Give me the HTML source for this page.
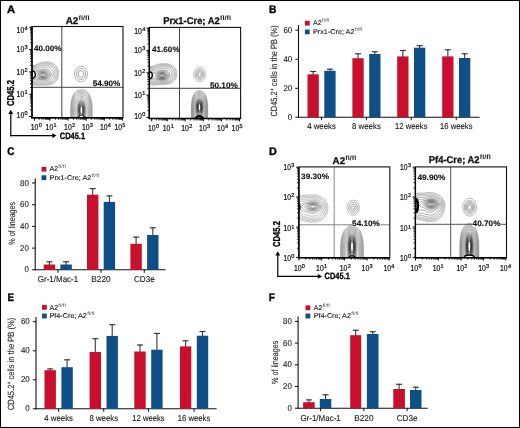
<!DOCTYPE html>
<html><head><meta charset="utf-8"><style>
html,body{margin:0;padding:0;background:#fff;}
body{width:520px;height:428px;overflow:hidden;}
svg{display:block;font-family:"Liberation Sans", sans-serif;will-change:transform;text-rendering:geometricPrecision;}
</style></head><body>
<svg width="520" height="428" viewBox="0 0 520 428">
<rect x="0.5" y="0.5" width="519" height="427" fill="#fff" stroke="#000" stroke-width="1"/>
<text x="7.00" y="12.90" font-size="11.0" font-weight="bold" text-anchor="start" fill="#000" textLength="8.10" lengthAdjust="spacingAndGlyphs" stroke="#000" stroke-width="0.35">A</text>
<text x="268.90" y="13.20" font-size="11.0" font-weight="bold" text-anchor="start" fill="#000" textLength="7.40" lengthAdjust="spacingAndGlyphs" stroke="#000" stroke-width="0.35">B</text>
<text x="7.30" y="154.60" font-size="11.0" font-weight="bold" text-anchor="start" fill="#000" textLength="7.20" lengthAdjust="spacingAndGlyphs" stroke="#000" stroke-width="0.35">C</text>
<text x="269.00" y="154.50" font-size="11.0" font-weight="bold" text-anchor="start" fill="#000" textLength="7.80" lengthAdjust="spacingAndGlyphs" stroke="#000" stroke-width="0.35">D</text>
<text x="7.60" y="301.00" font-size="11.0" font-weight="bold" text-anchor="start" fill="#000" textLength="6.50" lengthAdjust="spacingAndGlyphs" stroke="#000" stroke-width="0.35">E</text>
<text x="268.80" y="301.30" font-size="11.0" font-weight="bold" text-anchor="start" fill="#000" textLength="6.20" lengthAdjust="spacingAndGlyphs" stroke="#000" stroke-width="0.35">F</text>
<clipPath id="clip0"><rect x="32.0" y="26.5" width="91.0" height="91.3"/></clipPath>
<g clip-path="url(#clip0)">
<path d="M29.0,67.5 29.5,67.1 30.0,66.8 30.6,66.4 31.2,66.1 31.8,65.9 32.4,65.7 33.0,65.6 33.6,65.4 34.2,65.3 34.8,65.1 35.4,64.9 36.0,64.6 36.6,64.3 37.2,64.1 37.8,63.8 38.4,63.5 39.0,63.2 39.6,63.0 40.2,62.8 40.8,62.6 41.4,62.4 42.0,62.3 42.6,62.2 43.2,62.1 43.8,62.0 44.4,61.9 45.0,61.9 45.6,61.9 46.2,61.9 46.8,61.9 47.4,61.9 48.0,62.0 48.6,62.1 49.2,62.1 49.8,62.3 50.4,62.4 51.0,62.6 51.6,62.8 52.2,63.1 52.8,63.4 53.4,63.7 54.0,64.1 54.6,64.5 55.1,64.9 55.6,65.4 56.0,65.9 56.5,66.5 56.9,67.1 57.3,67.7 57.6,68.3 57.8,68.9 58.0,69.5 58.2,70.1 58.4,70.7 58.5,71.3 58.5,71.9 58.6,72.5 58.6,73.1 58.6,73.7 58.6,74.3 58.6,74.9 58.5,75.5 58.4,76.1 58.3,76.7 58.1,77.3 57.9,77.9 57.7,78.5 57.4,79.1 57.1,79.7 56.7,80.3 56.2,80.9 55.8,81.4 55.3,81.9 54.8,82.3 54.3,82.7 53.8,83.1 53.2,83.4 52.6,83.7 52.0,84.0 51.4,84.3 50.8,84.5 50.2,84.6 49.6,84.8 49.0,84.9 48.4,85.0 47.8,85.1 47.2,85.1 46.6,85.2 46.0,85.2 45.4,85.2 44.8,85.2 44.2,85.3 43.6,85.3 43.0,85.3 42.4,85.3 41.8,85.3 41.2,85.3 40.6,85.3 40.0,85.3 39.4,85.4 38.8,85.4 38.2,85.4 37.6,85.4 37.0,85.3 36.4,85.3 35.8,85.2 35.2,85.1 34.6,85.0 34.0,84.9 33.4,84.8 32.8,84.6 32.2,84.4 31.6,84.2 31.0,83.9 30.4,83.5 29.8,83.1 29.3,82.7" fill="none" stroke="rgb(95,95,95)" stroke-width="0.4"/>
<path d="M29.0,68.4 29.5,67.9 30.0,67.5 30.6,67.2 31.2,66.9 31.8,66.7 32.4,66.5 33.0,66.4 33.6,66.3 34.2,66.2 34.8,66.1 35.4,65.9 36.0,65.7 36.6,65.4 37.2,65.2 37.8,64.9 38.4,64.6 39.0,64.3 39.6,64.1 40.2,63.9 40.8,63.6 41.4,63.5 42.0,63.3 42.6,63.2 43.2,63.1 43.8,63.0 44.4,62.9 45.0,62.9 45.6,62.9 46.2,62.9 46.8,62.9 47.4,62.9 48.0,63.0 48.6,63.1 49.2,63.2 49.8,63.3 50.4,63.5 51.0,63.7 51.6,63.9 52.2,64.2 52.8,64.6 53.3,64.9 53.9,65.3 54.3,65.7 54.8,66.1 55.3,66.7 55.8,67.3 56.1,67.9 56.5,68.5 56.7,69.1 57.0,69.7 57.1,70.3 57.3,70.9 57.4,71.5 57.5,72.1 57.5,72.7 57.5,73.3 57.5,73.9 57.5,74.5 57.4,75.1 57.4,75.7 57.2,76.3 57.1,76.9 56.9,77.5 56.7,78.1 56.4,78.7 56.0,79.3 55.6,79.9 55.2,80.4 54.8,80.9 54.2,81.4 53.6,81.9 53.0,82.3 52.4,82.7 51.8,83.0 51.2,83.2 50.6,83.4 50.0,83.6 49.4,83.8 48.8,83.9 48.2,84.0 47.6,84.1 47.0,84.1 46.4,84.2 45.8,84.2 45.2,84.2 44.6,84.3 44.0,84.3 43.4,84.3 42.8,84.3 42.2,84.3 41.6,84.3 41.0,84.3 40.4,84.4 39.8,84.4 39.2,84.4 38.6,84.4 38.0,84.4 37.4,84.4 36.8,84.4 36.2,84.3 35.6,84.3 35.0,84.2 34.4,84.1 33.8,84.0 33.2,83.9 32.6,83.7 32.0,83.5 31.4,83.3 30.8,83.0 30.2,82.6 29.6,82.1 29.2,81.7" fill="none" stroke="rgb(89,89,89)" stroke-width="0.4"/>
<path d="M29.0,69.3 29.6,68.7 30.1,68.3 30.6,68.0 31.2,67.7 31.8,67.5 32.4,67.3 33.0,67.2 33.6,67.2 34.2,67.1 34.8,67.1 35.4,67.0 36.0,66.8 36.6,66.6 37.2,66.4 37.8,66.1 38.4,65.9 39.0,65.6 39.6,65.3 40.2,65.1 40.8,64.9 41.4,64.7 42.0,64.5 42.6,64.3 43.2,64.2 43.8,64.1 44.4,64.1 45.0,64.0 45.6,64.0 46.2,64.0 46.8,64.0 47.4,64.1 48.0,64.1 48.6,64.2 49.2,64.4 49.8,64.5 50.4,64.7 51.0,65.0 51.6,65.3 52.2,65.6 52.8,66.0 53.4,66.5 54.0,67.1 54.4,67.5 54.8,68.1 55.2,68.7 55.5,69.3 55.7,69.9 55.9,70.5 56.1,71.1 56.2,71.7 56.2,72.3 56.3,72.9 56.3,73.5 56.3,74.1 56.3,74.7 56.2,75.3 56.1,75.9 55.9,76.5 55.7,77.1 55.5,77.7 55.2,78.3 54.8,78.9 54.4,79.5 54.0,79.9 53.4,80.5 53.0,80.9 52.4,81.3 51.8,81.7 51.2,82.0 50.6,82.2 50.0,82.4 49.4,82.6 48.8,82.8 48.2,82.9 47.6,83.0 47.0,83.0 46.4,83.1 45.8,83.1 45.2,83.1 44.6,83.2 44.0,83.2 43.4,83.2 42.8,83.2 42.2,83.2 41.6,83.2 41.0,83.3 40.4,83.3 39.8,83.3 39.2,83.3 38.6,83.3 38.0,83.3 37.4,83.3 36.8,83.3 36.2,83.3 35.6,83.3 35.0,83.2 34.4,83.2 33.8,83.1 33.2,83.0 32.6,82.8 32.0,82.6 31.4,82.4 30.9,82.1 30.2,81.7 29.7,81.3 29.2,80.8" fill="none" stroke="rgb(84,84,84)" stroke-width="0.4"/>
<path d="M29.0,70.4 29.4,69.9 30.0,69.3 30.6,68.9 31.2,68.6 31.8,68.4 32.4,68.2 33.0,68.2 33.6,68.1 34.2,68.1 34.8,68.1 35.4,68.1 36.0,68.1 36.6,68.0 37.2,67.8 37.8,67.6 38.4,67.3 39.0,67.0 39.6,66.8 40.2,66.5 40.8,66.3 41.4,66.0 42.0,65.9 42.6,65.7 43.2,65.6 43.8,65.5 44.4,65.4 45.0,65.4 45.6,65.3 46.2,65.3 46.8,65.4 47.4,65.4 48.0,65.5 48.6,65.6 49.2,65.8 49.8,66.0 50.4,66.2 51.0,66.5 51.6,66.9 52.2,67.3 52.8,67.9 53.2,68.3 53.6,68.9 54.0,69.5 54.2,70.1 54.5,70.7 54.6,71.3 54.8,71.9 54.8,72.5 54.9,73.1 54.9,73.7 54.9,74.3 54.8,74.9 54.7,75.5 54.6,76.1 54.4,76.7 54.1,77.3 53.8,77.9 53.4,78.5 53.0,79.0 52.5,79.5 52.0,79.9 51.4,80.3 50.8,80.7 50.2,81.0 49.6,81.2 49.0,81.4 48.4,81.5 47.8,81.7 47.2,81.7 46.6,81.8 46.0,81.9 45.4,81.9 44.8,82.0 44.2,82.0 43.6,82.0 43.0,82.0 42.4,82.0 41.8,82.0 41.2,82.1 40.6,82.1 40.0,82.1 39.4,82.1 38.8,82.1 38.2,82.1 37.6,82.1 37.0,82.1 36.4,82.1 35.8,82.1 35.2,82.1 34.6,82.1 34.0,82.1 33.4,82.0 32.8,81.9 32.2,81.7 31.6,81.5 31.0,81.2 30.5,80.9 30.0,80.5 29.4,79.9 29.0,79.3" fill="none" stroke="rgb(78,78,78)" stroke-width="0.4"/>
<path d="M29.0,72.0 29.3,71.3 29.8,70.7 30.2,70.3 30.8,69.8 31.4,69.5 32.0,69.3 32.6,69.2 33.2,69.2 33.8,69.2 34.4,69.3 35.0,69.4 35.6,69.4 36.2,69.4 36.8,69.4 37.4,69.3 38.0,69.1 38.6,68.9 39.2,68.6 39.8,68.4 40.4,68.1 41.0,67.9 41.6,67.7 42.2,67.5 42.8,67.3 43.4,67.2 44.0,67.1 44.6,67.0 45.2,67.0 45.8,67.0 46.4,67.0 47.0,67.0 47.6,67.1 48.2,67.2 48.8,67.4 49.4,67.6 50.0,67.9 50.6,68.3 51.1,68.7 51.6,69.2 52.0,69.7 52.4,70.3 52.7,70.9 52.9,71.5 53.1,72.1 53.2,72.7 53.2,73.3 53.3,73.9 53.2,74.5 53.2,75.1 53.0,75.7 52.9,76.3 52.6,76.8 52.2,77.5 51.8,78.0 51.3,78.5 50.8,78.9 50.2,79.3 49.6,79.6 49.0,79.9 48.4,80.1 47.8,80.3 47.2,80.4 46.6,80.5 46.0,80.6 45.4,80.7 44.8,80.7 44.2,80.8 43.6,80.8 43.0,80.8 42.4,80.8 41.8,80.8 41.2,80.8 40.6,80.8 40.0,80.8 39.4,80.8 38.8,80.8 38.2,80.8 37.6,80.8 37.0,80.8 36.4,80.8 35.8,80.8 35.2,80.9 34.6,80.9 34.0,80.9 33.4,80.9 32.8,80.8 32.2,80.7 31.6,80.5 31.0,80.1 30.4,79.7 29.8,79.1 29.4,78.5 29.1,77.9" fill="none" stroke="rgb(73,73,73)" stroke-width="0.4"/>
<path d="M43.4,79.7 42.8,79.7 42.2,79.7 41.6,79.7 41.0,79.6 40.4,79.6 39.8,79.5 39.2,79.5 38.6,79.4 38.0,79.3 37.4,79.2 36.8,79.2 36.2,79.2 35.6,79.3 35.0,79.4 34.4,79.5 33.8,79.6 33.2,79.6 32.6,79.5 32.0,79.4 31.4,79.1 30.8,78.7 30.4,78.3 30.0,77.7 29.7,77.1 29.5,76.5 29.3,75.9 29.2,75.3 29.2,74.7 29.3,74.1 29.4,73.5 29.6,72.9 29.8,72.3 30.2,71.7 30.6,71.3 31.2,70.8 31.8,70.5 32.4,70.4 33.0,70.4 33.6,70.4 34.2,70.6 34.8,70.7 35.4,70.9 36.0,71.0 36.6,71.0 37.2,70.9 37.8,70.8 38.4,70.6 39.0,70.4 39.6,70.1 40.2,69.9 40.8,69.7 41.4,69.6 42.0,69.4 42.6,69.3 43.2,69.1 43.8,69.1 44.4,69.0 45.0,69.0 45.6,69.0 46.2,69.1 46.8,69.1 47.4,69.3 48.0,69.5 48.6,69.7 49.2,70.1 49.7,70.5 50.2,71.0 50.6,71.5 50.9,72.1 51.1,72.7 51.3,73.3 51.4,73.9 51.4,74.5 51.4,75.1 51.2,75.7 51.0,76.3 50.6,76.9 50.2,77.4 49.6,77.9 49.0,78.3 48.4,78.6 47.8,78.9 47.2,79.1 46.6,79.3 46.0,79.4 45.4,79.5 44.8,79.6 44.2,79.7 43.6,79.7 Z" fill="none" stroke="rgb(67,67,67)" stroke-width="0.4"/>
<path d="M44.0,79.1 43.4,79.2 42.8,79.2 42.2,79.2 41.6,79.1 41.0,79.1 40.4,79.0 39.8,78.9 39.2,78.8 38.6,78.6 38.0,78.5 37.4,78.3 36.8,78.3 36.2,78.2 35.6,78.3 35.0,78.5 34.4,78.6 33.8,78.7 33.2,78.8 32.6,78.7 32.0,78.6 31.5,78.3 31.0,77.9 30.5,77.3 30.2,76.7 29.9,76.1 29.8,75.5 29.8,74.9 29.8,74.3 29.9,73.7 30.1,73.1 30.4,72.5 30.8,72.0 31.4,71.5 32.0,71.2 32.6,71.1 33.2,71.2 33.8,71.3 34.4,71.5 35.0,71.7 35.6,71.9 36.2,72.0 36.8,72.0 37.4,71.8 38.0,71.6 38.6,71.3 39.2,71.1 39.8,70.9 40.4,70.7 41.0,70.5 41.6,70.3 42.2,70.2 42.8,70.1 43.4,70.1 44.0,70.0 44.6,70.0 45.2,70.1 45.8,70.1 46.4,70.3 47.0,70.4 47.6,70.6 48.2,70.9 48.7,71.3 49.2,71.7 49.6,72.2 50.0,72.9 50.2,73.5 50.4,74.1 50.4,74.7 50.3,75.3 50.1,75.9 49.8,76.5 49.4,77.0 48.8,77.5 48.3,77.9 47.6,78.2 47.0,78.5 46.4,78.7 45.8,78.8 45.2,79.0 44.6,79.1 44.0,79.1 Z" fill="none" stroke="rgb(62,62,62)" stroke-width="0.4"/>
<path d="M43.4,78.5 42.8,78.5 42.2,78.5 41.6,78.4 41.0,78.4 40.4,78.2 39.8,78.1 39.2,77.9 38.6,77.7 38.0,77.4 37.4,77.1 36.8,76.8 36.2,76.7 35.6,76.7 35.0,76.9 34.4,77.2 33.8,77.4 33.2,77.6 32.6,77.6 32.0,77.4 31.4,76.9 31.0,76.4 30.7,75.7 30.6,75.1 30.7,74.5 30.8,73.9 31.0,73.3 31.6,72.7 32.2,72.4 32.8,72.3 33.4,72.4 34.0,72.6 34.6,73.0 35.2,73.3 35.8,73.5 36.4,73.5 37.0,73.2 37.6,72.9 38.2,72.6 38.8,72.2 39.4,71.9 40.0,71.7 40.6,71.5 41.2,71.3 41.8,71.2 42.4,71.1 43.0,71.0 43.6,71.0 44.2,71.0 44.8,71.1 45.4,71.2 46.0,71.3 46.6,71.5 47.2,71.8 47.8,72.2 48.4,72.7 48.8,73.3 49.1,73.9 49.2,74.5 49.2,75.1 49.0,75.7 48.6,76.3 48.2,76.8 47.6,77.3 47.0,77.6 46.4,77.9 45.8,78.1 45.2,78.3 44.6,78.4 44.0,78.5 43.4,78.5 Z" fill="none" stroke="rgb(57,57,57)" stroke-width="0.4"/>
<path d="M44.0,77.9 43.4,78.0 42.8,78.0 42.2,77.9 41.6,77.9 41.0,77.8 40.4,77.6 39.8,77.4 39.2,77.1 38.6,76.7 38.1,76.3 37.6,75.7 37.5,75.1 37.6,74.5 38.0,73.9 38.4,73.5 39.0,73.0 39.6,72.6 40.2,72.3 40.8,72.1 41.4,71.9 42.0,71.8 42.6,71.7 43.2,71.7 43.8,71.7 44.4,71.7 45.0,71.8 45.6,72.0 46.2,72.2 46.8,72.6 47.4,73.0 47.8,73.5 48.1,74.1 48.2,74.7 48.1,75.3 47.9,75.9 47.4,76.5 46.9,76.9 46.4,77.2 45.8,77.5 45.2,77.7 44.6,77.8 44.0,77.9 Z" fill="none" stroke="rgb(51,51,51)" stroke-width="0.4"/>
<path d="M33.2,75.9 32.6,76.0 32.0,75.5 31.9,74.9 32.0,74.3 32.5,73.9 33.2,74.0 33.7,74.5 33.8,75.1 33.5,75.7 Z" fill="none" stroke="rgb(51,51,51)" stroke-width="0.4"/>
<path d="M44.6,77.3 44.0,77.4 43.4,77.5 42.8,77.5 42.2,77.5 41.6,77.4 41.0,77.2 40.4,77.0 39.8,76.7 39.3,76.3 38.8,75.7 38.6,75.1 38.7,74.5 39.1,73.9 39.6,73.4 40.2,73.0 40.8,72.7 41.4,72.5 42.0,72.4 42.6,72.3 43.2,72.2 43.8,72.3 44.4,72.3 45.0,72.5 45.6,72.7 46.2,73.0 46.8,73.5 47.2,74.1 47.3,74.7 47.3,75.3 47.0,75.9 46.6,76.3 46.1,76.7 45.4,77.1 44.8,77.3 Z" fill="none" stroke="rgb(46,46,46)" stroke-width="0.4"/>
<path d="M44.2,76.9 43.6,77.0 43.0,77.0 42.4,77.0 41.8,76.9 41.2,76.7 40.6,76.5 40.1,76.1 39.6,75.5 39.5,74.9 39.7,74.3 40.2,73.7 40.8,73.3 41.4,73.1 42.0,72.9 42.6,72.8 43.2,72.8 43.8,72.8 44.4,72.9 45.0,73.1 45.6,73.4 46.1,73.9 46.5,74.5 46.5,75.1 46.2,75.7 45.8,76.2 45.2,76.6 44.6,76.8 Z" fill="none" stroke="rgb(40,40,40)" stroke-width="0.4"/>
<path d="M43.4,76.5 42.8,76.5 42.2,76.5 41.6,76.3 41.0,76.0 40.5,75.5 40.4,74.9 40.6,74.3 41.2,73.8 41.8,73.5 42.4,73.4 43.0,73.3 43.6,73.3 44.2,73.4 44.8,73.7 45.3,74.1 45.7,74.7 45.6,75.3 45.2,75.8 44.6,76.2 44.0,76.4 43.4,76.5 Z" fill="none" stroke="rgb(35,35,35)" stroke-width="0.4"/>
<path d="M43.4,75.9 42.8,75.9 42.2,75.8 41.6,75.4 41.5,74.7 42.0,74.2 42.6,74.0 43.2,73.9 43.8,74.0 44.4,74.4 44.6,75.1 44.2,75.6 43.6,75.9 Z" fill="none" stroke="rgb(30,30,30)" stroke-width="0.4"/>
<path d="M32.00,70.90 A3.30,3.80 0 0 1 32.00,78.50 Z" fill="#fff" stroke="#000" stroke-width="1.4"/>
<path d="M81.2,81.9 80.6,81.9 80.0,81.8 79.4,81.7 78.8,81.4 78.2,81.1 77.6,80.7 77.1,80.3 76.6,79.7 76.2,79.2 75.8,78.7 75.5,78.1 75.3,77.5 75.0,76.9 74.9,76.3 74.7,75.7 74.7,75.1 74.6,74.5 74.6,73.9 74.6,73.3 74.7,72.7 74.8,72.1 74.9,71.5 75.1,70.9 75.3,70.3 75.6,69.8 76.0,69.1 76.4,68.5 76.8,68.0 77.4,67.5 77.9,67.1 78.4,66.8 79.0,66.5 79.6,66.3 80.2,66.2 80.8,66.1 81.4,66.1 82.0,66.2 82.6,66.3 83.2,66.6 83.8,66.9 84.4,67.3 84.9,67.7 85.4,68.3 85.8,68.8 86.2,69.3 86.5,69.9 86.7,70.5 87.0,71.1 87.1,71.7 87.3,72.3 87.3,72.9 87.4,73.5 87.4,74.1 87.4,74.7 87.3,75.3 87.2,75.9 87.1,76.5 86.9,77.1 86.7,77.7 86.4,78.2 86.0,78.9 85.6,79.5 85.2,80.0 84.6,80.5 84.1,80.9 83.6,81.2 83.0,81.5 82.4,81.7 81.8,81.8 81.2,81.9 Z" fill="none" stroke="rgb(90,90,90)" stroke-width="0.5"/>
<path d="M81.4,79.5 80.8,79.5 80.2,79.4 79.6,79.3 79.0,79.0 78.4,78.5 77.8,77.9 77.4,77.3 77.1,76.7 76.9,76.1 76.7,75.5 76.6,74.9 76.5,74.3 76.5,73.7 76.6,73.1 76.7,72.5 76.9,71.9 77.1,71.3 77.4,70.7 77.8,70.1 78.4,69.5 78.9,69.1 79.6,68.7 80.2,68.6 80.8,68.5 81.4,68.5 82.0,68.6 82.6,68.8 83.2,69.2 83.8,69.7 84.3,70.3 84.7,70.9 85.0,71.5 85.2,72.1 85.4,72.7 85.4,73.3 85.5,73.9 85.5,74.5 85.4,75.1 85.3,75.7 85.1,76.3 84.8,76.9 84.5,77.5 84.0,78.1 83.4,78.7 82.8,79.1 82.2,79.3 81.6,79.5 Z" fill="none" stroke="rgb(75,75,75)" stroke-width="0.5"/>
<path d="M81.2,77.3 80.6,77.3 80.0,77.1 79.4,76.7 79.0,76.2 78.7,75.7 78.4,75.1 78.3,74.5 78.3,73.9 78.4,73.3 78.5,72.7 78.8,72.1 79.2,71.5 79.7,71.1 80.2,70.8 80.8,70.7 81.4,70.7 82.0,70.9 82.6,71.3 83.0,71.8 83.3,72.3 83.6,72.9 83.7,73.5 83.7,74.1 83.6,74.7 83.5,75.3 83.2,75.9 82.8,76.5 82.3,76.9 81.8,77.2 81.2,77.3 Z" fill="none" stroke="rgb(60,60,60)" stroke-width="0.5"/>
<path d="M71.0,120.7 70.9,120.1 70.9,119.5 70.8,118.9 70.8,118.3 70.7,117.7 70.7,117.1 70.7,116.5 70.7,115.9 70.6,115.3 70.6,114.7 70.6,114.1 70.6,113.5 70.6,112.9 70.6,112.3 70.6,111.7 70.6,111.1 70.6,110.5 70.6,109.9 70.6,109.3 70.6,108.7 70.7,108.1 70.7,107.5 70.7,106.9 70.7,106.3 70.8,105.7 70.8,105.1 70.9,104.5 70.9,103.9 71.0,103.3 71.1,102.7 71.2,102.1 71.2,101.5 71.4,100.9 71.5,100.3 71.6,99.7 71.7,99.1 71.9,98.5 72.1,97.9 72.2,97.3 72.5,96.7 72.7,96.1 72.9,95.5 73.2,94.9 73.6,94.3 73.9,93.7 74.3,93.1 74.8,92.5 75.4,91.9 75.9,91.5 76.4,91.1 77.0,90.8 77.5,90.5 78.2,90.3 78.8,90.1 79.4,90.0 80.0,89.9 80.6,89.8 81.2,89.8 81.8,89.8 82.4,89.8 83.0,89.9 83.6,90.0 84.2,90.1 84.8,90.3 85.4,90.6 86.0,90.9 86.6,91.2 87.2,91.7 87.8,92.3 88.2,92.8 88.6,93.3 89.0,93.9 89.4,94.5 89.7,95.1 89.9,95.7 90.2,96.3 90.4,96.9 90.6,97.5 90.8,98.1 91.0,98.7 91.1,99.3 91.3,99.9 91.4,100.5 91.5,101.1 91.6,101.7 91.7,102.3 91.8,102.9 91.8,103.5 91.9,104.1 91.9,104.7 92.0,105.3 92.0,105.9 92.1,106.5 92.1,107.1 92.1,107.7 92.1,108.3 92.2,108.9 92.2,109.5 92.2,110.1 92.2,110.7 92.2,111.3 92.2,111.9 92.2,112.5 92.2,113.1 92.2,113.7 92.2,114.3 92.2,114.9 92.1,115.5 92.1,116.1 92.1,116.7 92.1,117.3 92.0,117.9 92.0,118.5 92.0,119.1 91.9,119.7 91.8,120.3" fill="none" stroke="rgb(85,85,85)" stroke-width="0.42"/>
<path d="M71.6,120.7 71.5,120.1 71.5,119.5 71.4,118.9 71.4,118.3 71.3,117.7 71.3,117.1 71.3,116.5 71.3,115.9 71.2,115.3 71.2,114.7 71.2,114.1 71.2,113.5 71.2,112.9 71.2,112.3 71.2,111.7 71.2,111.1 71.2,110.5 71.2,109.9 71.2,109.3 71.2,108.7 71.3,108.1 71.3,107.5 71.3,106.9 71.3,106.3 71.4,105.7 71.4,105.1 71.5,104.5 71.5,103.9 71.6,103.3 71.7,102.7 71.8,102.1 71.9,101.5 72.0,100.9 72.1,100.3 72.3,99.7 72.4,99.1 72.6,98.5 72.8,97.9 73.0,97.3 73.3,96.7 73.5,96.1 73.8,95.5 74.2,94.9 74.6,94.3 75.0,93.8 75.4,93.3 76.0,92.7 76.6,92.3 77.2,91.9 77.8,91.6 78.4,91.4 79.0,91.2 79.6,91.1 80.2,91.0 80.8,91.0 81.4,91.0 82.0,91.0 82.6,91.0 83.2,91.1 83.8,91.2 84.4,91.4 85.0,91.6 85.6,91.9 86.2,92.3 86.7,92.7 87.2,93.1 87.7,93.7 88.2,94.3 88.6,94.9 89.0,95.5 89.3,96.1 89.5,96.7 89.8,97.3 90.0,97.9 90.2,98.5 90.4,99.1 90.5,99.7 90.7,100.3 90.8,100.9 90.9,101.5 91.0,102.1 91.1,102.7 91.2,103.3 91.3,103.9 91.3,104.5 91.4,105.1 91.4,105.7 91.5,106.3 91.5,106.9 91.5,107.5 91.5,108.1 91.6,108.7 91.6,109.3 91.6,109.9 91.6,110.5 91.6,111.1 91.6,111.7 91.6,112.3 91.6,112.9 91.6,113.5 91.6,114.1 91.6,114.7 91.6,115.3 91.5,115.9 91.5,116.5 91.5,117.1 91.5,117.7 91.4,118.3 91.4,118.9 91.3,119.5 91.3,120.1 91.2,120.7" fill="none" stroke="rgb(81,81,81)" stroke-width="0.42"/>
<path d="M72.3,120.7 72.2,120.1 72.2,119.5 72.1,118.9 72.0,118.3 72.0,117.7 72.0,117.1 71.9,116.5 71.9,115.9 71.9,115.3 71.9,114.7 71.9,114.1 71.9,113.5 71.9,112.9 71.9,112.3 71.9,111.7 71.9,111.1 71.9,110.5 71.9,109.9 71.9,109.3 71.9,108.7 71.9,108.1 71.9,107.5 72.0,106.9 72.0,106.3 72.0,105.7 72.1,105.1 72.2,104.5 72.2,103.9 72.3,103.3 72.4,102.7 72.5,102.1 72.6,101.5 72.8,100.9 72.9,100.3 73.1,99.7 73.3,99.1 73.5,98.5 73.7,97.9 73.9,97.3 74.2,96.7 74.6,96.1 75.0,95.5 75.4,94.9 75.8,94.5 76.4,93.9 76.9,93.5 77.6,93.1 78.2,92.8 78.8,92.6 79.4,92.4 80.0,92.3 80.6,92.2 81.2,92.2 81.8,92.2 82.4,92.2 83.0,92.3 83.6,92.5 84.2,92.7 84.8,92.9 85.4,93.2 86.0,93.6 86.6,94.1 87.2,94.7 87.6,95.2 88.0,95.7 88.3,96.3 88.7,96.9 88.9,97.5 89.2,98.1 89.4,98.7 89.6,99.3 89.8,99.9 89.9,100.5 90.1,101.1 90.2,101.7 90.3,102.3 90.4,102.9 90.5,103.5 90.6,104.1 90.7,104.7 90.7,105.3 90.8,105.9 90.8,106.5 90.8,107.1 90.9,107.7 90.9,108.3 90.9,108.9 90.9,109.5 90.9,110.1 90.9,110.7 90.9,111.3 90.9,111.9 90.9,112.5 90.9,113.1 90.9,113.7 90.9,114.3 90.9,114.9 90.9,115.5 90.9,116.1 90.9,116.7 90.8,117.3 90.8,117.9 90.7,118.5 90.7,119.1 90.6,119.7 90.5,120.3" fill="none" stroke="rgb(78,78,78)" stroke-width="0.42"/>
<path d="M73.1,120.7 73.0,120.1 72.9,119.5 72.9,118.9 72.8,118.3 72.7,117.7 72.7,117.1 72.7,116.5 72.6,115.9 72.6,115.3 72.6,114.7 72.6,114.1 72.6,113.5 72.6,112.9 72.6,112.3 72.6,111.7 72.6,111.1 72.6,110.5 72.6,109.9 72.6,109.3 72.6,108.7 72.6,108.1 72.7,107.5 72.7,106.9 72.7,106.3 72.8,105.7 72.9,105.1 72.9,104.5 73.0,103.9 73.1,103.3 73.2,102.7 73.3,102.1 73.5,101.5 73.6,100.9 73.8,100.3 74.0,99.7 74.2,99.1 74.5,98.5 74.8,97.9 75.1,97.3 75.5,96.7 75.9,96.1 76.4,95.6 77.0,95.1 77.5,94.7 78.2,94.3 78.8,94.0 79.4,93.8 80.0,93.6 80.6,93.5 81.2,93.4 81.8,93.4 82.4,93.5 83.0,93.7 83.6,93.8 84.2,94.1 84.8,94.4 85.4,94.8 86.0,95.2 86.5,95.7 87.0,96.3 87.4,96.8 87.8,97.5 88.1,98.1 88.4,98.7 88.7,99.3 88.9,99.9 89.1,100.5 89.2,101.1 89.4,101.7 89.5,102.3 89.6,102.9 89.7,103.5 89.8,104.1 89.9,104.7 90.0,105.3 90.0,105.9 90.1,106.5 90.1,107.1 90.1,107.7 90.2,108.3 90.2,108.9 90.2,109.5 90.2,110.1 90.2,110.7 90.2,111.3 90.2,111.9 90.2,112.5 90.2,113.1 90.2,113.7 90.2,114.3 90.2,114.9 90.2,115.5 90.2,116.1 90.1,116.7 90.1,117.3 90.0,117.9 90.0,118.5 89.9,119.1 89.8,119.7 89.8,120.3" fill="none" stroke="rgb(74,74,74)" stroke-width="0.42"/>
<path d="M74.0,120.7 73.9,120.1 73.8,119.5 73.7,118.9 73.7,118.3 73.6,117.7 73.6,117.1 73.5,116.5 73.5,115.9 73.5,115.3 73.4,114.7 73.4,114.1 73.4,113.5 73.4,112.9 73.4,112.3 73.4,111.7 73.4,111.1 73.4,110.5 73.4,109.9 73.4,109.3 73.5,108.7 73.5,108.1 73.5,107.5 73.6,106.9 73.6,106.3 73.7,105.7 73.7,105.1 73.8,104.5 73.9,103.9 74.0,103.3 74.2,102.7 74.3,102.1 74.5,101.5 74.7,100.9 74.9,100.3 75.2,99.7 75.5,99.1 75.8,98.5 76.2,97.9 76.6,97.4 77.1,96.9 77.6,96.4 78.2,96.0 78.8,95.6 79.4,95.3 80.0,95.0 80.6,94.9 81.2,94.8 81.8,94.8 82.4,94.9 83.0,95.1 83.6,95.4 84.2,95.7 84.8,96.1 85.3,96.5 85.8,97.0 86.3,97.5 86.7,98.1 87.1,98.7 87.5,99.3 87.7,99.9 88.0,100.5 88.2,101.1 88.4,101.7 88.5,102.3 88.7,102.9 88.8,103.5 88.9,104.1 89.0,104.7 89.1,105.3 89.2,105.9 89.2,106.5 89.3,107.1 89.3,107.7 89.3,108.3 89.4,108.9 89.4,109.5 89.4,110.1 89.4,110.7 89.4,111.3 89.4,111.9 89.4,112.5 89.4,113.1 89.4,113.7 89.4,114.3 89.4,114.9 89.3,115.5 89.3,116.1 89.3,116.7 89.2,117.3 89.2,117.9 89.1,118.5 89.0,119.1 88.9,119.7 88.8,120.3" fill="none" stroke="rgb(71,71,71)" stroke-width="0.42"/>
<path d="M75.2,120.7 75.1,120.1 74.9,119.5 74.8,118.9 74.7,118.3 74.7,117.7 74.6,117.1 74.5,116.5 74.5,115.9 74.5,115.3 74.4,114.7 74.4,114.1 74.4,113.5 74.4,112.9 74.4,112.3 74.4,111.7 74.4,111.1 74.4,110.5 74.4,109.9 74.4,109.3 74.5,108.7 74.5,108.1 74.5,107.5 74.6,106.9 74.7,106.3 74.7,105.7 74.8,105.1 74.9,104.5 75.1,103.9 75.2,103.3 75.4,102.7 75.6,102.1 75.8,101.5 76.1,100.9 76.4,100.3 76.7,99.7 77.1,99.1 77.6,98.5 78.2,97.9 78.6,97.5 79.2,97.0 79.8,96.6 80.4,96.3 81.0,96.2 81.6,96.2 82.2,96.3 82.8,96.5 83.4,96.9 84.0,97.3 84.6,97.9 85.2,98.5 85.6,99.0 86.0,99.6 86.3,100.1 86.6,100.7 86.9,101.3 87.2,101.9 87.4,102.5 87.5,103.1 87.7,103.7 87.8,104.3 87.9,104.9 88.0,105.5 88.1,106.1 88.2,106.7 88.2,107.3 88.3,107.9 88.3,108.5 88.3,109.1 88.4,109.7 88.4,110.3 88.4,110.9 88.4,111.5 88.4,112.1 88.4,112.7 88.4,113.3 88.4,113.9 88.4,114.5 88.3,115.1 88.3,115.7 88.3,116.3 88.2,116.9 88.2,117.5 88.1,118.1 88.0,118.7 87.9,119.3 87.8,119.9 87.6,120.5" fill="none" stroke="rgb(67,67,67)" stroke-width="0.42"/>
<path d="M76.8,120.7 76.6,120.1 76.4,119.5 76.2,118.9 76.1,118.3 76.0,117.7 75.9,117.1 75.9,116.5 75.8,115.9 75.8,115.3 75.7,114.7 75.7,114.1 75.7,113.5 75.7,112.9 75.7,112.3 75.7,111.7 75.7,111.1 75.7,110.5 75.7,109.9 75.7,109.3 75.7,108.7 75.8,108.1 75.8,107.5 75.9,106.9 76.0,106.3 76.1,105.7 76.2,105.1 76.3,104.5 76.5,103.9 76.7,103.3 76.9,102.7 77.1,102.1 77.4,101.5 77.7,100.9 78.1,100.3 78.4,99.8 78.8,99.2 79.2,98.8 79.7,98.3 80.2,97.9 80.7,97.7 81.4,97.6 82.0,97.7 82.6,97.9 83.1,98.3 83.6,98.8 84.0,99.2 84.4,99.8 84.7,100.3 85.1,100.9 85.4,101.5 85.7,102.1 85.9,102.7 86.1,103.3 86.3,103.9 86.5,104.5 86.6,105.1 86.7,105.7 86.8,106.3 86.9,106.9 87.0,107.5 87.0,108.1 87.1,108.7 87.1,109.3 87.1,109.9 87.1,110.5 87.1,111.1 87.1,111.7 87.1,112.3 87.1,112.9 87.1,113.5 87.1,114.1 87.1,114.7 87.0,115.3 87.0,115.9 86.9,116.5 86.9,117.1 86.8,117.7 86.7,118.3 86.6,118.9 86.4,119.5 86.2,120.1 86.0,120.7" fill="none" stroke="rgb(64,64,64)" stroke-width="0.42"/>
<path d="M78.3,120.7 77.8,120.2 77.4,119.7 77.1,119.1 77.0,118.5 77.0,117.9 77.1,117.3 77.3,116.7 77.3,116.1 77.3,115.5 77.2,114.9 77.1,114.3 77.1,113.7 77.1,113.1 77.1,112.5 77.0,111.9 77.0,111.3 77.0,110.7 77.0,110.1 77.0,109.5 77.1,108.9 77.1,108.3 77.2,107.7 77.2,107.1 77.3,106.5 77.4,105.9 77.5,105.3 77.6,104.7 77.8,104.1 78.0,103.5 78.2,102.9 78.4,102.3 78.7,101.7 79.0,101.1 79.3,100.5 79.8,99.9 80.3,99.5 80.8,99.2 81.4,99.1 82.0,99.2 82.5,99.5 83.0,99.9 83.4,100.4 83.8,101.0 84.1,101.7 84.4,102.3 84.6,102.9 84.8,103.5 85.0,104.1 85.2,104.7 85.3,105.3 85.4,105.9 85.5,106.5 85.6,107.1 85.6,107.7 85.7,108.3 85.7,108.9 85.8,109.5 85.8,110.1 85.8,110.7 85.8,111.3 85.8,111.9 85.7,112.5 85.7,113.1 85.7,113.7 85.7,114.3 85.6,114.9 85.5,115.5 85.5,116.1 85.5,116.7 85.7,117.3 85.8,117.9 85.8,118.5 85.7,119.1 85.4,119.7 85.0,120.2 84.5,120.7" fill="none" stroke="rgb(60,60,60)" stroke-width="0.42"/>
<path d="M78.7,120.7 78.2,120.3 77.6,119.7 77.3,119.1 77.2,118.5 77.2,117.9 77.4,117.3 77.8,116.7 78.1,116.1 78.2,115.5 78.1,114.9 78.0,114.3 77.9,113.7 77.9,113.1 77.8,112.5 77.8,111.9 77.8,111.3 77.8,110.7 77.8,110.1 77.8,109.5 77.8,108.9 77.9,108.3 77.9,107.7 78.0,107.1 78.1,106.5 78.1,105.9 78.3,105.3 78.4,104.7 78.6,104.1 78.7,103.5 79.0,102.9 79.2,102.3 79.5,101.7 79.9,101.1 80.4,100.6 81.0,100.3 81.6,100.2 82.2,100.5 82.7,100.9 83.1,101.5 83.5,102.1 83.8,102.7 84.0,103.3 84.2,103.9 84.4,104.5 84.5,105.1 84.6,105.7 84.7,106.3 84.8,106.9 84.9,107.5 84.9,108.1 85.0,108.7 85.0,109.3 85.0,109.9 85.0,110.5 85.0,111.1 85.0,111.7 85.0,112.3 84.9,112.9 84.9,113.5 84.8,114.1 84.8,114.7 84.7,115.3 84.6,115.9 84.9,116.5 85.3,117.1 85.5,117.7 85.6,118.3 85.5,118.9 85.3,119.5 84.8,120.1 84.4,120.5" fill="none" stroke="rgb(57,57,57)" stroke-width="0.42"/>
<path d="M78.9,120.7 78.4,120.4 77.9,119.9 77.5,119.3 77.3,118.7 77.3,118.1 77.5,117.5 77.8,116.9 78.2,116.4 78.6,115.9 78.7,115.3 78.6,114.7 78.5,114.1 78.4,113.5 78.3,112.9 78.3,112.3 78.3,111.7 78.2,111.1 78.2,110.5 78.2,109.9 78.3,109.3 78.3,108.7 78.3,108.1 78.4,107.5 78.5,106.9 78.5,106.3 78.6,105.7 78.8,105.1 78.9,104.5 79.1,103.9 79.3,103.3 79.6,102.7 80.0,102.1 80.4,101.6 81.0,101.2 81.6,101.1 82.2,101.4 82.7,101.9 83.1,102.5 83.4,103.1 83.6,103.7 83.8,104.3 84.0,104.9 84.1,105.5 84.2,106.1 84.3,106.7 84.4,107.3 84.5,107.9 84.5,108.5 84.5,109.1 84.6,109.7 84.6,110.3 84.6,110.9 84.5,111.5 84.5,112.1 84.5,112.7 84.4,113.3 84.4,113.9 84.3,114.5 84.2,115.1 84.1,115.7 84.5,116.3 85.0,116.9 85.3,117.5 85.5,118.1 85.5,118.7 85.3,119.3 84.9,119.9 84.4,120.4 83.9,120.7" fill="none" stroke="rgb(54,54,54)" stroke-width="0.42"/>
<path d="M79.0,120.7 78.4,120.3 78.0,119.9 77.6,119.3 77.4,118.7 77.4,118.1 77.6,117.5 77.9,116.9 78.4,116.4 78.9,115.9 79.1,115.3 79.0,114.7 78.9,114.1 78.8,113.5 78.7,112.9 78.7,112.3 78.6,111.7 78.6,111.1 78.6,110.5 78.6,109.9 78.6,109.3 78.6,108.7 78.7,108.1 78.7,107.5 78.8,106.9 78.9,106.3 79.0,105.7 79.2,105.1 79.3,104.5 79.6,103.9 79.8,103.3 80.2,102.7 80.6,102.2 81.2,101.9 81.8,102.0 82.4,102.4 82.8,103.0 83.2,103.7 83.4,104.3 83.6,104.9 83.7,105.5 83.9,106.1 84.0,106.7 84.0,107.3 84.1,107.9 84.2,108.5 84.2,109.1 84.2,109.7 84.2,110.3 84.2,110.9 84.2,111.5 84.1,112.1 84.1,112.7 84.0,113.3 84.0,113.9 83.9,114.5 83.8,115.1 83.8,115.7 84.2,116.2 84.7,116.7 85.1,117.3 85.4,117.9 85.4,118.5 85.3,119.1 85.0,119.7 84.4,120.3 83.8,120.7" fill="none" stroke="rgb(50,50,50)" stroke-width="0.42"/>
<path d="M79.2,120.7 78.6,120.4 78.1,119.9 77.7,119.3 77.5,118.7 77.5,118.1 77.6,117.5 78.0,116.9 78.6,116.3 79.1,115.9 79.4,115.3 79.3,114.7 79.2,114.1 79.1,113.5 79.0,112.9 79.0,112.3 78.9,111.7 78.9,111.1 78.9,110.5 78.9,109.9 78.9,109.3 78.9,108.7 79.0,108.1 79.0,107.5 79.1,106.9 79.2,106.3 79.4,105.7 79.5,105.1 79.7,104.5 80.0,103.9 80.4,103.3 80.8,102.8 81.4,102.6 82.0,102.8 82.4,103.3 82.8,103.9 83.1,104.5 83.3,105.1 83.4,105.7 83.6,106.3 83.7,106.9 83.8,107.5 83.8,108.1 83.9,108.7 83.9,109.3 83.9,109.9 83.9,110.5 83.9,111.1 83.9,111.7 83.8,112.3 83.8,112.9 83.7,113.5 83.6,114.1 83.5,114.7 83.4,115.3 83.7,115.9 84.2,116.3 84.8,116.9 85.2,117.5 85.3,118.1 85.3,118.7 85.1,119.3 84.8,119.8 84.3,120.3 83.6,120.7" fill="none" stroke="rgb(47,47,47)" stroke-width="0.42"/>
<path d="M79.3,120.7 78.6,120.3 78.1,119.9 77.7,119.3 77.5,118.7 77.5,118.1 77.7,117.5 78.1,116.9 78.6,116.4 79.2,115.9 79.7,115.5 79.7,114.9 79.6,114.3 79.4,113.7 79.4,113.1 79.3,112.5 79.2,111.9 79.2,111.3 79.2,110.7 79.2,110.1 79.2,109.5 79.2,108.9 79.2,108.3 79.3,107.7 79.4,107.1 79.5,106.5 79.6,105.9 79.8,105.3 80.0,104.7 80.4,104.1 80.8,103.6 81.4,103.3 82.0,103.6 82.4,104.0 82.8,104.7 83.0,105.3 83.2,105.9 83.3,106.5 83.4,107.1 83.5,107.7 83.6,108.3 83.6,108.9 83.6,109.5 83.6,110.1 83.6,110.7 83.6,111.3 83.6,111.9 83.5,112.5 83.4,113.1 83.4,113.7 83.2,114.3 83.1,114.9 83.1,115.5 83.6,115.9 84.2,116.4 84.7,116.9 85.1,117.5 85.3,118.1 85.3,118.7 85.1,119.3 84.7,119.9 84.2,120.3 83.6,120.7" fill="none" stroke="rgb(43,43,43)" stroke-width="0.42"/>
<path d="M79.4,120.7 78.8,120.4 78.2,119.9 77.8,119.3 77.6,118.7 77.6,118.1 77.8,117.5 78.1,116.9 78.6,116.5 79.1,116.1 79.8,115.7 80.1,115.1 79.9,114.5 79.8,113.9 79.7,113.3 79.6,112.7 79.5,112.1 79.4,111.5 79.4,110.9 79.4,110.3 79.4,109.7 79.4,109.1 79.5,108.5 79.5,107.9 79.6,107.3 79.7,106.7 79.9,106.1 80.1,105.5 80.4,104.9 80.8,104.3 81.4,104.0 82.0,104.3 82.4,104.8 82.7,105.5 82.9,106.1 83.1,106.7 83.2,107.3 83.3,107.9 83.3,108.5 83.4,109.1 83.4,109.7 83.4,110.3 83.4,110.9 83.4,111.5 83.3,112.1 83.2,112.7 83.1,113.3 83.0,113.9 82.9,114.5 82.7,115.1 83.0,115.7 83.6,116.0 84.2,116.5 84.7,116.9 85.0,117.4 85.2,118.1 85.2,118.7 85.0,119.3 84.6,119.9 84.1,120.3 83.6,120.6" fill="none" stroke="rgb(40,40,40)" stroke-width="0.42"/>
<path d="M79.4,120.7 78.8,120.4 78.2,119.9 77.8,119.3 77.6,118.7 77.6,118.1 77.8,117.5 78.2,116.9 78.8,116.4 79.4,116.0 79.9,115.7 80.5,115.3 80.4,114.7 80.2,114.1 80.0,113.5 79.9,112.9 79.8,112.3 79.7,111.7 79.7,111.1 79.6,110.5 79.6,109.9 79.7,109.3 79.7,108.7 79.8,108.1 79.9,107.5 80.0,106.9 80.1,106.3 80.4,105.7 80.7,105.1 81.2,104.7 81.8,104.8 82.2,105.3 82.5,105.9 82.7,106.5 82.9,107.1 83.0,107.7 83.1,108.3 83.1,108.9 83.1,109.5 83.2,110.1 83.1,110.7 83.1,111.3 83.1,111.9 83.0,112.5 82.9,113.1 82.8,113.7 82.6,114.3 82.3,114.9 82.5,115.5 83.2,115.9 83.8,116.2 84.4,116.7 84.8,117.2 85.1,117.7 85.2,118.3 85.2,118.9 84.9,119.5 84.4,120.1 83.8,120.5" fill="none" stroke="rgb(36,36,36)" stroke-width="0.42"/>
<path d="M81.6,115.0 81.0,114.8 80.6,114.3 80.4,113.7 80.2,113.1 80.1,112.5 80.0,111.9 79.9,111.3 79.9,110.7 79.9,110.1 79.9,109.5 79.9,108.9 80.0,108.3 80.1,107.7 80.2,107.1 80.4,106.5 80.7,105.9 81.2,105.4 81.8,105.6 82.2,106.1 82.5,106.7 82.6,107.3 82.7,107.9 82.8,108.5 82.9,109.1 82.9,109.7 82.9,110.3 82.9,110.9 82.9,111.5 82.8,112.1 82.7,112.7 82.5,113.3 82.3,113.9 82.0,114.5 81.6,115.0 Z" fill="none" stroke="rgb(33,33,33)" stroke-width="0.42"/>
<path d="M79.5,120.7 78.8,120.3 78.3,119.9 77.8,119.3 77.6,118.7 77.6,118.1 77.8,117.5 78.2,116.9 78.7,116.5 79.2,116.1 79.8,115.8 80.4,115.6 81.0,115.3 81.6,115.2 82.2,115.5 82.8,115.7 83.4,116.0 84.0,116.4 84.6,116.9 85.0,117.5 85.2,118.1 85.2,118.7 85.0,119.3 84.6,119.8 84.0,120.3 83.4,120.7" fill="none" stroke="rgb(33,33,33)" stroke-width="0.42"/>
<path d="M81.4,114.1 80.8,113.7 80.5,113.1 80.4,112.5 80.3,111.9 80.2,111.3 80.1,110.7 80.1,110.1 80.1,109.5 80.2,108.9 80.3,108.3 80.4,107.7 80.6,107.1 80.9,106.5 81.4,106.1 81.9,106.5 82.2,107.1 82.4,107.7 82.5,108.3 82.6,108.9 82.7,109.5 82.7,110.1 82.7,110.7 82.6,111.3 82.5,111.9 82.4,112.5 82.3,113.1 82.0,113.7 81.4,114.1 Z" fill="none" stroke="rgb(30,30,30)" stroke-width="0.42"/>
<path d="M79.6,120.7 79.0,120.4 78.4,120.0 78.0,119.5 77.7,118.9 77.6,118.3 77.8,117.7 78.1,117.1 78.6,116.6 79.2,116.2 79.8,115.9 80.4,115.6 81.0,115.5 81.6,115.5 82.2,115.6 82.8,115.8 83.4,116.1 84.0,116.4 84.5,116.9 84.9,117.5 85.1,118.1 85.1,118.7 84.9,119.3 84.5,119.9 84.0,120.3 83.4,120.6" fill="none" stroke="rgb(30,30,30)" stroke-width="0.42"/>
</g>
<line x1="61.80" y1="26.50" x2="61.80" y2="117.80" stroke="#444" stroke-width="1.0"/>
<line x1="32.00" y1="87.30" x2="123.00" y2="87.30" stroke="#444" stroke-width="1.0"/>
<rect x="32.0" y="26.5" width="91.0" height="91.3" fill="none" stroke="#111" stroke-width="1.1"/>
<line x1="32.00" y1="26.50" x2="32.00" y2="118.40" stroke="#000" stroke-width="1.45"/>
<line x1="31.40" y1="117.80" x2="123.00" y2="117.80" stroke="#000" stroke-width="1.45"/>
<line x1="29.20" y1="27.30" x2="32.00" y2="27.30" stroke="#000" stroke-width="1.0"/>
<text x="16.60" y="32.80" font-size="8.6" font-weight="normal" text-anchor="start" fill="#111" textLength="7.60" lengthAdjust="spacingAndGlyphs" stroke="#111" stroke-width="0.22">10</text>
<text x="24.50" y="29.90" font-size="5.6" font-weight="normal" text-anchor="start" fill="#111" textLength="3.10" lengthAdjust="spacingAndGlyphs" stroke="#111" stroke-width="0.22">4</text>
<line x1="30.00" y1="42.89" x2="32.00" y2="42.89" stroke="#000" stroke-width="0.8"/>
<line x1="30.00" y1="38.96" x2="32.00" y2="38.96" stroke="#000" stroke-width="0.8"/>
<line x1="30.00" y1="36.17" x2="32.00" y2="36.17" stroke="#000" stroke-width="0.8"/>
<line x1="30.00" y1="34.01" x2="32.00" y2="34.01" stroke="#000" stroke-width="0.8"/>
<line x1="30.00" y1="32.25" x2="32.00" y2="32.25" stroke="#000" stroke-width="0.8"/>
<line x1="30.00" y1="30.75" x2="32.00" y2="30.75" stroke="#000" stroke-width="0.8"/>
<line x1="30.00" y1="29.46" x2="32.00" y2="29.46" stroke="#000" stroke-width="0.8"/>
<line x1="30.00" y1="28.32" x2="32.00" y2="28.32" stroke="#000" stroke-width="0.8"/>
<line x1="29.20" y1="49.60" x2="32.00" y2="49.60" stroke="#000" stroke-width="1.0"/>
<text x="16.60" y="51.70" font-size="8.6" font-weight="normal" text-anchor="start" fill="#111" textLength="7.60" lengthAdjust="spacingAndGlyphs" stroke="#111" stroke-width="0.22">10</text>
<text x="24.50" y="48.80" font-size="5.6" font-weight="normal" text-anchor="start" fill="#111" textLength="3.10" lengthAdjust="spacingAndGlyphs" stroke="#111" stroke-width="0.22">3</text>
<line x1="30.00" y1="65.19" x2="32.00" y2="65.19" stroke="#000" stroke-width="0.8"/>
<line x1="30.00" y1="61.26" x2="32.00" y2="61.26" stroke="#000" stroke-width="0.8"/>
<line x1="30.00" y1="58.47" x2="32.00" y2="58.47" stroke="#000" stroke-width="0.8"/>
<line x1="30.00" y1="56.31" x2="32.00" y2="56.31" stroke="#000" stroke-width="0.8"/>
<line x1="30.00" y1="54.55" x2="32.00" y2="54.55" stroke="#000" stroke-width="0.8"/>
<line x1="30.00" y1="53.05" x2="32.00" y2="53.05" stroke="#000" stroke-width="0.8"/>
<line x1="30.00" y1="51.76" x2="32.00" y2="51.76" stroke="#000" stroke-width="0.8"/>
<line x1="30.00" y1="50.62" x2="32.00" y2="50.62" stroke="#000" stroke-width="0.8"/>
<line x1="29.20" y1="71.90" x2="32.00" y2="71.90" stroke="#000" stroke-width="1.0"/>
<text x="16.60" y="74.90" font-size="8.6" font-weight="normal" text-anchor="start" fill="#111" textLength="7.60" lengthAdjust="spacingAndGlyphs" stroke="#111" stroke-width="0.22">10</text>
<text x="24.50" y="72.00" font-size="5.6" font-weight="normal" text-anchor="start" fill="#111" textLength="3.10" lengthAdjust="spacingAndGlyphs" stroke="#111" stroke-width="0.22">2</text>
<line x1="30.00" y1="87.49" x2="32.00" y2="87.49" stroke="#000" stroke-width="0.8"/>
<line x1="30.00" y1="83.56" x2="32.00" y2="83.56" stroke="#000" stroke-width="0.8"/>
<line x1="30.00" y1="80.77" x2="32.00" y2="80.77" stroke="#000" stroke-width="0.8"/>
<line x1="30.00" y1="78.61" x2="32.00" y2="78.61" stroke="#000" stroke-width="0.8"/>
<line x1="30.00" y1="76.85" x2="32.00" y2="76.85" stroke="#000" stroke-width="0.8"/>
<line x1="30.00" y1="75.35" x2="32.00" y2="75.35" stroke="#000" stroke-width="0.8"/>
<line x1="30.00" y1="74.06" x2="32.00" y2="74.06" stroke="#000" stroke-width="0.8"/>
<line x1="30.00" y1="72.92" x2="32.00" y2="72.92" stroke="#000" stroke-width="0.8"/>
<line x1="29.20" y1="94.20" x2="32.00" y2="94.20" stroke="#000" stroke-width="1.0"/>
<text x="16.60" y="96.60" font-size="8.6" font-weight="normal" text-anchor="start" fill="#111" textLength="7.60" lengthAdjust="spacingAndGlyphs" stroke="#111" stroke-width="0.22">10</text>
<text x="24.50" y="93.70" font-size="5.6" font-weight="normal" text-anchor="start" fill="#111" textLength="3.10" lengthAdjust="spacingAndGlyphs" stroke="#111" stroke-width="0.22">1</text>
<line x1="30.00" y1="109.79" x2="32.00" y2="109.79" stroke="#000" stroke-width="0.8"/>
<line x1="30.00" y1="105.86" x2="32.00" y2="105.86" stroke="#000" stroke-width="0.8"/>
<line x1="30.00" y1="103.07" x2="32.00" y2="103.07" stroke="#000" stroke-width="0.8"/>
<line x1="30.00" y1="100.91" x2="32.00" y2="100.91" stroke="#000" stroke-width="0.8"/>
<line x1="30.00" y1="99.15" x2="32.00" y2="99.15" stroke="#000" stroke-width="0.8"/>
<line x1="30.00" y1="97.65" x2="32.00" y2="97.65" stroke="#000" stroke-width="0.8"/>
<line x1="30.00" y1="96.36" x2="32.00" y2="96.36" stroke="#000" stroke-width="0.8"/>
<line x1="30.00" y1="95.22" x2="32.00" y2="95.22" stroke="#000" stroke-width="0.8"/>
<line x1="29.20" y1="116.50" x2="32.00" y2="116.50" stroke="#000" stroke-width="1.0"/>
<text x="16.60" y="117.60" font-size="8.6" font-weight="normal" text-anchor="start" fill="#111" textLength="7.60" lengthAdjust="spacingAndGlyphs" stroke="#111" stroke-width="0.22">10</text>
<text x="24.50" y="114.70" font-size="5.6" font-weight="normal" text-anchor="start" fill="#111" textLength="3.10" lengthAdjust="spacingAndGlyphs" stroke="#111" stroke-width="0.22">0</text>
<line x1="34.50" y1="117.80" x2="34.50" y2="120.60" stroke="#000" stroke-width="1.0"/>
<text x="30.80" y="130.10" font-size="8.6" font-weight="normal" text-anchor="start" fill="#111" textLength="7.60" lengthAdjust="spacingAndGlyphs" stroke="#111" stroke-width="0.22">10</text>
<text x="38.70" y="127.20" font-size="5.6" font-weight="normal" text-anchor="start" fill="#111" textLength="3.10" lengthAdjust="spacingAndGlyphs" stroke="#111" stroke-width="0.22">0</text>
<line x1="39.17" y1="117.80" x2="39.17" y2="119.80" stroke="#000" stroke-width="0.8"/>
<line x1="41.90" y1="117.80" x2="41.90" y2="119.80" stroke="#000" stroke-width="0.8"/>
<line x1="43.83" y1="117.80" x2="43.83" y2="119.80" stroke="#000" stroke-width="0.8"/>
<line x1="45.33" y1="117.80" x2="45.33" y2="119.80" stroke="#000" stroke-width="0.8"/>
<line x1="46.56" y1="117.80" x2="46.56" y2="119.80" stroke="#000" stroke-width="0.8"/>
<line x1="47.60" y1="117.80" x2="47.60" y2="119.80" stroke="#000" stroke-width="0.8"/>
<line x1="48.50" y1="117.80" x2="48.50" y2="119.80" stroke="#000" stroke-width="0.8"/>
<line x1="49.29" y1="117.80" x2="49.29" y2="119.80" stroke="#000" stroke-width="0.8"/>
<line x1="50.00" y1="117.80" x2="50.00" y2="120.60" stroke="#000" stroke-width="1.0"/>
<text x="45.60" y="130.10" font-size="8.6" font-weight="normal" text-anchor="start" fill="#111" textLength="7.60" lengthAdjust="spacingAndGlyphs" stroke="#111" stroke-width="0.22">10</text>
<text x="53.50" y="127.20" font-size="5.6" font-weight="normal" text-anchor="start" fill="#111" textLength="3.10" lengthAdjust="spacingAndGlyphs" stroke="#111" stroke-width="0.22">1</text>
<line x1="55.42" y1="117.80" x2="55.42" y2="119.80" stroke="#000" stroke-width="0.8"/>
<line x1="58.59" y1="117.80" x2="58.59" y2="119.80" stroke="#000" stroke-width="0.8"/>
<line x1="60.84" y1="117.80" x2="60.84" y2="119.80" stroke="#000" stroke-width="0.8"/>
<line x1="62.58" y1="117.80" x2="62.58" y2="119.80" stroke="#000" stroke-width="0.8"/>
<line x1="64.01" y1="117.80" x2="64.01" y2="119.80" stroke="#000" stroke-width="0.8"/>
<line x1="65.21" y1="117.80" x2="65.21" y2="119.80" stroke="#000" stroke-width="0.8"/>
<line x1="66.26" y1="117.80" x2="66.26" y2="119.80" stroke="#000" stroke-width="0.8"/>
<line x1="67.18" y1="117.80" x2="67.18" y2="119.80" stroke="#000" stroke-width="0.8"/>
<line x1="68.00" y1="117.80" x2="68.00" y2="120.60" stroke="#000" stroke-width="1.0"/>
<text x="64.10" y="130.10" font-size="8.6" font-weight="normal" text-anchor="start" fill="#111" textLength="7.60" lengthAdjust="spacingAndGlyphs" stroke="#111" stroke-width="0.22">10</text>
<text x="72.00" y="127.20" font-size="5.6" font-weight="normal" text-anchor="start" fill="#111" textLength="3.10" lengthAdjust="spacingAndGlyphs" stroke="#111" stroke-width="0.22">2</text>
<line x1="73.45" y1="117.80" x2="73.45" y2="119.80" stroke="#000" stroke-width="0.8"/>
<line x1="76.64" y1="117.80" x2="76.64" y2="119.80" stroke="#000" stroke-width="0.8"/>
<line x1="78.90" y1="117.80" x2="78.90" y2="119.80" stroke="#000" stroke-width="0.8"/>
<line x1="80.65" y1="117.80" x2="80.65" y2="119.80" stroke="#000" stroke-width="0.8"/>
<line x1="82.08" y1="117.80" x2="82.08" y2="119.80" stroke="#000" stroke-width="0.8"/>
<line x1="83.30" y1="117.80" x2="83.30" y2="119.80" stroke="#000" stroke-width="0.8"/>
<line x1="84.35" y1="117.80" x2="84.35" y2="119.80" stroke="#000" stroke-width="0.8"/>
<line x1="85.27" y1="117.80" x2="85.27" y2="119.80" stroke="#000" stroke-width="0.8"/>
<line x1="86.10" y1="117.80" x2="86.10" y2="120.60" stroke="#000" stroke-width="1.0"/>
<text x="81.90" y="130.10" font-size="8.6" font-weight="normal" text-anchor="start" fill="#111" textLength="7.60" lengthAdjust="spacingAndGlyphs" stroke="#111" stroke-width="0.22">10</text>
<text x="89.80" y="127.20" font-size="5.6" font-weight="normal" text-anchor="start" fill="#111" textLength="3.10" lengthAdjust="spacingAndGlyphs" stroke="#111" stroke-width="0.22">3</text>
<line x1="91.58" y1="117.80" x2="91.58" y2="119.80" stroke="#000" stroke-width="0.8"/>
<line x1="94.78" y1="117.80" x2="94.78" y2="119.80" stroke="#000" stroke-width="0.8"/>
<line x1="97.06" y1="117.80" x2="97.06" y2="119.80" stroke="#000" stroke-width="0.8"/>
<line x1="98.82" y1="117.80" x2="98.82" y2="119.80" stroke="#000" stroke-width="0.8"/>
<line x1="100.26" y1="117.80" x2="100.26" y2="119.80" stroke="#000" stroke-width="0.8"/>
<line x1="101.48" y1="117.80" x2="101.48" y2="119.80" stroke="#000" stroke-width="0.8"/>
<line x1="102.54" y1="117.80" x2="102.54" y2="119.80" stroke="#000" stroke-width="0.8"/>
<line x1="103.47" y1="117.80" x2="103.47" y2="119.80" stroke="#000" stroke-width="0.8"/>
<line x1="104.30" y1="117.80" x2="104.30" y2="120.60" stroke="#000" stroke-width="1.0"/>
<text x="99.90" y="130.10" font-size="8.6" font-weight="normal" text-anchor="start" fill="#111" textLength="7.60" lengthAdjust="spacingAndGlyphs" stroke="#111" stroke-width="0.22">10</text>
<text x="107.80" y="127.20" font-size="5.6" font-weight="normal" text-anchor="start" fill="#111" textLength="3.10" lengthAdjust="spacingAndGlyphs" stroke="#111" stroke-width="0.22">4</text>
<line x1="109.72" y1="117.80" x2="109.72" y2="119.80" stroke="#000" stroke-width="0.8"/>
<line x1="112.89" y1="117.80" x2="112.89" y2="119.80" stroke="#000" stroke-width="0.8"/>
<line x1="115.14" y1="117.80" x2="115.14" y2="119.80" stroke="#000" stroke-width="0.8"/>
<line x1="116.88" y1="117.80" x2="116.88" y2="119.80" stroke="#000" stroke-width="0.8"/>
<line x1="118.31" y1="117.80" x2="118.31" y2="119.80" stroke="#000" stroke-width="0.8"/>
<line x1="119.51" y1="117.80" x2="119.51" y2="119.80" stroke="#000" stroke-width="0.8"/>
<line x1="120.56" y1="117.80" x2="120.56" y2="119.80" stroke="#000" stroke-width="0.8"/>
<line x1="121.48" y1="117.80" x2="121.48" y2="119.80" stroke="#000" stroke-width="0.8"/>
<line x1="122.30" y1="117.80" x2="122.30" y2="120.60" stroke="#000" stroke-width="1.0"/>
<text x="114.40" y="130.10" font-size="8.6" font-weight="normal" text-anchor="start" fill="#111" textLength="7.60" lengthAdjust="spacingAndGlyphs" stroke="#111" stroke-width="0.22">10</text>
<text x="122.30" y="127.20" font-size="5.6" font-weight="normal" text-anchor="start" fill="#111" textLength="3.10" lengthAdjust="spacingAndGlyphs" stroke="#111" stroke-width="0.22">5</text>
<text x="34.00" y="50.50" font-size="7.9" font-weight="bold" text-anchor="start" fill="#111" textLength="27.50" lengthAdjust="spacingAndGlyphs" stroke="#111" stroke-width="0.12">40.00%</text>
<text x="92.70" y="86.10" font-size="7.9" font-weight="bold" text-anchor="start" fill="#111" textLength="27.70" lengthAdjust="spacingAndGlyphs" stroke="#111" stroke-width="0.12">54.90%</text>
<text x="65.70" y="23.90" font-size="9.8" font-weight="bold" text-anchor="start" fill="#111" textLength="12.70" lengthAdjust="spacingAndGlyphs" stroke="#111" stroke-width="0.3">A2</text>
<text x="78.60" y="20.00" font-size="6.4" font-weight="bold" text-anchor="start" fill="#222" textLength="11.00" lengthAdjust="spacingAndGlyphs">fl/fl</text>
<clipPath id="clip1"><rect x="149.3" y="27.4" width="91.29999999999998" height="91.1"/></clipPath>
<g clip-path="url(#clip1)">
<path d="M146.3,68.3 146.9,67.8 147.5,67.4 148.1,67.1 148.7,66.9 149.3,66.8 149.9,66.6 150.5,66.6 151.1,66.5 151.7,66.4 152.3,66.3 152.9,66.2 153.5,66.1 154.1,65.9 154.7,65.6 155.3,65.4 155.9,65.2 156.5,64.9 157.1,64.7 157.7,64.5 158.3,64.3 158.9,64.2 159.5,64.0 160.1,63.9 160.7,63.8 161.3,63.7 161.9,63.7 162.5,63.6 163.1,63.6 163.7,63.6 164.3,63.6 164.9,63.6 165.5,63.6 166.1,63.7 166.7,63.7 167.3,63.8 167.9,63.9 168.5,64.1 169.1,64.2 169.7,64.4 170.3,64.6 170.9,64.9 171.5,65.2 172.1,65.5 172.7,65.9 173.3,66.4 173.8,66.8 174.3,67.3 174.7,67.7 175.1,68.3 175.5,68.8 175.8,69.4 176.1,70.0 176.3,70.6 176.5,71.2 176.6,71.8 176.7,72.4 176.8,73.0 176.8,73.6 176.8,74.2 176.8,74.8 176.8,75.4 176.7,76.0 176.5,76.6 176.4,77.2 176.2,77.8 175.9,78.4 175.6,79.0 175.2,79.6 174.8,80.2 174.3,80.7 173.8,81.2 173.4,81.6 172.8,82.0 172.3,82.4 171.7,82.7 171.1,83.0 170.5,83.3 169.9,83.5 169.3,83.7 168.7,83.9 168.1,84.0 167.5,84.1 166.9,84.2 166.3,84.3 165.7,84.4 165.1,84.4 164.5,84.5 163.9,84.5 163.3,84.5 162.7,84.5 162.1,84.6 161.5,84.6 160.9,84.6 160.3,84.6 159.7,84.7 159.1,84.7 158.5,84.7 157.9,84.8 157.3,84.8 156.7,84.9 156.1,84.9 155.5,85.0 154.9,85.0 154.3,85.0 153.7,85.0 153.1,85.0 152.5,85.0 151.9,84.9 151.3,84.9 150.7,84.8 150.1,84.7 149.5,84.5 148.9,84.3 148.3,84.1 147.7,83.8 147.1,83.4 146.5,83.0" fill="none" stroke="rgb(90,90,90)" stroke-width="0.4"/>
<path d="M146.3,69.1 146.8,68.6 147.4,68.2 148.1,67.8 148.7,67.6 149.3,67.5 149.9,67.4 150.5,67.3 151.1,67.3 151.7,67.2 152.3,67.2 152.9,67.1 153.5,67.0 154.1,66.8 154.7,66.6 155.3,66.4 155.9,66.2 156.5,65.9 157.1,65.7 157.7,65.5 158.3,65.3 158.9,65.1 159.5,65.0 160.1,64.8 160.7,64.7 161.3,64.6 161.9,64.6 162.5,64.5 163.1,64.5 163.7,64.5 164.3,64.5 164.9,64.5 165.5,64.5 166.1,64.6 166.7,64.7 167.3,64.8 167.9,64.9 168.5,65.0 169.1,65.2 169.7,65.4 170.3,65.7 170.9,66.0 171.5,66.3 172.1,66.7 172.7,67.2 173.1,67.6 173.7,68.2 174.1,68.7 174.4,69.2 174.8,69.8 175.1,70.4 175.3,71.0 175.4,71.6 175.6,72.2 175.7,72.8 175.7,73.4 175.7,74.0 175.7,74.6 175.7,75.2 175.6,75.8 175.5,76.4 175.3,77.0 175.1,77.6 174.8,78.2 174.5,78.8 174.1,79.3 173.7,79.8 173.2,80.4 172.7,80.8 172.1,81.3 171.5,81.7 170.9,82.0 170.3,82.3 169.7,82.6 169.1,82.8 168.5,83.0 167.9,83.1 167.3,83.3 166.7,83.4 166.1,83.5 165.5,83.5 164.9,83.6 164.3,83.6 163.7,83.6 163.1,83.7 162.5,83.7 161.9,83.7 161.3,83.7 160.7,83.7 160.1,83.8 159.5,83.8 158.9,83.8 158.3,83.9 157.7,83.9 157.1,84.0 156.5,84.0 155.9,84.1 155.3,84.1 154.7,84.1 154.1,84.2 153.5,84.2 152.9,84.2 152.3,84.1 151.7,84.1 151.1,84.1 150.5,84.0 149.9,83.9 149.3,83.7 148.7,83.5 148.1,83.3 147.5,82.9 146.9,82.5 146.4,82.0" fill="none" stroke="rgb(84,84,84)" stroke-width="0.4"/>
<path d="M146.3,70.0 146.9,69.4 147.4,69.0 148.1,68.6 148.7,68.4 149.3,68.2 149.9,68.1 150.5,68.1 151.1,68.1 151.7,68.1 152.3,68.1 152.9,68.1 153.5,68.1 154.1,67.9 154.7,67.8 155.3,67.5 155.9,67.3 156.5,67.1 157.1,66.8 157.7,66.6 158.3,66.4 158.9,66.2 159.5,66.0 160.1,65.9 160.7,65.8 161.3,65.7 161.9,65.6 162.5,65.5 163.1,65.5 163.7,65.5 164.3,65.5 164.9,65.5 165.5,65.6 166.1,65.6 166.7,65.7 167.3,65.8 167.9,66.0 168.5,66.1 169.1,66.4 169.7,66.6 170.3,66.9 170.9,67.3 171.5,67.7 172.1,68.2 172.7,68.8 173.1,69.4 173.5,70.0 173.8,70.6 174.0,71.2 174.2,71.8 174.3,72.4 174.4,73.0 174.5,73.6 174.5,74.2 174.5,74.8 174.4,75.4 174.3,76.0 174.2,76.6 174.0,77.2 173.7,77.8 173.3,78.4 172.9,79.0 172.5,79.5 172.0,80.0 171.5,80.4 170.9,80.8 170.3,81.2 169.7,81.5 169.1,81.7 168.5,82.0 167.9,82.1 167.3,82.3 166.7,82.4 166.1,82.5 165.5,82.6 164.9,82.6 164.3,82.7 163.7,82.7 163.1,82.8 162.5,82.8 161.9,82.8 161.3,82.8 160.7,82.8 160.1,82.8 159.5,82.9 158.9,82.9 158.3,82.9 157.7,83.0 157.1,83.0 156.5,83.0 155.9,83.1 155.3,83.1 154.7,83.2 154.1,83.2 153.5,83.2 152.9,83.2 152.3,83.2 151.7,83.2 151.1,83.2 150.5,83.1 149.9,83.1 149.3,82.9 148.7,82.7 148.1,82.4 147.5,82.1 146.9,81.6 146.3,81.0" fill="none" stroke="rgb(79,79,79)" stroke-width="0.4"/>
<path d="M146.3,71.1 146.7,70.6 147.3,70.0 147.9,69.6 148.5,69.3 149.1,69.1 149.7,69.0 150.3,69.0 150.9,69.0 151.5,69.1 152.1,69.1 152.7,69.2 153.3,69.2 153.9,69.2 154.5,69.1 155.1,68.9 155.7,68.7 156.3,68.5 156.9,68.2 157.5,68.0 158.1,67.8 158.7,67.5 159.3,67.3 159.9,67.2 160.5,67.0 161.1,66.9 161.7,66.8 162.3,66.7 162.9,66.7 163.5,66.7 164.1,66.7 164.7,66.7 165.3,66.7 165.9,66.8 166.5,66.9 167.1,67.0 167.7,67.2 168.3,67.4 168.9,67.6 169.5,67.9 170.1,68.3 170.7,68.8 171.1,69.2 171.7,69.8 172.1,70.4 172.4,71.0 172.7,71.6 172.8,72.2 173.0,72.8 173.1,73.4 173.1,74.0 173.1,74.6 173.1,75.2 173.0,75.8 172.8,76.4 172.6,77.0 172.3,77.6 171.9,78.2 171.5,78.7 171.1,79.2 170.6,79.6 170.1,80.0 169.5,80.3 168.9,80.6 168.3,80.9 167.7,81.1 167.1,81.3 166.5,81.4 165.9,81.6 165.3,81.6 164.7,81.7 164.1,81.8 163.5,81.8 162.9,81.9 162.3,81.9 161.7,81.9 161.1,81.9 160.5,81.9 159.9,81.9 159.3,81.9 158.7,81.9 158.1,81.9 157.5,81.9 156.9,81.9 156.3,82.0 155.7,82.0 155.1,82.0 154.5,82.1 153.9,82.1 153.3,82.2 152.7,82.2 152.1,82.2 151.5,82.3 150.9,82.3 150.3,82.2 149.7,82.1 149.1,82.0 148.5,81.7 147.9,81.4 147.4,81.0 146.9,80.5 146.5,80.1" fill="none" stroke="rgb(73,73,73)" stroke-width="0.4"/>
<path d="M146.3,72.7 146.7,72.0 147.1,71.4 147.7,70.8 148.3,70.4 148.9,70.1 149.5,70.0 150.1,70.0 150.7,70.0 151.3,70.1 151.9,70.2 152.5,70.4 153.1,70.5 153.7,70.6 154.3,70.6 154.9,70.5 155.5,70.3 156.1,70.1 156.7,69.9 157.3,69.6 157.9,69.4 158.5,69.2 159.1,68.9 159.7,68.7 160.3,68.6 160.9,68.4 161.5,68.3 162.1,68.2 162.7,68.2 163.3,68.1 163.9,68.1 164.5,68.1 165.1,68.2 165.7,68.3 166.3,68.4 166.9,68.5 167.5,68.7 168.1,69.0 168.7,69.3 169.3,69.8 169.8,70.2 170.3,70.8 170.7,71.4 171.0,72.0 171.2,72.6 171.4,73.2 171.5,73.8 171.5,74.4 171.5,75.0 171.5,75.6 171.3,76.2 171.1,76.8 170.8,77.4 170.4,78.0 169.9,78.5 169.4,79.0 168.8,79.4 168.1,79.8 167.5,80.0 166.9,80.3 166.3,80.5 165.7,80.6 165.1,80.7 164.5,80.8 163.9,80.9 163.3,80.9 162.7,81.0 162.1,81.0 161.5,81.0 160.9,81.0 160.3,81.0 159.7,80.9 159.1,80.9 158.5,80.9 157.9,80.8 157.3,80.8 156.7,80.7 156.1,80.7 155.5,80.7 154.9,80.7 154.3,80.8 153.7,80.9 153.1,80.9 152.5,81.0 151.9,81.1 151.3,81.2 150.7,81.2 150.1,81.2 149.5,81.1 148.9,80.9 148.3,80.6 147.8,80.2 147.3,79.8 146.9,79.3 146.5,78.6" fill="none" stroke="rgb(68,68,68)" stroke-width="0.4"/>
<path d="M163.7,80.0 163.1,80.1 162.5,80.1 161.9,80.1 161.3,80.1 160.7,80.1 160.1,80.0 159.5,80.0 158.9,79.9 158.3,79.8 157.7,79.7 157.1,79.5 156.5,79.4 155.9,79.3 155.3,79.2 154.7,79.2 154.1,79.2 153.5,79.3 152.9,79.4 152.3,79.6 151.7,79.8 151.1,79.9 150.5,80.0 149.9,79.9 149.3,79.8 148.7,79.6 148.2,79.2 147.7,78.7 147.3,78.2 147.0,77.6 146.8,77.0 146.6,76.4 146.6,75.8 146.6,75.2 146.6,74.6 146.8,74.0 147.0,73.4 147.3,72.8 147.7,72.2 148.3,71.6 148.9,71.3 149.5,71.2 150.1,71.1 150.7,71.2 151.3,71.4 151.9,71.6 152.5,71.8 153.1,72.1 153.7,72.3 154.3,72.3 154.9,72.3 155.5,72.1 156.1,71.9 156.7,71.6 157.3,71.3 157.9,71.1 158.5,70.8 159.1,70.6 159.7,70.4 160.3,70.3 160.9,70.1 161.5,70.0 162.1,69.9 162.7,69.9 163.3,69.9 163.9,69.9 164.5,70.0 165.1,70.0 165.7,70.2 166.3,70.4 166.9,70.6 167.5,70.9 168.1,71.4 168.5,71.8 169.0,72.4 169.4,73.0 169.6,73.6 169.8,74.2 169.9,74.8 169.9,75.4 169.8,76.0 169.6,76.6 169.3,77.2 168.8,77.8 168.3,78.3 167.7,78.7 167.1,79.0 166.5,79.3 165.9,79.5 165.3,79.7 164.7,79.9 164.1,80.0 Z" fill="none" stroke="rgb(63,63,63)" stroke-width="0.4"/>
<path d="M163.1,79.6 162.5,79.7 161.9,79.7 161.3,79.7 160.7,79.6 160.1,79.5 159.5,79.5 158.9,79.3 158.3,79.2 157.7,79.0 157.1,78.8 156.5,78.6 155.9,78.4 155.3,78.2 154.7,78.0 154.1,78.0 153.5,78.1 152.9,78.3 152.3,78.6 151.7,78.9 151.1,79.1 150.5,79.2 149.9,79.2 149.3,79.0 148.7,78.7 148.1,78.2 147.7,77.6 147.4,77.0 147.2,76.4 147.1,75.8 147.1,75.2 147.2,74.6 147.4,74.0 147.6,73.4 148.0,72.8 148.5,72.4 149.1,72.0 149.7,71.9 150.3,71.9 150.9,72.1 151.5,72.3 152.0,72.6 152.7,73.0 153.3,73.4 153.9,73.6 154.5,73.6 155.1,73.4 155.7,73.1 156.3,72.8 156.9,72.4 157.5,72.1 158.1,71.9 158.7,71.6 159.3,71.4 159.9,71.2 160.5,71.1 161.1,71.0 161.7,70.9 162.3,70.8 162.9,70.8 163.5,70.8 164.1,70.9 164.7,71.0 165.3,71.1 165.9,71.3 166.5,71.6 167.1,72.0 167.6,72.4 168.1,72.9 168.4,73.4 168.7,74.0 168.9,74.6 169.0,75.2 168.9,75.8 168.8,76.4 168.5,76.9 168.1,77.5 167.6,78.0 167.0,78.4 166.5,78.7 165.9,79.0 165.3,79.2 164.7,79.3 164.1,79.5 163.5,79.6 Z" fill="none" stroke="rgb(57,57,57)" stroke-width="0.4"/>
<path d="M163.7,79.0 163.1,79.1 162.5,79.2 161.9,79.2 161.3,79.2 160.7,79.1 160.1,79.0 159.5,78.9 158.9,78.7 158.3,78.5 157.7,78.3 157.1,78.0 156.5,77.6 156.0,77.2 155.5,76.7 155.2,76.0 155.2,75.4 155.5,74.8 155.9,74.3 156.5,73.8 157.0,73.4 157.5,73.1 158.1,72.7 158.7,72.4 159.3,72.2 159.9,72.0 160.5,71.9 161.1,71.8 161.7,71.7 162.3,71.7 162.9,71.7 163.5,71.7 164.1,71.8 164.7,71.9 165.3,72.1 165.9,72.4 166.5,72.8 167.0,73.2 167.5,73.8 167.8,74.4 168.0,75.0 168.0,75.6 167.9,76.2 167.6,76.8 167.2,77.4 166.7,77.8 166.1,78.2 165.5,78.5 164.9,78.7 164.3,78.9 163.7,79.0 Z" fill="none" stroke="rgb(52,52,52)" stroke-width="0.4"/>
<path d="M150.7,78.1 150.1,78.1 149.5,78.0 148.9,77.7 148.4,77.2 148.1,76.6 147.9,76.0 147.9,75.4 147.9,74.8 148.1,74.2 148.5,73.6 149.1,73.1 149.7,72.9 150.3,72.9 150.9,73.1 151.5,73.5 152.0,74.0 152.4,74.6 152.8,75.2 152.9,75.8 152.7,76.4 152.3,77.0 151.7,77.6 151.1,77.9 Z" fill="none" stroke="rgb(52,52,52)" stroke-width="0.4"/>
<path d="M163.5,78.6 162.9,78.7 162.3,78.7 161.7,78.7 161.1,78.7 160.5,78.6 159.9,78.5 159.3,78.3 158.7,78.1 158.1,77.8 157.5,77.4 157.0,77.0 156.6,76.4 156.5,75.8 156.6,75.2 156.9,74.6 157.3,74.1 157.9,73.6 158.5,73.2 159.1,72.9 159.7,72.7 160.3,72.5 160.9,72.4 161.5,72.3 162.1,72.3 162.7,72.3 163.3,72.3 163.9,72.4 164.5,72.6 165.1,72.8 165.7,73.1 166.3,73.6 166.8,74.2 167.1,74.7 167.2,75.4 167.2,76.0 166.9,76.6 166.5,77.2 166.0,77.6 165.5,77.9 164.9,78.2 164.4,78.4 163.7,78.6 Z" fill="none" stroke="rgb(46,46,46)" stroke-width="0.4"/>
<path d="M150.1,76.8 149.5,76.7 149.0,76.2 148.9,75.6 148.9,75.0 149.3,74.4 149.9,74.2 150.5,74.4 151.0,75.0 151.1,75.6 151.0,76.2 150.5,76.7 Z" fill="none" stroke="rgb(46,46,46)" stroke-width="0.4"/>
<path d="M163.3,78.2 162.7,78.3 162.1,78.3 161.5,78.3 160.9,78.3 160.3,78.1 159.7,78.0 159.1,77.7 158.5,77.4 158.0,77.0 157.5,76.4 157.4,75.8 157.5,75.2 157.8,74.6 158.3,74.1 158.9,73.7 159.5,73.4 160.1,73.1 160.7,73.0 161.3,72.9 161.9,72.8 162.5,72.8 163.1,72.8 163.7,73.0 164.3,73.1 164.9,73.4 165.5,73.8 166.0,74.2 166.4,74.8 166.5,75.4 166.5,76.0 166.2,76.6 165.7,77.2 165.1,77.6 164.5,77.9 163.9,78.1 163.3,78.2 Z" fill="none" stroke="rgb(41,41,41)" stroke-width="0.4"/>
<path d="M163.3,77.8 162.7,77.9 162.1,78.0 161.5,77.9 160.9,77.9 160.3,77.7 159.7,77.5 159.1,77.2 158.6,76.8 158.2,76.2 158.2,75.6 158.3,75.0 158.7,74.5 159.3,74.0 159.9,73.7 160.5,73.5 161.1,73.4 161.7,73.3 162.3,73.3 162.9,73.3 163.5,73.4 164.1,73.6 164.7,73.9 165.3,74.4 165.7,75.0 165.8,75.6 165.7,76.2 165.3,76.8 164.8,77.2 164.1,77.6 163.5,77.8 Z" fill="none" stroke="rgb(36,36,36)" stroke-width="0.4"/>
<path d="M163.1,77.4 162.5,77.5 161.9,77.6 161.3,77.5 160.7,77.4 160.1,77.2 159.5,76.8 159.0,76.2 158.9,75.6 159.1,75.0 159.5,74.6 160.0,74.2 160.7,73.9 161.3,73.8 161.9,73.7 162.5,73.7 163.1,73.8 163.7,74.0 164.3,74.3 164.9,74.8 165.1,75.4 165.1,76.0 164.7,76.6 164.2,77.0 163.5,77.3 Z" fill="none" stroke="rgb(30,30,30)" stroke-width="0.4"/>
<path d="M162.9,77.0 162.3,77.1 161.7,77.1 161.1,77.0 160.5,76.8 159.9,76.4 159.6,75.8 159.8,75.2 160.3,74.7 160.8,74.4 161.5,74.2 162.1,74.2 162.7,74.2 163.3,74.4 163.9,74.7 164.3,75.2 164.4,75.8 164.1,76.4 163.5,76.8 162.9,77.0 Z" fill="none" stroke="rgb(25,25,25)" stroke-width="0.4"/>
<path d="M162.9,76.4 162.3,76.6 161.7,76.6 161.1,76.4 160.6,76.0 160.6,75.4 161.1,75.0 161.7,74.8 162.3,74.8 162.9,74.9 163.5,75.4 163.4,76.0 162.9,76.4 Z" fill="none" stroke="rgb(20,20,20)" stroke-width="0.4"/>
<path d="M149.30,71.90 A3.00,3.40 0 0 1 149.30,78.70 Z" fill="#fff" stroke="#000" stroke-width="1.4"/>
<path d="M199.9,81.8 199.3,81.8 198.7,81.7 198.1,81.6 197.5,81.3 196.9,81.0 196.3,80.6 195.9,80.2 195.3,79.6 194.9,79.1 194.5,78.4 194.2,77.8 194.0,77.2 193.8,76.6 193.7,76.0 193.6,75.4 193.5,74.8 193.5,74.2 193.6,73.6 193.6,73.0 193.7,72.4 193.9,71.8 194.1,71.2 194.4,70.6 194.7,70.0 195.1,69.5 195.5,69.0 196.1,68.4 196.6,68.0 197.1,67.7 197.7,67.4 198.3,67.2 198.9,67.0 199.5,67.0 200.1,67.0 200.7,67.1 201.3,67.2 201.9,67.5 202.5,67.8 203.1,68.2 203.5,68.6 204.1,69.2 204.5,69.7 204.9,70.4 205.2,71.0 205.4,71.6 205.6,72.2 205.7,72.8 205.8,73.4 205.9,74.0 205.9,74.6 205.8,75.2 205.8,75.8 205.7,76.4 205.5,77.0 205.3,77.6 205.0,78.2 204.7,78.8 204.3,79.3 203.9,79.8 203.3,80.4 202.8,80.8 202.3,81.1 201.7,81.4 201.1,81.6 200.5,81.8 199.9,81.8 Z" fill="none" stroke="rgb(120,120,120)" stroke-width="0.42"/>
<path d="M199.9,80.2 199.3,80.2 198.7,80.1 198.1,79.9 197.5,79.6 197.0,79.2 196.5,78.8 196.1,78.3 195.7,77.7 195.4,77.0 195.2,76.4 195.0,75.8 194.9,75.2 194.9,74.6 194.9,74.0 194.9,73.4 195.0,72.8 195.2,72.2 195.5,71.6 195.8,71.0 196.2,70.4 196.7,69.8 197.2,69.4 197.9,69.0 198.5,68.8 199.1,68.6 199.7,68.6 200.3,68.6 200.9,68.8 201.5,69.0 202.1,69.4 202.7,69.8 203.1,70.3 203.5,70.8 203.8,71.4 204.1,72.0 204.3,72.6 204.4,73.2 204.5,73.8 204.5,74.4 204.5,75.0 204.4,75.6 204.3,76.2 204.1,76.8 203.8,77.4 203.5,78.0 203.1,78.5 202.7,79.0 202.2,79.4 201.5,79.8 200.9,80.0 200.3,80.2 Z" fill="none" stroke="rgb(113,113,113)" stroke-width="0.42"/>
<path d="M200.5,79.0 199.9,79.1 199.3,79.1 198.7,79.0 198.1,78.7 197.5,78.3 197.0,77.8 196.5,77.2 196.2,76.6 196.0,76.0 195.9,75.4 195.8,74.8 195.8,74.2 195.8,73.6 195.9,73.0 196.1,72.4 196.4,71.8 196.8,71.2 197.3,70.7 197.9,70.2 198.5,69.9 199.1,69.7 199.7,69.7 200.3,69.7 200.9,69.9 201.5,70.2 202.0,70.6 202.5,71.1 202.9,71.6 203.2,72.2 203.4,72.8 203.5,73.4 203.6,74.0 203.6,74.6 203.6,75.2 203.5,75.8 203.3,76.4 203.0,77.0 202.6,77.6 202.1,78.1 201.5,78.6 200.9,78.9 Z" fill="none" stroke="rgb(106,106,106)" stroke-width="0.42"/>
<path d="M200.5,78.1 199.9,78.2 199.3,78.2 198.7,78.0 198.1,77.7 197.6,77.2 197.1,76.6 196.8,76.0 196.7,75.4 196.6,74.8 196.6,74.2 196.6,73.6 196.8,73.0 197.0,72.4 197.4,71.8 197.9,71.3 198.5,70.9 199.1,70.7 199.7,70.6 200.3,70.7 200.9,70.9 201.5,71.3 202.0,71.8 202.4,72.4 202.6,73.0 202.8,73.6 202.8,74.2 202.8,74.8 202.7,75.4 202.6,76.0 202.3,76.6 201.9,77.1 201.4,77.6 200.7,78.0 Z" fill="none" stroke="rgb(99,99,99)" stroke-width="0.42"/>
<path d="M200.1,77.2 199.5,77.3 198.9,77.1 198.3,76.7 197.8,76.2 197.5,75.6 197.4,75.0 197.3,74.4 197.4,73.8 197.5,73.2 197.8,72.6 198.3,72.1 198.9,71.7 199.5,71.5 200.1,71.6 200.7,71.8 201.2,72.2 201.7,72.8 201.9,73.4 202.1,74.0 202.1,74.6 202.0,75.2 201.8,75.8 201.4,76.4 200.9,76.9 200.3,77.2 Z" fill="none" stroke="rgb(92,92,92)" stroke-width="0.42"/>
<path d="M199.9,76.2 199.3,76.2 198.7,75.8 198.3,75.2 198.2,74.6 198.2,74.0 198.4,73.4 198.9,72.9 199.5,72.6 200.1,72.6 200.7,73.0 201.1,73.6 201.2,74.2 201.2,74.8 201.0,75.4 200.5,75.9 199.9,76.2 Z" fill="none" stroke="rgb(85,85,85)" stroke-width="0.42"/>
<path d="M191.9,121.4 191.8,120.8 191.7,120.2 191.7,119.6 191.6,119.0 191.5,118.4 191.5,117.8 191.5,117.2 191.4,116.6 191.4,116.0 191.4,115.4 191.3,114.8 191.3,114.2 191.3,113.6 191.3,113.0 191.3,112.4 191.3,111.8 191.3,111.2 191.3,110.6 191.3,110.0 191.3,109.4 191.3,108.8 191.3,108.2 191.3,107.6 191.3,107.0 191.4,106.4 191.4,105.8 191.4,105.2 191.5,104.6 191.5,104.0 191.6,103.4 191.6,102.8 191.7,102.2 191.8,101.6 191.9,101.0 191.9,100.4 192.1,99.8 192.2,99.2 192.3,98.6 192.5,98.0 192.6,97.4 192.8,96.8 193.0,96.2 193.3,95.6 193.5,95.0 193.8,94.4 194.2,93.8 194.6,93.2 195.1,92.6 195.5,92.2 196.0,91.8 196.7,91.4 197.3,91.1 197.9,90.9 198.5,90.8 199.1,90.7 199.7,90.7 200.3,90.7 200.9,90.8 201.5,91.0 202.1,91.3 202.7,91.6 203.2,92.0 203.7,92.4 204.1,92.8 204.5,93.4 204.9,93.9 205.3,94.6 205.6,95.2 205.8,95.8 206.0,96.4 206.3,97.0 206.4,97.6 206.6,98.2 206.7,98.8 206.9,99.4 207.0,100.0 207.1,100.6 207.2,101.2 207.3,101.8 207.3,102.4 207.4,103.0 207.5,103.6 207.5,104.2 207.5,104.8 207.6,105.4 207.6,106.0 207.6,106.6 207.7,107.2 207.7,107.8 207.7,108.4 207.7,109.0 207.7,109.6 207.7,110.2 207.7,110.8 207.7,111.4 207.7,112.0 207.7,112.6 207.7,113.2 207.7,113.8 207.7,114.4 207.7,115.0 207.6,115.6 207.6,116.2 207.6,116.8 207.5,117.4 207.5,118.0 207.4,118.6 207.4,119.2 207.3,119.8 207.2,120.4 207.1,121.0" fill="none" stroke="rgb(85,85,85)" stroke-width="0.42"/>
<path d="M192.4,121.4 192.3,120.8 192.2,120.2 192.1,119.6 192.1,119.0 192.0,118.4 192.0,117.8 191.9,117.2 191.9,116.6 191.8,116.0 191.8,115.4 191.8,114.8 191.8,114.2 191.8,113.6 191.8,113.0 191.7,112.4 191.7,111.8 191.7,111.2 191.7,110.6 191.7,110.0 191.7,109.4 191.8,108.8 191.8,108.2 191.8,107.6 191.8,107.0 191.8,106.4 191.8,105.8 191.9,105.2 191.9,104.6 192.0,104.0 192.0,103.4 192.1,102.8 192.2,102.2 192.3,101.6 192.4,101.0 192.5,100.4 192.6,99.8 192.7,99.2 192.9,98.6 193.0,98.0 193.2,97.4 193.5,96.8 193.7,96.2 194.0,95.6 194.3,95.0 194.7,94.4 195.1,93.9 195.5,93.4 196.1,92.9 196.7,92.5 197.3,92.1 197.9,91.9 198.5,91.7 199.1,91.6 199.7,91.6 200.3,91.7 200.9,91.8 201.5,92.0 202.1,92.3 202.7,92.7 203.3,93.2 203.7,93.6 204.1,94.1 204.5,94.7 204.9,95.4 205.2,96.0 205.5,96.6 205.7,97.2 205.9,97.8 206.1,98.4 206.2,99.0 206.4,99.6 206.5,100.2 206.6,100.8 206.7,101.4 206.8,102.0 206.9,102.6 206.9,103.2 207.0,103.8 207.1,104.4 207.1,105.0 207.1,105.6 207.2,106.2 207.2,106.8 207.2,107.4 207.2,108.0 207.2,108.6 207.2,109.2 207.3,109.8 207.3,110.4 207.3,111.0 207.3,111.6 207.3,112.2 207.2,112.8 207.2,113.4 207.2,114.0 207.2,114.6 207.2,115.2 207.2,115.8 207.1,116.4 207.1,117.0 207.1,117.6 207.0,118.2 206.9,118.8 206.9,119.4 206.8,120.0 206.7,120.6 206.6,121.2" fill="none" stroke="rgb(81,81,81)" stroke-width="0.42"/>
<path d="M193.0,121.4 192.9,120.8 192.8,120.2 192.7,119.6 192.6,119.0 192.5,118.4 192.5,117.8 192.4,117.2 192.4,116.6 192.3,116.0 192.3,115.4 192.3,114.8 192.3,114.2 192.3,113.6 192.2,113.0 192.2,112.4 192.2,111.8 192.2,111.2 192.2,110.6 192.2,110.0 192.2,109.4 192.2,108.8 192.3,108.2 192.3,107.6 192.3,107.0 192.3,106.4 192.4,105.8 192.4,105.2 192.4,104.6 192.5,104.0 192.6,103.4 192.6,102.8 192.7,102.2 192.8,101.6 192.9,101.0 193.0,100.4 193.2,99.8 193.3,99.2 193.5,98.6 193.7,98.0 193.9,97.4 194.2,96.8 194.5,96.2 194.9,95.6 195.3,95.0 195.7,94.5 196.2,94.0 196.7,93.6 197.3,93.2 197.9,92.9 198.5,92.7 199.1,92.6 199.7,92.6 200.3,92.6 200.9,92.8 201.5,93.1 202.0,93.4 202.6,93.8 203.1,94.3 203.5,94.8 204.0,95.4 204.4,96.0 204.7,96.6 205.0,97.2 205.2,97.8 205.4,98.4 205.6,99.0 205.8,99.6 205.9,100.2 206.0,100.8 206.2,101.4 206.3,102.0 206.3,102.6 206.4,103.2 206.5,103.8 206.5,104.4 206.6,105.0 206.6,105.6 206.7,106.2 206.7,106.8 206.7,107.4 206.7,108.0 206.7,108.6 206.8,109.2 206.8,109.8 206.8,110.4 206.8,111.0 206.8,111.6 206.8,112.2 206.8,112.8 206.7,113.4 206.7,114.0 206.7,114.6 206.7,115.2 206.7,115.8 206.6,116.4 206.6,117.0 206.5,117.6 206.5,118.2 206.4,118.8 206.3,119.4 206.3,120.0 206.2,120.6 206.0,121.2" fill="none" stroke="rgb(77,77,77)" stroke-width="0.42"/>
<path d="M193.7,121.4 193.5,120.8 193.4,120.2 193.3,119.6 193.2,119.0 193.1,118.4 193.1,117.8 193.0,117.2 192.9,116.6 192.9,116.0 192.9,115.4 192.8,114.8 192.8,114.2 192.8,113.6 192.8,113.0 192.8,112.4 192.8,111.8 192.8,111.2 192.8,110.6 192.8,110.0 192.8,109.4 192.8,108.8 192.8,108.2 192.8,107.6 192.9,107.0 192.9,106.4 192.9,105.8 193.0,105.2 193.0,104.6 193.1,104.0 193.1,103.4 193.2,102.8 193.3,102.2 193.4,101.6 193.6,101.0 193.7,100.4 193.9,99.8 194.1,99.2 194.3,98.6 194.5,98.0 194.8,97.4 195.1,96.9 195.5,96.2 195.9,95.7 196.3,95.2 196.7,94.8 197.2,94.4 197.8,94.0 198.5,93.7 199.1,93.6 199.7,93.5 200.3,93.6 200.9,93.9 201.5,94.2 202.0,94.6 202.5,95.0 203.0,95.6 203.5,96.2 203.9,96.8 204.2,97.4 204.5,98.0 204.7,98.6 204.9,99.2 205.1,99.8 205.3,100.4 205.4,101.0 205.6,101.6 205.7,102.2 205.8,102.8 205.9,103.4 205.9,104.0 206.0,104.6 206.0,105.2 206.1,105.8 206.1,106.4 206.1,107.0 206.2,107.6 206.2,108.2 206.2,108.8 206.2,109.4 206.2,110.0 206.2,110.6 206.2,111.2 206.2,111.8 206.2,112.4 206.2,113.0 206.2,113.6 206.2,114.2 206.2,114.8 206.1,115.4 206.1,116.0 206.1,116.6 206.0,117.2 205.9,117.8 205.9,118.4 205.8,119.0 205.7,119.6 205.6,120.2 205.5,120.8 205.3,121.4" fill="none" stroke="rgb(73,73,73)" stroke-width="0.42"/>
<path d="M194.5,121.4 194.3,120.8 194.2,120.2 194.0,119.6 193.9,119.0 193.8,118.4 193.7,117.8 193.7,117.2 193.6,116.6 193.6,116.0 193.5,115.4 193.5,114.8 193.5,114.2 193.4,113.6 193.4,113.0 193.4,112.4 193.4,111.8 193.4,111.2 193.4,110.6 193.4,110.0 193.4,109.4 193.4,108.8 193.4,108.2 193.5,107.6 193.5,107.0 193.5,106.4 193.6,105.8 193.6,105.2 193.7,104.6 193.7,104.0 193.8,103.4 193.9,102.8 194.0,102.2 194.2,101.6 194.3,101.0 194.5,100.4 194.7,99.8 194.9,99.2 195.2,98.6 195.5,98.0 195.8,97.4 196.2,96.8 196.7,96.2 197.1,95.7 197.7,95.2 198.3,94.8 198.9,94.6 199.5,94.5 200.1,94.6 200.7,94.8 201.3,95.2 201.7,95.6 202.3,96.2 202.7,96.7 203.0,97.2 203.4,97.8 203.7,98.4 204.0,99.0 204.2,99.6 204.4,100.2 204.6,100.8 204.8,101.4 204.9,102.0 205.0,102.6 205.1,103.2 205.2,103.8 205.3,104.4 205.4,105.0 205.4,105.6 205.5,106.2 205.5,106.8 205.5,107.4 205.6,108.0 205.6,108.6 205.6,109.2 205.6,109.8 205.6,110.4 205.6,111.0 205.6,111.6 205.6,112.2 205.6,112.8 205.6,113.4 205.5,114.0 205.5,114.6 205.5,115.2 205.5,115.8 205.4,116.4 205.4,117.0 205.3,117.6 205.2,118.2 205.1,118.8 205.0,119.4 204.9,120.0 204.7,120.6 204.6,121.2" fill="none" stroke="rgb(69,69,69)" stroke-width="0.42"/>
<path d="M195.4,121.4 195.1,120.9 194.8,120.2 194.6,119.6 194.5,119.0 194.5,118.4 194.5,117.8 194.5,117.2 194.4,116.6 194.3,116.0 194.3,115.4 194.3,114.8 194.2,114.2 194.2,113.6 194.2,113.0 194.2,112.4 194.2,111.8 194.1,111.2 194.1,110.6 194.1,110.0 194.1,109.4 194.2,108.8 194.2,108.2 194.2,107.6 194.2,107.0 194.3,106.4 194.3,105.8 194.4,105.2 194.4,104.6 194.5,104.0 194.6,103.4 194.7,102.8 194.9,102.2 195.0,101.6 195.2,101.0 195.4,100.4 195.6,99.8 195.9,99.2 196.2,98.6 196.5,98.0 196.9,97.4 197.3,96.9 197.7,96.4 198.2,96.0 198.9,95.7 199.5,95.6 200.1,95.7 200.7,96.0 201.3,96.4 201.7,96.9 202.1,97.4 202.5,98.0 202.8,98.6 203.1,99.2 203.4,99.8 203.6,100.4 203.8,101.0 204.0,101.6 204.1,102.2 204.3,102.8 204.4,103.4 204.5,104.0 204.6,104.6 204.6,105.2 204.7,105.8 204.7,106.4 204.8,107.0 204.8,107.6 204.8,108.2 204.8,108.8 204.9,109.4 204.9,110.0 204.9,110.6 204.9,111.2 204.8,111.8 204.8,112.4 204.8,113.0 204.8,113.6 204.8,114.2 204.7,114.8 204.7,115.4 204.7,116.0 204.6,116.6 204.5,117.2 204.4,117.8 204.4,118.4 204.3,119.0 204.2,119.6 204.0,120.2 203.8,120.8 203.4,121.4" fill="none" stroke="rgb(65,65,65)" stroke-width="0.42"/>
<path d="M195.9,121.4 195.5,120.9 195.1,120.2 194.9,119.6 194.8,119.0 194.9,118.4 195.0,117.8 195.2,117.2 195.3,116.6 195.3,116.0 195.3,115.4 195.2,114.8 195.1,114.2 195.1,113.6 195.1,113.0 195.0,112.4 195.0,111.8 195.0,111.2 195.0,110.6 195.0,110.0 195.0,109.4 195.0,108.8 195.0,108.2 195.0,107.6 195.0,107.0 195.1,106.4 195.1,105.8 195.2,105.2 195.3,104.6 195.4,104.0 195.5,103.4 195.6,102.8 195.7,102.2 195.9,101.6 196.1,101.0 196.3,100.4 196.5,99.8 196.8,99.2 197.1,98.6 197.5,98.0 197.9,97.5 198.5,97.0 199.1,96.7 199.7,96.7 200.3,96.9 200.9,97.3 201.4,97.8 201.8,98.4 202.1,99.0 202.4,99.6 202.7,100.2 202.9,100.8 203.1,101.4 203.2,102.0 203.4,102.6 203.5,103.2 203.6,103.8 203.7,104.4 203.8,105.0 203.9,105.6 203.9,106.2 204.0,106.8 204.0,107.4 204.0,108.0 204.0,108.6 204.0,109.2 204.0,109.8 204.0,110.4 204.0,111.0 204.0,111.6 204.0,112.2 203.9,112.8 203.9,113.4 203.9,114.0 203.8,114.6 203.8,115.2 203.7,115.8 203.6,116.4 203.6,117.0 203.7,117.6 203.8,118.2 203.8,118.8 203.8,119.4 203.6,120.0 203.4,120.6 202.9,121.2" fill="none" stroke="rgb(62,62,62)" stroke-width="0.42"/>
<path d="M196.2,121.4 195.7,120.8 195.3,120.2 195.1,119.6 195.0,119.0 195.1,118.4 195.2,117.8 195.5,117.2 195.9,116.7 196.3,116.1 196.4,115.4 196.3,114.8 196.2,114.2 196.1,113.6 196.0,113.0 196.0,112.4 195.9,111.8 195.9,111.2 195.8,110.6 195.8,110.0 195.8,109.4 195.8,108.8 195.8,108.2 195.8,107.6 195.8,107.0 195.8,106.4 195.9,105.8 195.9,105.2 196.0,104.6 196.1,104.0 196.2,103.4 196.3,102.8 196.5,102.2 196.6,101.6 196.8,101.0 197.1,100.4 197.3,99.8 197.7,99.2 198.1,98.6 198.7,98.1 199.3,97.8 199.9,97.9 200.5,98.2 201.1,98.8 201.4,99.4 201.8,100.0 202.0,100.6 202.2,101.2 202.4,101.8 202.6,102.4 202.7,103.0 202.8,103.6 202.9,104.2 203.0,104.8 203.1,105.4 203.1,106.0 203.2,106.6 203.2,107.2 203.2,107.8 203.2,108.4 203.2,109.0 203.2,109.6 203.2,110.2 203.2,110.8 203.1,111.4 203.1,112.0 203.0,112.6 203.0,113.2 202.9,113.8 202.8,114.4 202.7,115.0 202.6,115.6 202.6,116.2 202.9,116.8 203.2,117.4 203.5,118.0 203.6,118.6 203.6,119.2 203.5,119.8 203.2,120.4 202.8,121.0" fill="none" stroke="rgb(58,58,58)" stroke-width="0.42"/>
<path d="M196.4,121.4 195.9,120.9 195.5,120.4 195.3,119.8 195.1,119.2 195.1,118.6 195.3,118.0 195.6,117.4 196.0,116.8 196.5,116.3 197.1,115.8 197.2,115.2 197.1,114.6 196.9,114.0 196.8,113.4 196.7,112.8 196.6,112.2 196.5,111.6 196.5,111.0 196.4,110.4 196.4,109.8 196.3,109.2 196.3,108.6 196.3,108.0 196.3,107.4 196.3,106.8 196.4,106.2 196.4,105.6 196.5,105.0 196.5,104.4 196.6,103.8 196.8,103.2 196.9,102.6 197.1,102.0 197.3,101.4 197.5,100.8 197.8,100.2 198.1,99.7 198.5,99.2 199.1,98.8 199.7,98.8 200.3,99.0 200.8,99.6 201.2,100.2 201.5,100.8 201.7,101.4 201.9,102.0 202.1,102.6 202.2,103.2 202.4,103.8 202.5,104.4 202.5,105.0 202.6,105.6 202.6,106.2 202.7,106.8 202.7,107.4 202.7,108.0 202.7,108.6 202.7,109.2 202.6,109.8 202.6,110.4 202.5,111.0 202.5,111.6 202.4,112.2 202.3,112.8 202.2,113.4 202.1,114.0 201.9,114.6 201.7,115.2 201.7,115.8 202.3,116.4 202.7,116.9 203.1,117.4 203.3,118.0 203.5,118.6 203.5,119.2 203.4,119.8 203.1,120.4 202.7,121.0 202.2,121.4" fill="none" stroke="rgb(54,54,54)" stroke-width="0.42"/>
<path d="M196.5,121.4 196.0,121.0 195.6,120.4 195.3,119.8 195.2,119.2 195.2,118.6 195.4,118.0 195.7,117.4 196.1,116.8 196.6,116.4 197.1,116.0 197.7,115.6 197.8,115.0 197.6,114.4 197.4,113.8 197.2,113.2 197.1,112.6 197.0,112.0 196.9,111.4 196.8,110.8 196.7,110.2 196.7,109.6 196.6,109.0 196.6,108.4 196.6,107.8 196.6,107.2 196.6,106.6 196.7,106.0 196.7,105.4 196.8,104.8 196.9,104.2 197.0,103.6 197.1,103.0 197.3,102.4 197.5,101.8 197.7,101.2 198.0,100.6 198.4,100.0 198.9,99.6 199.5,99.4 200.1,99.6 200.6,100.0 201.0,100.6 201.3,101.2 201.5,101.8 201.7,102.4 201.9,103.0 202.0,103.6 202.1,104.2 202.2,104.8 202.3,105.4 202.3,106.0 202.4,106.6 202.4,107.2 202.4,107.8 202.4,108.4 202.4,109.0 202.3,109.6 202.3,110.2 202.2,110.8 202.1,111.4 202.0,112.0 201.9,112.6 201.8,113.2 201.6,113.8 201.4,114.4 201.2,115.0 201.2,115.6 201.7,116.1 202.3,116.6 202.8,117.2 203.2,117.8 203.4,118.4 203.4,119.0 203.4,119.6 203.1,120.2 202.8,120.8 202.3,121.3" fill="none" stroke="rgb(50,50,50)" stroke-width="0.42"/>
<path d="M196.6,121.4 196.1,121.0 195.7,120.5 195.4,119.8 195.2,119.2 195.3,118.6 195.4,118.0 195.7,117.4 196.1,116.9 196.7,116.4 197.3,116.0 197.9,115.7 198.5,115.2 198.2,114.6 197.9,114.0 197.7,113.4 197.5,112.8 197.3,112.2 197.2,111.6 197.1,111.0 197.1,110.4 197.0,109.8 196.9,109.2 196.9,108.6 196.9,108.0 196.9,107.4 196.9,106.8 196.9,106.2 197.0,105.6 197.0,105.0 197.1,104.4 197.2,103.8 197.4,103.2 197.5,102.6 197.7,102.0 198.0,101.4 198.3,100.8 198.7,100.3 199.3,100.0 199.9,100.1 200.5,100.6 200.9,101.2 201.2,101.8 201.4,102.4 201.6,103.0 201.7,103.6 201.8,104.2 201.9,104.8 202.0,105.4 202.1,106.0 202.1,106.6 202.1,107.2 202.1,107.8 202.1,108.4 202.1,109.0 202.0,109.6 202.0,110.2 201.9,110.8 201.8,111.4 201.7,112.0 201.6,112.6 201.4,113.2 201.2,113.8 200.9,114.4 200.6,115.0 200.7,115.6 201.3,115.9 201.9,116.3 202.4,116.8 202.9,117.4 203.2,118.0 203.4,118.6 203.4,119.2 203.3,119.8 203.0,120.4 202.5,121.0 202.1,121.4" fill="none" stroke="rgb(46,46,46)" stroke-width="0.42"/>
<path d="M199.5,114.8 198.9,114.6 198.5,114.2 198.2,113.6 197.9,113.0 197.7,112.4 197.6,111.8 197.4,111.2 197.3,110.6 197.3,110.0 197.2,109.4 197.2,108.8 197.1,108.2 197.1,107.6 197.1,107.0 197.2,106.4 197.2,105.8 197.3,105.2 197.3,104.6 197.4,104.0 197.6,103.4 197.7,102.8 198.0,102.2 198.2,101.6 198.7,101.0 199.2,100.6 199.9,100.6 200.5,101.2 200.9,101.8 201.1,102.4 201.3,103.0 201.5,103.6 201.6,104.2 201.7,104.8 201.8,105.4 201.8,106.0 201.9,106.6 201.9,107.2 201.9,107.8 201.9,108.4 201.8,109.0 201.8,109.6 201.7,110.2 201.6,110.8 201.5,111.4 201.4,112.0 201.2,112.6 201.0,113.2 200.7,113.8 200.3,114.4 199.7,114.8 Z" fill="none" stroke="rgb(42,42,42)" stroke-width="0.42"/>
<path d="M196.6,121.4 196.2,121.0 195.7,120.4 195.4,119.8 195.3,119.2 195.3,118.6 195.5,118.0 195.8,117.4 196.3,116.8 196.8,116.4 197.3,116.1 197.9,115.8 198.5,115.6 199.1,115.4 199.7,115.4 200.3,115.6 200.9,115.8 201.5,116.2 202.1,116.6 202.7,117.2 203.1,117.8 203.3,118.4 203.3,119.0 203.3,119.6 203.0,120.2 202.7,120.7 202.2,121.2" fill="none" stroke="rgb(42,42,42)" stroke-width="0.42"/>
<path d="M199.7,114.0 199.1,114.0 198.5,113.4 198.2,112.8 198.0,112.2 197.8,111.6 197.7,111.0 197.6,110.4 197.5,109.8 197.4,109.2 197.4,108.6 197.3,108.0 197.3,107.4 197.4,106.8 197.4,106.2 197.4,105.6 197.5,105.0 197.6,104.4 197.7,103.8 197.9,103.2 198.1,102.6 198.4,102.0 198.8,101.4 199.5,101.1 200.1,101.3 200.5,101.8 200.8,102.4 201.0,103.0 201.2,103.6 201.4,104.2 201.5,104.8 201.5,105.4 201.6,106.0 201.6,106.6 201.7,107.2 201.7,107.8 201.6,108.4 201.6,109.0 201.5,109.6 201.5,110.2 201.4,110.8 201.2,111.4 201.1,112.0 200.9,112.6 200.6,113.2 200.1,113.8 Z" fill="none" stroke="rgb(39,39,39)" stroke-width="0.42"/>
<path d="M196.7,121.4 196.2,121.0 195.7,120.4 195.4,119.8 195.3,119.2 195.3,118.6 195.5,118.0 195.8,117.4 196.3,116.8 196.9,116.4 197.5,116.0 198.1,115.8 198.7,115.6 199.3,115.6 199.9,115.6 200.5,115.8 201.1,116.0 201.7,116.3 202.3,116.8 202.7,117.3 203.0,117.8 203.2,118.4 203.3,119.0 203.2,119.6 203.0,120.2 202.6,120.8 202.1,121.3" fill="none" stroke="rgb(39,39,39)" stroke-width="0.42"/>
<path d="M199.9,113.3 199.3,113.4 198.8,113.0 198.4,112.4 198.2,111.8 198.0,111.2 197.9,110.6 197.7,110.0 197.7,109.4 197.6,108.8 197.6,108.2 197.5,107.6 197.5,107.0 197.6,106.4 197.6,105.8 197.7,105.2 197.8,104.6 197.9,104.0 198.1,103.4 198.3,102.8 198.6,102.2 199.1,101.7 199.7,101.6 200.2,102.0 200.6,102.6 200.9,103.2 201.0,103.8 201.2,104.4 201.3,105.0 201.4,105.6 201.4,106.2 201.4,106.8 201.5,107.4 201.4,108.0 201.4,108.6 201.4,109.2 201.3,109.8 201.2,110.4 201.1,111.0 200.9,111.6 200.7,112.2 200.3,112.8 199.9,113.3 Z" fill="none" stroke="rgb(35,35,35)" stroke-width="0.42"/>
<path d="M196.7,121.4 196.2,121.0 195.8,120.4 195.5,119.8 195.4,119.2 195.4,118.6 195.5,118.0 195.9,117.4 196.3,116.9 196.9,116.4 197.5,116.1 198.1,115.8 198.7,115.7 199.3,115.6 199.9,115.7 200.5,115.8 201.1,116.1 201.7,116.4 202.2,116.8 202.7,117.3 203.1,118.0 203.2,118.6 203.3,119.2 203.1,119.8 202.9,120.4 202.4,121.0 201.9,121.4" fill="none" stroke="rgb(35,35,35)" stroke-width="0.42"/>
<path d="M199.7,112.7 199.1,112.6 198.6,112.0 198.3,111.4 198.2,110.8 198.0,110.2 197.9,109.6 197.8,109.0 197.8,108.4 197.7,107.8 197.7,107.2 197.8,106.6 197.8,106.0 197.9,105.4 198.0,104.8 198.1,104.2 198.3,103.6 198.5,103.0 198.9,102.4 199.5,102.1 200.1,102.4 200.5,103.0 200.7,103.6 200.9,104.2 201.0,104.8 201.1,105.4 201.2,106.0 201.2,106.6 201.3,107.2 201.3,107.8 201.2,108.4 201.2,109.0 201.1,109.6 201.0,110.2 200.8,110.8 200.7,111.4 200.4,112.0 199.9,112.6 Z" fill="none" stroke="rgb(31,31,31)" stroke-width="0.42"/>
<path d="M196.8,121.4 196.3,121.0 195.9,120.6 195.6,120.0 195.4,119.4 195.4,118.8 195.5,118.2 195.8,117.6 196.2,117.0 196.7,116.6 197.3,116.2 197.9,116.0 198.5,115.8 199.1,115.7 199.7,115.7 200.3,115.8 200.9,116.0 201.5,116.3 202.1,116.7 202.6,117.2 202.9,117.7 203.2,118.4 203.2,119.0 203.2,119.6 202.9,120.2 202.5,120.8 201.9,121.4" fill="none" stroke="rgb(31,31,31)" stroke-width="0.42"/>
<path d="M199.7,112.1 199.1,111.9 198.7,111.4 198.4,110.8 198.3,110.2 198.1,109.6 198.0,109.0 198.0,108.4 197.9,107.8 197.9,107.2 198.0,106.6 198.0,106.0 198.1,105.4 198.2,104.8 198.3,104.2 198.6,103.6 198.9,103.0 199.5,102.7 200.1,103.0 200.4,103.6 200.7,104.2 200.8,104.8 200.9,105.4 201.0,106.0 201.0,106.6 201.1,107.2 201.1,107.8 201.0,108.4 201.0,109.0 200.9,109.6 200.7,110.2 200.6,110.8 200.3,111.4 199.9,111.9 Z" fill="none" stroke="rgb(27,27,27)" stroke-width="0.42"/>
<path d="M196.8,121.4 196.3,121.0 195.9,120.5 195.5,119.8 195.4,119.2 195.4,118.6 195.6,118.0 195.9,117.5 196.3,117.0 196.9,116.5 197.5,116.2 198.1,115.9 198.7,115.8 199.3,115.7 199.9,115.8 200.5,115.9 201.1,116.1 201.7,116.5 202.3,117.0 202.7,117.4 203.0,118.0 203.2,118.6 203.2,119.2 203.1,119.8 202.8,120.4 202.3,121.0 201.8,121.4" fill="none" stroke="rgb(27,27,27)" stroke-width="0.42"/>
<path d="M199.7,111.4 199.1,111.3 198.7,110.7 198.5,110.0 198.3,109.4 198.2,108.8 198.2,108.2 198.1,107.6 198.1,107.0 198.2,106.4 198.2,105.8 198.3,105.2 198.5,104.6 198.7,104.0 199.1,103.4 199.7,103.3 200.2,103.8 200.5,104.4 200.6,105.0 200.7,105.6 200.8,106.2 200.9,106.8 200.9,107.4 200.8,108.0 200.8,108.6 200.7,109.2 200.6,109.8 200.4,110.4 200.1,111.0 Z" fill="none" stroke="rgb(23,23,23)" stroke-width="0.42"/>
<path d="M196.9,121.4 196.3,121.0 195.9,120.5 195.6,119.8 195.4,119.2 195.5,118.6 195.6,118.0 196.0,117.4 196.5,116.8 197.1,116.4 197.7,116.1 198.3,115.9 198.9,115.8 199.5,115.8 200.1,115.8 200.7,116.0 201.3,116.3 201.8,116.6 202.3,117.0 202.7,117.5 203.1,118.2 203.2,118.8 203.1,119.4 203.0,120.0 202.6,120.6 202.1,121.1" fill="none" stroke="rgb(23,23,23)" stroke-width="0.42"/>
<path d="M199.7,110.7 199.1,110.6 198.8,110.0 198.6,109.4 198.5,108.8 198.4,108.2 198.3,107.6 198.3,107.0 198.4,106.4 198.5,105.8 198.6,105.2 198.8,104.6 199.1,104.0 199.7,103.9 200.1,104.4 200.4,105.0 200.5,105.6 200.6,106.2 200.6,106.8 200.7,107.4 200.6,108.0 200.6,108.6 200.5,109.2 200.3,109.8 200.0,110.4 Z" fill="none" stroke="rgb(20,20,20)" stroke-width="0.42"/>
<path d="M196.9,121.4 196.4,121.0 195.9,120.4 195.6,119.8 195.5,119.2 195.5,118.6 195.6,118.0 196.0,117.4 196.5,116.8 197.1,116.4 197.7,116.1 198.3,115.9 198.9,115.8 199.5,115.8 200.1,115.9 200.7,116.0 201.3,116.3 201.9,116.7 202.5,117.2 202.9,117.8 203.1,118.4 203.2,119.0 203.1,119.6 202.9,120.2 202.5,120.7 202.0,121.2" fill="none" stroke="rgb(20,20,20)" stroke-width="0.42"/>
<path d="M196.50,118.50 A2.80,2.00 0 0 1 202.10,118.50 Z" fill="#fff" stroke="#000" stroke-width="1.3"/>
</g>
<line x1="179.50" y1="27.40" x2="179.50" y2="118.50" stroke="#444" stroke-width="1.0"/>
<line x1="149.30" y1="88.30" x2="240.60" y2="88.30" stroke="#444" stroke-width="1.0"/>
<rect x="149.3" y="27.4" width="91.29999999999998" height="91.1" fill="none" stroke="#111" stroke-width="1.1"/>
<line x1="149.30" y1="27.40" x2="149.30" y2="119.10" stroke="#000" stroke-width="1.45"/>
<line x1="148.70" y1="118.50" x2="240.60" y2="118.50" stroke="#000" stroke-width="1.45"/>
<line x1="146.50" y1="28.20" x2="149.30" y2="28.20" stroke="#000" stroke-width="1.0"/>
<text x="134.30" y="33.60" font-size="8.6" font-weight="normal" text-anchor="start" fill="#111" textLength="7.60" lengthAdjust="spacingAndGlyphs" stroke="#111" stroke-width="0.22">10</text>
<text x="142.20" y="30.70" font-size="5.6" font-weight="normal" text-anchor="start" fill="#111" textLength="3.10" lengthAdjust="spacingAndGlyphs" stroke="#111" stroke-width="0.22">4</text>
<line x1="147.30" y1="43.79" x2="149.30" y2="43.79" stroke="#000" stroke-width="0.8"/>
<line x1="147.30" y1="39.86" x2="149.30" y2="39.86" stroke="#000" stroke-width="0.8"/>
<line x1="147.30" y1="37.07" x2="149.30" y2="37.07" stroke="#000" stroke-width="0.8"/>
<line x1="147.30" y1="34.91" x2="149.30" y2="34.91" stroke="#000" stroke-width="0.8"/>
<line x1="147.30" y1="33.15" x2="149.30" y2="33.15" stroke="#000" stroke-width="0.8"/>
<line x1="147.30" y1="31.65" x2="149.30" y2="31.65" stroke="#000" stroke-width="0.8"/>
<line x1="147.30" y1="30.36" x2="149.30" y2="30.36" stroke="#000" stroke-width="0.8"/>
<line x1="147.30" y1="29.22" x2="149.30" y2="29.22" stroke="#000" stroke-width="0.8"/>
<line x1="146.50" y1="50.50" x2="149.30" y2="50.50" stroke="#000" stroke-width="1.0"/>
<text x="134.30" y="52.60" font-size="8.6" font-weight="normal" text-anchor="start" fill="#111" textLength="7.60" lengthAdjust="spacingAndGlyphs" stroke="#111" stroke-width="0.22">10</text>
<text x="142.20" y="49.70" font-size="5.6" font-weight="normal" text-anchor="start" fill="#111" textLength="3.10" lengthAdjust="spacingAndGlyphs" stroke="#111" stroke-width="0.22">3</text>
<line x1="147.30" y1="66.09" x2="149.30" y2="66.09" stroke="#000" stroke-width="0.8"/>
<line x1="147.30" y1="62.16" x2="149.30" y2="62.16" stroke="#000" stroke-width="0.8"/>
<line x1="147.30" y1="59.37" x2="149.30" y2="59.37" stroke="#000" stroke-width="0.8"/>
<line x1="147.30" y1="57.21" x2="149.30" y2="57.21" stroke="#000" stroke-width="0.8"/>
<line x1="147.30" y1="55.45" x2="149.30" y2="55.45" stroke="#000" stroke-width="0.8"/>
<line x1="147.30" y1="53.95" x2="149.30" y2="53.95" stroke="#000" stroke-width="0.8"/>
<line x1="147.30" y1="52.66" x2="149.30" y2="52.66" stroke="#000" stroke-width="0.8"/>
<line x1="147.30" y1="51.52" x2="149.30" y2="51.52" stroke="#000" stroke-width="0.8"/>
<line x1="146.50" y1="72.80" x2="149.30" y2="72.80" stroke="#000" stroke-width="1.0"/>
<text x="134.30" y="75.80" font-size="8.6" font-weight="normal" text-anchor="start" fill="#111" textLength="7.60" lengthAdjust="spacingAndGlyphs" stroke="#111" stroke-width="0.22">10</text>
<text x="142.20" y="72.90" font-size="5.6" font-weight="normal" text-anchor="start" fill="#111" textLength="3.10" lengthAdjust="spacingAndGlyphs" stroke="#111" stroke-width="0.22">2</text>
<line x1="147.30" y1="88.39" x2="149.30" y2="88.39" stroke="#000" stroke-width="0.8"/>
<line x1="147.30" y1="84.46" x2="149.30" y2="84.46" stroke="#000" stroke-width="0.8"/>
<line x1="147.30" y1="81.67" x2="149.30" y2="81.67" stroke="#000" stroke-width="0.8"/>
<line x1="147.30" y1="79.51" x2="149.30" y2="79.51" stroke="#000" stroke-width="0.8"/>
<line x1="147.30" y1="77.75" x2="149.30" y2="77.75" stroke="#000" stroke-width="0.8"/>
<line x1="147.30" y1="76.25" x2="149.30" y2="76.25" stroke="#000" stroke-width="0.8"/>
<line x1="147.30" y1="74.96" x2="149.30" y2="74.96" stroke="#000" stroke-width="0.8"/>
<line x1="147.30" y1="73.82" x2="149.30" y2="73.82" stroke="#000" stroke-width="0.8"/>
<line x1="146.50" y1="95.10" x2="149.30" y2="95.10" stroke="#000" stroke-width="1.0"/>
<text x="134.30" y="97.50" font-size="8.6" font-weight="normal" text-anchor="start" fill="#111" textLength="7.60" lengthAdjust="spacingAndGlyphs" stroke="#111" stroke-width="0.22">10</text>
<text x="142.20" y="94.60" font-size="5.6" font-weight="normal" text-anchor="start" fill="#111" textLength="3.10" lengthAdjust="spacingAndGlyphs" stroke="#111" stroke-width="0.22">1</text>
<line x1="147.30" y1="110.69" x2="149.30" y2="110.69" stroke="#000" stroke-width="0.8"/>
<line x1="147.30" y1="106.76" x2="149.30" y2="106.76" stroke="#000" stroke-width="0.8"/>
<line x1="147.30" y1="103.97" x2="149.30" y2="103.97" stroke="#000" stroke-width="0.8"/>
<line x1="147.30" y1="101.81" x2="149.30" y2="101.81" stroke="#000" stroke-width="0.8"/>
<line x1="147.30" y1="100.05" x2="149.30" y2="100.05" stroke="#000" stroke-width="0.8"/>
<line x1="147.30" y1="98.55" x2="149.30" y2="98.55" stroke="#000" stroke-width="0.8"/>
<line x1="147.30" y1="97.26" x2="149.30" y2="97.26" stroke="#000" stroke-width="0.8"/>
<line x1="147.30" y1="96.12" x2="149.30" y2="96.12" stroke="#000" stroke-width="0.8"/>
<line x1="146.50" y1="117.40" x2="149.30" y2="117.40" stroke="#000" stroke-width="1.0"/>
<text x="134.30" y="118.50" font-size="8.6" font-weight="normal" text-anchor="start" fill="#111" textLength="7.60" lengthAdjust="spacingAndGlyphs" stroke="#111" stroke-width="0.22">10</text>
<text x="142.20" y="115.60" font-size="5.6" font-weight="normal" text-anchor="start" fill="#111" textLength="3.10" lengthAdjust="spacingAndGlyphs" stroke="#111" stroke-width="0.22">0</text>
<line x1="151.70" y1="118.50" x2="151.70" y2="121.30" stroke="#000" stroke-width="1.0"/>
<text x="148.00" y="130.80" font-size="8.6" font-weight="normal" text-anchor="start" fill="#111" textLength="7.60" lengthAdjust="spacingAndGlyphs" stroke="#111" stroke-width="0.22">10</text>
<text x="155.90" y="127.90" font-size="5.6" font-weight="normal" text-anchor="start" fill="#111" textLength="3.10" lengthAdjust="spacingAndGlyphs" stroke="#111" stroke-width="0.22">0</text>
<line x1="156.37" y1="118.50" x2="156.37" y2="120.50" stroke="#000" stroke-width="0.8"/>
<line x1="159.10" y1="118.50" x2="159.10" y2="120.50" stroke="#000" stroke-width="0.8"/>
<line x1="161.03" y1="118.50" x2="161.03" y2="120.50" stroke="#000" stroke-width="0.8"/>
<line x1="162.53" y1="118.50" x2="162.53" y2="120.50" stroke="#000" stroke-width="0.8"/>
<line x1="163.76" y1="118.50" x2="163.76" y2="120.50" stroke="#000" stroke-width="0.8"/>
<line x1="164.80" y1="118.50" x2="164.80" y2="120.50" stroke="#000" stroke-width="0.8"/>
<line x1="165.70" y1="118.50" x2="165.70" y2="120.50" stroke="#000" stroke-width="0.8"/>
<line x1="166.49" y1="118.50" x2="166.49" y2="120.50" stroke="#000" stroke-width="0.8"/>
<line x1="167.20" y1="118.50" x2="167.20" y2="121.30" stroke="#000" stroke-width="1.0"/>
<text x="162.80" y="130.80" font-size="8.6" font-weight="normal" text-anchor="start" fill="#111" textLength="7.60" lengthAdjust="spacingAndGlyphs" stroke="#111" stroke-width="0.22">10</text>
<text x="170.70" y="127.90" font-size="5.6" font-weight="normal" text-anchor="start" fill="#111" textLength="3.10" lengthAdjust="spacingAndGlyphs" stroke="#111" stroke-width="0.22">1</text>
<line x1="172.62" y1="118.50" x2="172.62" y2="120.50" stroke="#000" stroke-width="0.8"/>
<line x1="175.79" y1="118.50" x2="175.79" y2="120.50" stroke="#000" stroke-width="0.8"/>
<line x1="178.04" y1="118.50" x2="178.04" y2="120.50" stroke="#000" stroke-width="0.8"/>
<line x1="179.78" y1="118.50" x2="179.78" y2="120.50" stroke="#000" stroke-width="0.8"/>
<line x1="181.21" y1="118.50" x2="181.21" y2="120.50" stroke="#000" stroke-width="0.8"/>
<line x1="182.41" y1="118.50" x2="182.41" y2="120.50" stroke="#000" stroke-width="0.8"/>
<line x1="183.46" y1="118.50" x2="183.46" y2="120.50" stroke="#000" stroke-width="0.8"/>
<line x1="184.38" y1="118.50" x2="184.38" y2="120.50" stroke="#000" stroke-width="0.8"/>
<line x1="185.20" y1="118.50" x2="185.20" y2="121.30" stroke="#000" stroke-width="1.0"/>
<text x="181.30" y="130.80" font-size="8.6" font-weight="normal" text-anchor="start" fill="#111" textLength="7.60" lengthAdjust="spacingAndGlyphs" stroke="#111" stroke-width="0.22">10</text>
<text x="189.20" y="127.90" font-size="5.6" font-weight="normal" text-anchor="start" fill="#111" textLength="3.10" lengthAdjust="spacingAndGlyphs" stroke="#111" stroke-width="0.22">2</text>
<line x1="190.65" y1="118.50" x2="190.65" y2="120.50" stroke="#000" stroke-width="0.8"/>
<line x1="193.84" y1="118.50" x2="193.84" y2="120.50" stroke="#000" stroke-width="0.8"/>
<line x1="196.10" y1="118.50" x2="196.10" y2="120.50" stroke="#000" stroke-width="0.8"/>
<line x1="197.85" y1="118.50" x2="197.85" y2="120.50" stroke="#000" stroke-width="0.8"/>
<line x1="199.28" y1="118.50" x2="199.28" y2="120.50" stroke="#000" stroke-width="0.8"/>
<line x1="200.50" y1="118.50" x2="200.50" y2="120.50" stroke="#000" stroke-width="0.8"/>
<line x1="201.55" y1="118.50" x2="201.55" y2="120.50" stroke="#000" stroke-width="0.8"/>
<line x1="202.47" y1="118.50" x2="202.47" y2="120.50" stroke="#000" stroke-width="0.8"/>
<line x1="203.30" y1="118.50" x2="203.30" y2="121.30" stroke="#000" stroke-width="1.0"/>
<text x="199.10" y="130.80" font-size="8.6" font-weight="normal" text-anchor="start" fill="#111" textLength="7.60" lengthAdjust="spacingAndGlyphs" stroke="#111" stroke-width="0.22">10</text>
<text x="207.00" y="127.90" font-size="5.6" font-weight="normal" text-anchor="start" fill="#111" textLength="3.10" lengthAdjust="spacingAndGlyphs" stroke="#111" stroke-width="0.22">3</text>
<line x1="208.78" y1="118.50" x2="208.78" y2="120.50" stroke="#000" stroke-width="0.8"/>
<line x1="211.98" y1="118.50" x2="211.98" y2="120.50" stroke="#000" stroke-width="0.8"/>
<line x1="214.26" y1="118.50" x2="214.26" y2="120.50" stroke="#000" stroke-width="0.8"/>
<line x1="216.02" y1="118.50" x2="216.02" y2="120.50" stroke="#000" stroke-width="0.8"/>
<line x1="217.46" y1="118.50" x2="217.46" y2="120.50" stroke="#000" stroke-width="0.8"/>
<line x1="218.68" y1="118.50" x2="218.68" y2="120.50" stroke="#000" stroke-width="0.8"/>
<line x1="219.74" y1="118.50" x2="219.74" y2="120.50" stroke="#000" stroke-width="0.8"/>
<line x1="220.67" y1="118.50" x2="220.67" y2="120.50" stroke="#000" stroke-width="0.8"/>
<line x1="221.50" y1="118.50" x2="221.50" y2="121.30" stroke="#000" stroke-width="1.0"/>
<text x="217.10" y="130.80" font-size="8.6" font-weight="normal" text-anchor="start" fill="#111" textLength="7.60" lengthAdjust="spacingAndGlyphs" stroke="#111" stroke-width="0.22">10</text>
<text x="225.00" y="127.90" font-size="5.6" font-weight="normal" text-anchor="start" fill="#111" textLength="3.10" lengthAdjust="spacingAndGlyphs" stroke="#111" stroke-width="0.22">4</text>
<line x1="226.92" y1="118.50" x2="226.92" y2="120.50" stroke="#000" stroke-width="0.8"/>
<line x1="230.09" y1="118.50" x2="230.09" y2="120.50" stroke="#000" stroke-width="0.8"/>
<line x1="232.34" y1="118.50" x2="232.34" y2="120.50" stroke="#000" stroke-width="0.8"/>
<line x1="234.08" y1="118.50" x2="234.08" y2="120.50" stroke="#000" stroke-width="0.8"/>
<line x1="235.51" y1="118.50" x2="235.51" y2="120.50" stroke="#000" stroke-width="0.8"/>
<line x1="236.71" y1="118.50" x2="236.71" y2="120.50" stroke="#000" stroke-width="0.8"/>
<line x1="237.76" y1="118.50" x2="237.76" y2="120.50" stroke="#000" stroke-width="0.8"/>
<line x1="238.68" y1="118.50" x2="238.68" y2="120.50" stroke="#000" stroke-width="0.8"/>
<line x1="239.50" y1="118.50" x2="239.50" y2="121.30" stroke="#000" stroke-width="1.0"/>
<text x="231.60" y="130.80" font-size="8.6" font-weight="normal" text-anchor="start" fill="#111" textLength="7.60" lengthAdjust="spacingAndGlyphs" stroke="#111" stroke-width="0.22">10</text>
<text x="239.50" y="127.90" font-size="5.6" font-weight="normal" text-anchor="start" fill="#111" textLength="3.10" lengthAdjust="spacingAndGlyphs" stroke="#111" stroke-width="0.22">5</text>
<text x="152.10" y="51.90" font-size="7.9" font-weight="bold" text-anchor="start" fill="#111" textLength="27.50" lengthAdjust="spacingAndGlyphs" stroke="#111" stroke-width="0.12">41.60%</text>
<text x="209.90" y="87.50" font-size="7.9" font-weight="bold" text-anchor="start" fill="#111" textLength="28.00" lengthAdjust="spacingAndGlyphs" stroke="#111" stroke-width="0.12">50.10%</text>
<text x="163.20" y="24.00" font-size="9.8" font-weight="bold" text-anchor="start" fill="#111" textLength="56.60" lengthAdjust="spacingAndGlyphs" stroke="#111" stroke-width="0.3">Prx1-Cre; A2</text>
<text x="220.00" y="20.10" font-size="6.4" font-weight="bold" text-anchor="start" fill="#222" textLength="11.00" lengthAdjust="spacingAndGlyphs">fl/fl</text>
<line x1="10.80" y1="136.20" x2="10.80" y2="112.20" stroke="#000" stroke-width="1.2"/>
<line x1="10.20" y1="135.60" x2="54.00" y2="135.60" stroke="#000" stroke-width="1.2"/>
<path d="M8.40,113.90 L10.80,109.70 L13.20,113.90 Z" fill="#000"/>
<path d="M52.30,133.20 L56.50,135.60 L52.30,138.00 Z" fill="#000"/>
<text x="59.80" y="138.90" font-size="9.2" font-weight="bold" text-anchor="start" fill="#000" textLength="25.30" lengthAdjust="spacingAndGlyphs" stroke="#000" stroke-width="0.3">CD45.1</text>
<text x="13.80" y="93.00" font-size="10.0" font-weight="bold" text-anchor="middle" fill="#000" textLength="26.00" lengthAdjust="spacingAndGlyphs" transform="rotate(-90 13.80 93.00)" stroke="#000" stroke-width="0.3">CD45.2</text>
<clipPath id="clip2"><rect x="298.9" y="166.9" width="90.90000000000003" height="90.79999999999998"/></clipPath>
<g clip-path="url(#clip2)">
<path d="M295.9,199.3 296.3,198.7 296.7,198.1 297.1,197.7 297.7,197.1 298.2,196.7 298.7,196.3 299.3,196.0 299.9,195.7 300.5,195.5 301.1,195.4 301.7,195.3 302.3,195.2 302.9,195.2 303.5,195.2 304.1,195.2 304.7,195.2 305.3,195.2 305.9,195.2 306.5,195.2 307.1,195.2 307.7,195.1 308.3,195.1 308.9,195.0 309.5,195.0 310.1,194.9 310.7,194.9 311.3,194.9 311.9,194.9 312.5,194.9 313.1,194.9 313.7,194.9 314.3,194.9 314.9,195.0 315.5,195.1 316.1,195.1 316.7,195.3 317.3,195.4 317.9,195.5 318.5,195.7 319.1,195.9 319.7,196.1 320.3,196.4 320.9,196.7 321.5,197.0 322.1,197.4 322.7,197.8 323.3,198.3 323.8,198.7 324.3,199.2 324.8,199.7 325.3,200.3 325.7,200.9 326.1,201.5 326.5,202.1 326.8,202.7 327.0,203.3 327.3,203.9 327.5,204.5 327.7,205.1 327.8,205.7 327.9,206.3 327.9,206.9 327.9,207.5 327.9,208.1 327.9,208.7 327.8,209.3 327.8,209.9 327.7,210.5 327.6,211.1 327.5,211.7 327.3,212.3 327.1,212.9 326.9,213.5 326.7,214.1 326.4,214.7 326.1,215.3 325.8,215.9 325.4,216.5 324.9,217.1 324.5,217.5 324.0,218.1 323.5,218.5 322.9,219.0 322.3,219.5 321.7,219.8 321.1,220.2 320.5,220.5 319.9,220.8 319.3,221.0 318.7,221.2 318.1,221.4 317.5,221.6 316.9,221.7 316.3,221.8 315.7,221.9 315.1,222.0 314.5,222.0 313.9,222.1 313.3,222.1 312.7,222.1 312.1,222.1 311.5,222.1 310.9,222.1 310.3,222.0 309.7,222.0 309.1,221.9 308.5,221.8 307.9,221.7 307.3,221.6 306.7,221.5 306.1,221.4 305.5,221.2 304.9,221.1 304.3,220.9 303.7,220.8 303.1,220.6 302.5,220.4 301.9,220.2 301.3,220.0 300.7,219.7 300.1,219.5 299.5,219.1 298.9,218.7 298.3,218.3 297.9,217.9 297.3,217.3 296.9,216.9 296.5,216.4 296.1,215.8" fill="none" stroke="rgb(110,110,110)" stroke-width="0.4"/>
<path d="M295.9,201.1 296.2,200.5 296.6,199.9 297.0,199.3 297.5,198.7 298.1,198.1 298.6,197.7 299.1,197.4 299.7,197.0 300.3,196.8 300.9,196.6 301.5,196.5 302.1,196.4 302.7,196.4 303.3,196.3 303.9,196.3 304.5,196.4 305.1,196.4 305.7,196.4 306.3,196.4 306.9,196.4 307.5,196.3 308.1,196.3 308.7,196.2 309.3,196.2 309.9,196.1 310.5,196.1 311.1,196.1 311.7,196.1 312.3,196.1 312.9,196.1 313.5,196.1 314.1,196.1 314.7,196.2 315.3,196.2 315.9,196.3 316.5,196.4 317.1,196.6 317.7,196.7 318.3,196.9 318.9,197.1 319.5,197.4 320.1,197.7 320.7,198.0 321.3,198.4 321.9,198.8 322.5,199.3 323.0,199.7 323.5,200.2 324.0,200.7 324.5,201.3 324.9,201.9 325.3,202.5 325.7,203.1 326.0,203.7 326.2,204.3 326.4,204.9 326.6,205.5 326.7,206.1 326.7,206.7 326.8,207.3 326.8,207.9 326.7,208.5 326.6,209.1 326.5,209.7 326.4,210.3 326.3,210.9 326.2,211.5 326.0,212.1 325.8,212.7 325.6,213.3 325.3,213.9 325.1,214.5 324.7,215.1 324.3,215.7 323.9,216.3 323.5,216.7 322.9,217.3 322.3,217.9 321.7,218.3 321.2,218.7 320.5,219.1 319.9,219.4 319.3,219.7 318.7,219.9 318.1,220.1 317.5,220.3 316.9,220.5 316.3,220.6 315.7,220.7 315.1,220.8 314.5,220.9 313.9,220.9 313.3,220.9 312.7,220.9 312.1,220.9 311.5,220.9 310.9,220.9 310.3,220.9 309.7,220.8 309.1,220.7 308.5,220.6 307.9,220.5 307.3,220.4 306.7,220.3 306.1,220.1 305.5,220.0 304.9,219.8 304.3,219.7 303.7,219.5 303.1,219.4 302.5,219.2 301.9,219.0 301.3,218.7 300.7,218.5 300.1,218.2 299.5,217.8 298.9,217.4 298.3,216.9 297.7,216.3 297.3,215.8 296.9,215.3 296.5,214.7 296.2,214.1 295.9,213.5" fill="none" stroke="rgb(105,105,105)" stroke-width="0.4"/>
<path d="M295.9,204.0 296.1,203.3 296.3,202.7 296.5,202.1 296.8,201.5 297.2,200.9 297.6,200.3 298.1,199.7 298.7,199.1 299.3,198.7 299.9,198.3 300.5,198.1 301.1,197.9 301.7,197.8 302.3,197.7 302.9,197.7 303.5,197.7 304.1,197.7 304.7,197.7 305.3,197.7 305.9,197.7 306.5,197.7 307.1,197.7 307.7,197.7 308.3,197.6 308.9,197.6 309.5,197.5 310.1,197.5 310.7,197.4 311.3,197.4 311.9,197.4 312.5,197.4 313.1,197.4 313.7,197.4 314.3,197.5 314.9,197.5 315.5,197.6 316.1,197.7 316.7,197.9 317.3,198.0 317.9,198.2 318.5,198.4 319.1,198.7 319.7,199.0 320.3,199.4 320.8,199.7 321.4,200.1 321.9,200.5 322.4,200.9 322.9,201.4 323.3,201.9 323.8,202.5 324.3,203.1 324.6,203.7 324.9,204.3 325.2,204.9 325.4,205.5 325.5,206.1 325.5,206.7 325.6,207.3 325.5,207.9 325.4,208.5 325.3,209.1 325.2,209.7 325.1,210.3 324.9,210.9 324.7,211.5 324.5,212.1 324.3,212.7 324.0,213.3 323.7,213.9 323.3,214.5 322.9,215.1 322.5,215.6 322.1,216.1 321.5,216.7 321.0,217.1 320.4,217.5 319.8,217.9 319.1,218.2 318.6,218.5 317.9,218.8 317.3,219.0 316.7,219.1 316.1,219.3 315.5,219.4 314.9,219.5 314.3,219.5 313.7,219.6 313.1,219.6 312.5,219.6 311.9,219.6 311.3,219.6 310.7,219.5 310.1,219.5 309.5,219.4 308.9,219.3 308.3,219.2 307.7,219.1 307.1,219.0 306.5,218.8 305.9,218.7 305.3,218.5 304.7,218.4 304.1,218.2 303.5,218.1 302.9,217.9 302.3,217.7 301.7,217.5 301.1,217.2 300.5,216.9 299.9,216.6 299.3,216.2 298.8,215.7 298.3,215.2 297.9,214.8 297.5,214.2 297.2,213.7 296.8,213.1 296.6,212.5 296.3,211.9 296.1,211.3 296.0,210.7" fill="none" stroke="rgb(100,100,100)" stroke-width="0.4"/>
<path d="M314.7,217.9 314.1,218.0 313.5,218.0 312.9,218.0 312.3,218.1 311.7,218.0 311.1,218.0 310.5,218.0 309.9,217.9 309.3,217.8 308.7,217.7 308.1,217.6 307.5,217.4 306.9,217.3 306.3,217.1 305.7,217.0 305.1,216.8 304.5,216.7 303.9,216.5 303.3,216.4 302.7,216.2 302.1,216.0 301.5,215.8 300.9,215.5 300.3,215.1 299.7,214.7 299.3,214.3 298.7,213.7 298.3,213.2 297.9,212.5 297.6,211.9 297.3,211.3 297.1,210.7 296.9,210.1 296.8,209.5 296.7,208.9 296.6,208.3 296.6,207.7 296.6,207.1 296.6,206.5 296.6,205.9 296.7,205.3 296.8,204.7 297.0,204.1 297.2,203.5 297.4,202.9 297.7,202.3 298.1,201.7 298.5,201.2 298.9,200.7 299.4,200.3 300.0,199.9 300.7,199.6 301.3,199.4 301.9,199.3 302.5,199.2 303.1,199.2 303.7,199.2 304.3,199.2 304.9,199.2 305.5,199.3 306.1,199.3 306.7,199.3 307.3,199.2 307.9,199.2 308.5,199.1 309.1,199.0 309.7,199.0 310.3,198.9 310.9,198.9 311.5,198.9 312.1,198.8 312.7,198.8 313.3,198.9 313.9,198.9 314.5,199.0 315.1,199.0 315.7,199.1 316.3,199.3 316.9,199.4 317.5,199.6 318.1,199.9 318.7,200.1 319.3,200.4 319.9,200.8 320.4,201.1 321.0,201.5 321.5,201.9 322.0,202.3 322.5,202.8 322.9,203.3 323.3,203.9 323.7,204.5 323.9,205.1 324.1,205.7 324.2,206.3 324.3,206.9 324.3,207.5 324.2,208.1 324.0,208.7 323.9,209.3 323.7,209.9 323.4,210.5 323.2,211.1 322.9,211.7 322.6,212.3 322.3,212.9 322.0,213.5 321.5,214.1 321.1,214.6 320.7,215.1 320.1,215.6 319.5,216.1 318.9,216.5 318.3,216.8 317.7,217.1 317.1,217.3 316.5,217.5 315.9,217.7 315.3,217.8 314.7,217.9 Z" fill="none" stroke="rgb(95,95,95)" stroke-width="0.4"/>
<path d="M312.9,216.1 312.3,216.1 311.7,216.1 311.1,216.1 310.5,216.0 309.9,215.9 309.3,215.8 308.7,215.7 308.1,215.5 307.5,215.3 306.9,215.2 306.3,215.0 305.7,214.9 305.1,214.7 304.5,214.6 303.9,214.5 303.3,214.3 302.7,214.2 302.1,214.0 301.5,213.7 300.9,213.4 300.3,212.9 299.8,212.5 299.3,211.9 298.9,211.3 298.6,210.7 298.4,210.1 298.2,209.5 298.0,208.9 297.9,208.3 297.9,207.7 297.9,207.1 297.9,206.5 298.0,205.9 298.1,205.3 298.2,204.7 298.5,204.1 298.8,203.5 299.1,203.0 299.5,202.5 300.1,201.9 300.7,201.5 301.3,201.3 301.9,201.1 302.5,201.0 303.1,201.0 303.7,201.0 304.3,201.0 304.9,201.0 305.5,201.0 306.1,201.0 306.7,200.9 307.3,200.8 307.9,200.8 308.5,200.7 309.1,200.6 309.7,200.5 310.3,200.4 310.9,200.4 311.5,200.3 312.1,200.3 312.7,200.3 313.3,200.3 313.9,200.4 314.5,200.4 315.1,200.5 315.7,200.6 316.3,200.7 316.9,200.9 317.5,201.1 318.1,201.3 318.7,201.6 319.3,201.9 319.9,202.3 320.5,202.7 321.0,203.1 321.5,203.6 321.9,204.0 322.3,204.6 322.7,205.3 322.8,205.9 322.9,206.5 322.9,207.1 322.9,207.7 322.7,208.3 322.5,208.9 322.2,209.5 321.9,210.0 321.5,210.7 321.1,211.3 320.7,211.9 320.3,212.4 319.9,212.9 319.5,213.4 318.9,213.9 318.5,214.3 317.9,214.7 317.3,215.0 316.7,215.3 316.1,215.6 315.5,215.7 314.9,215.9 314.3,216.0 313.7,216.1 313.1,216.1 Z" fill="none" stroke="rgb(90,90,90)" stroke-width="0.4"/>
<path d="M314.3,213.3 313.7,213.4 313.1,213.5 312.5,213.5 311.9,213.5 311.3,213.4 310.7,213.3 310.1,213.2 309.5,213.1 308.9,212.9 308.3,212.7 307.7,212.5 307.1,212.3 306.5,212.2 305.9,212.0 305.3,211.8 304.7,211.7 304.1,211.6 303.5,211.5 302.9,211.3 302.3,211.1 301.7,210.8 301.1,210.4 300.7,209.9 300.3,209.3 300.1,208.7 299.9,208.1 299.8,207.5 299.8,206.9 299.9,206.3 300.0,205.7 300.3,205.1 300.7,204.5 301.3,203.9 301.9,203.6 302.5,203.4 303.1,203.2 303.7,203.1 304.3,203.0 304.9,202.9 305.5,202.8 306.1,202.7 306.7,202.5 307.3,202.4 307.9,202.2 308.5,202.1 309.1,201.9 309.7,201.8 310.3,201.7 310.9,201.7 311.5,201.6 312.1,201.6 312.7,201.6 313.3,201.6 313.9,201.6 314.5,201.7 315.1,201.8 315.7,201.9 316.3,202.0 316.9,202.2 317.5,202.4 318.1,202.6 318.7,202.9 319.3,203.3 319.8,203.7 320.3,204.1 320.7,204.6 321.1,205.1 321.3,205.7 321.5,206.3 321.5,206.9 321.4,207.5 321.2,208.1 320.9,208.7 320.5,209.3 320.1,209.8 319.7,210.3 319.1,210.8 318.5,211.3 317.9,211.7 317.3,212.1 316.7,212.5 316.1,212.7 315.5,213.0 314.9,213.2 314.3,213.3 Z" fill="none" stroke="rgb(85,85,85)" stroke-width="0.4"/>
<path d="M314.3,211.9 313.7,212.0 313.1,212.0 312.5,212.0 311.9,212.0 311.3,212.0 310.7,211.9 310.1,211.8 309.5,211.6 308.9,211.5 308.3,211.3 307.7,211.1 307.1,210.8 306.5,210.6 305.9,210.4 305.3,210.1 304.7,209.9 304.1,209.7 303.5,209.4 302.9,209.1 302.4,208.7 301.9,208.1 301.7,207.5 301.7,206.9 301.8,206.3 302.1,205.7 302.7,205.1 303.3,204.8 303.9,204.5 304.5,204.2 305.1,204.0 305.7,203.7 306.3,203.5 306.9,203.3 307.5,203.1 308.1,202.9 308.7,202.7 309.3,202.6 309.9,202.4 310.5,202.4 311.1,202.3 311.7,202.2 312.3,202.2 312.9,202.2 313.5,202.2 314.1,202.2 314.7,202.3 315.3,202.4 315.9,202.5 316.5,202.7 317.1,202.9 317.7,203.1 318.3,203.4 318.9,203.8 319.5,204.3 320.1,204.9 320.4,205.5 320.6,206.1 320.7,206.7 320.6,207.3 320.4,207.9 320.1,208.5 319.7,209.0 319.3,209.5 318.8,209.9 318.3,210.3 317.7,210.7 317.1,211.0 316.5,211.3 315.9,211.5 315.3,211.7 314.7,211.8 Z" fill="none" stroke="rgb(80,80,80)" stroke-width="0.4"/>
<path d="M314.5,210.7 313.9,210.8 313.3,210.9 312.7,210.9 312.1,210.9 311.5,210.8 310.9,210.7 310.3,210.6 309.7,210.5 309.1,210.3 308.5,210.1 307.9,209.8 307.3,209.5 306.7,209.2 306.1,208.8 305.5,208.3 305.1,207.8 304.8,207.1 304.8,206.5 305.0,205.9 305.5,205.3 306.0,204.9 306.5,204.5 307.1,204.2 307.7,203.9 308.3,203.7 308.9,203.4 309.5,203.3 310.1,203.1 310.7,203.0 311.3,202.9 311.9,202.9 312.5,202.8 313.1,202.8 313.7,202.9 314.3,202.9 314.9,203.0 315.5,203.1 316.1,203.3 316.7,203.5 317.3,203.7 317.9,204.1 318.5,204.5 319.1,205.1 319.5,205.7 319.7,206.3 319.7,206.9 319.5,207.5 319.2,208.1 318.7,208.7 318.3,209.1 317.8,209.5 317.1,209.9 316.5,210.2 315.9,210.4 315.3,210.6 314.7,210.7 Z" fill="none" stroke="rgb(75,75,75)" stroke-width="0.4"/>
<path d="M312.9,210.1 312.3,210.1 311.7,210.0 311.1,210.0 310.5,209.9 309.9,209.7 309.3,209.5 308.7,209.2 308.1,208.9 307.5,208.5 307.0,208.1 306.6,207.5 306.4,206.9 306.4,206.3 306.7,205.7 307.1,205.2 307.7,204.8 308.3,204.4 308.9,204.1 309.5,203.9 310.1,203.7 310.7,203.6 311.3,203.5 311.9,203.4 312.5,203.4 313.1,203.4 313.7,203.4 314.3,203.5 314.9,203.6 315.5,203.7 316.1,203.9 316.7,204.1 317.3,204.5 317.9,204.9 318.4,205.5 318.7,206.1 318.8,206.7 318.7,207.3 318.4,207.9 317.9,208.4 317.3,208.9 316.7,209.3 316.2,209.5 315.5,209.7 314.9,209.9 314.3,210.0 313.7,210.1 313.1,210.1 Z" fill="none" stroke="rgb(70,70,70)" stroke-width="0.4"/>
<path d="M314.7,209.3 314.1,209.4 313.5,209.5 312.9,209.5 312.3,209.5 311.7,209.4 311.1,209.3 310.5,209.2 309.9,209.0 309.3,208.7 308.7,208.4 308.1,207.9 307.7,207.4 307.5,206.7 307.6,206.1 308.0,205.5 308.5,205.1 309.1,204.7 309.7,204.4 310.3,204.2 310.9,204.1 311.5,204.0 312.1,203.9 312.7,203.9 313.3,203.9 313.9,203.9 314.5,204.0 315.1,204.1 315.7,204.3 316.3,204.6 316.9,204.9 317.3,205.3 317.8,205.9 318.0,206.5 317.9,207.1 317.6,207.7 317.1,208.2 316.5,208.6 316.0,208.9 315.3,209.1 314.7,209.3 Z" fill="none" stroke="rgb(65,65,65)" stroke-width="0.4"/>
<path d="M313.7,208.9 313.1,208.9 312.5,208.9 311.9,208.9 311.3,208.8 310.7,208.6 310.1,208.4 309.5,208.1 309.0,207.7 308.6,207.1 308.5,206.5 308.7,205.9 309.3,205.3 309.9,205.0 310.5,204.7 311.1,204.5 311.7,204.4 312.3,204.4 312.9,204.3 313.5,204.4 314.1,204.4 314.7,204.6 315.3,204.7 315.9,205.0 316.5,205.4 316.9,205.9 317.1,206.5 317.0,207.1 316.7,207.6 316.1,208.1 315.5,208.5 314.9,208.7 314.3,208.8 313.7,208.9 Z" fill="none" stroke="rgb(60,60,60)" stroke-width="0.4"/>
<path d="M313.9,208.3 313.3,208.4 312.7,208.4 312.1,208.4 311.5,208.2 310.9,208.1 310.3,207.8 309.8,207.3 309.5,206.7 309.6,206.1 310.1,205.6 310.7,205.3 311.3,205.0 311.9,204.9 312.5,204.8 313.1,204.8 313.7,204.9 314.3,205.0 314.9,205.2 315.5,205.5 316.0,205.9 316.2,206.5 316.1,207.1 315.7,207.6 315.1,208.0 314.5,208.2 313.9,208.3 Z" fill="none" stroke="rgb(55,55,55)" stroke-width="0.4"/>
<path d="M313.7,207.7 313.1,207.8 312.5,207.8 311.9,207.7 311.3,207.5 310.7,206.9 310.7,206.3 311.3,205.8 311.9,205.5 312.5,205.4 313.1,205.4 313.7,205.5 314.3,205.6 314.9,206.0 315.2,206.7 314.8,207.3 314.1,207.6 Z" fill="none" stroke="rgb(50,50,50)" stroke-width="0.4"/>
<path d="M298.9,201.5 Q302.8,207 298.9,212.5 Z" fill="#444"/>
<path d="M353.3,215.1 352.7,215.1 352.1,215.0 351.5,214.8 350.9,214.5 350.3,214.2 349.7,213.7 349.1,213.1 348.7,212.6 348.4,212.1 348.0,211.5 347.8,210.9 347.6,210.3 347.4,209.7 347.3,209.1 347.2,208.5 347.2,207.9 347.2,207.3 347.2,206.7 347.3,206.1 347.5,205.5 347.6,204.9 347.9,204.3 348.1,203.7 348.5,203.1 348.9,202.5 349.3,202.1 349.9,201.5 350.5,201.1 351.1,200.8 351.7,200.5 352.3,200.4 352.9,200.3 353.5,200.3 354.1,200.4 354.7,200.5 355.3,200.8 355.9,201.1 356.5,201.5 356.9,201.9 357.5,202.5 357.9,203.1 358.3,203.7 358.5,204.3 358.8,204.9 358.9,205.5 359.1,206.1 359.2,206.7 359.2,207.3 359.2,207.9 359.2,208.5 359.1,209.1 359.0,209.7 358.8,210.3 358.6,210.9 358.4,211.5 358.0,212.1 357.7,212.6 357.3,213.1 356.7,213.7 356.2,214.1 355.7,214.4 355.2,214.7 354.5,214.9 353.9,215.1 353.3,215.1 Z" fill="none" stroke="rgb(85,85,85)" stroke-width="0.45"/>
<path d="M354.1,212.9 353.5,213.0 352.9,213.0 352.3,212.9 351.7,212.7 351.1,212.4 350.5,211.9 350.0,211.3 349.6,210.7 349.3,210.1 349.1,209.5 349.0,208.9 348.9,208.3 348.9,207.7 348.9,207.1 349.0,206.5 349.1,205.9 349.3,205.3 349.6,204.7 350.0,204.1 350.5,203.5 351.0,203.1 351.5,202.8 352.1,202.5 352.7,202.4 353.3,202.3 353.9,202.4 354.5,202.6 355.1,202.9 355.7,203.3 356.3,203.9 356.7,204.5 357.0,205.1 357.2,205.7 357.4,206.3 357.5,206.9 357.5,207.5 357.5,208.1 357.5,208.7 357.3,209.3 357.2,209.9 356.9,210.5 356.6,211.1 356.1,211.7 355.5,212.2 354.9,212.6 354.3,212.9 Z" fill="none" stroke="rgb(80,80,80)" stroke-width="0.45"/>
<path d="M353.7,211.1 353.1,211.2 352.5,211.1 351.9,210.8 351.3,210.3 350.9,209.7 350.6,209.1 350.4,208.5 350.4,207.9 350.4,207.3 350.5,206.7 350.7,206.1 351.0,205.5 351.5,204.9 352.1,204.5 352.7,204.3 353.3,204.2 353.9,204.3 354.5,204.6 355.1,205.1 355.5,205.7 355.8,206.3 356.0,206.9 356.0,207.5 356.0,208.1 355.9,208.7 355.7,209.3 355.4,209.9 354.9,210.5 354.3,210.9 353.7,211.1 Z" fill="none" stroke="rgb(75,75,75)" stroke-width="0.45"/>
<path d="M353.5,209.4 352.9,209.4 352.3,209.0 351.9,208.3 351.8,207.7 351.9,207.1 352.2,206.5 352.7,206.1 353.3,206.0 353.9,206.2 354.3,206.7 354.5,207.3 354.6,207.9 354.4,208.5 354.0,209.1 Z" fill="none" stroke="rgb(70,70,70)" stroke-width="0.45"/>
<path d="M340.8,260.5 340.8,259.9 340.7,259.3 340.7,258.7 340.7,258.1 340.6,257.5 340.6,256.9 340.6,256.3 340.6,255.7 340.6,255.1 340.6,254.5 340.6,253.9 340.6,253.3 340.6,252.7 340.6,252.1 340.6,251.5 340.6,250.9 340.6,250.3 340.6,249.7 340.6,249.1 340.6,248.5 340.6,247.9 340.6,247.3 340.6,246.7 340.7,246.1 340.7,245.5 340.7,244.9 340.8,244.3 340.8,243.7 340.8,243.1 340.9,242.5 341.0,241.9 341.0,241.3 341.1,240.7 341.2,240.1 341.3,239.5 341.4,238.9 341.5,238.3 341.6,237.7 341.7,237.1 341.8,236.5 342.0,235.9 342.2,235.3 342.4,234.7 342.6,234.1 342.8,233.5 343.0,232.9 343.3,232.3 343.6,231.7 343.9,231.2 344.3,230.5 344.7,230.0 345.1,229.5 345.7,228.9 346.3,228.3 346.8,227.9 347.3,227.5 347.8,227.1 348.2,226.7 348.7,226.3 349.3,225.7 349.8,225.3 350.3,224.9 350.9,224.5 351.5,224.3 352.1,224.3 352.7,224.4 353.3,224.6 353.9,225.0 354.5,225.5 355.1,226.1 355.6,226.5 356.1,227.0 356.7,227.5 357.2,227.9 357.7,228.3 358.3,228.9 358.7,229.3 359.2,229.9 359.7,230.5 360.1,231.1 360.4,231.7 360.7,232.3 361.0,232.9 361.2,233.5 361.4,234.1 361.6,234.7 361.8,235.3 362.0,235.9 362.2,236.5 362.3,237.1 362.4,237.7 362.5,238.3 362.6,238.9 362.7,239.5 362.8,240.1 362.9,240.7 363.0,241.3 363.0,241.9 363.1,242.5 363.2,243.1 363.2,243.7 363.2,244.3 363.3,244.9 363.3,245.5 363.3,246.1 363.4,246.7 363.4,247.3 363.4,247.9 363.4,248.5 363.4,249.1 363.4,249.7 363.4,250.3 363.4,250.9 363.4,251.5 363.4,252.1 363.4,252.7 363.4,253.3 363.4,253.9 363.4,254.5 363.4,255.1 363.4,255.7 363.4,256.3 363.4,256.9 363.4,257.5 363.3,258.1 363.3,258.7 363.3,259.3 363.2,259.9 363.2,260.5" fill="none" stroke="rgb(85,85,85)" stroke-width="0.45"/>
<path d="M341.4,260.5 341.4,259.9 341.3,259.3 341.3,258.7 341.3,258.1 341.3,257.5 341.2,256.9 341.2,256.3 341.2,255.7 341.2,255.1 341.2,254.5 341.2,253.9 341.2,253.3 341.2,252.7 341.2,252.1 341.2,251.5 341.2,250.9 341.2,250.3 341.2,249.7 341.2,249.1 341.2,248.5 341.2,247.9 341.2,247.3 341.2,246.7 341.3,246.1 341.3,245.5 341.3,244.9 341.4,244.3 341.4,243.7 341.5,243.1 341.5,242.5 341.6,241.9 341.7,241.3 341.7,240.7 341.8,240.1 341.9,239.5 342.0,238.9 342.2,238.3 342.3,237.7 342.4,237.1 342.6,236.5 342.8,235.9 343.0,235.3 343.2,234.7 343.4,234.1 343.7,233.5 344.0,232.9 344.3,232.3 344.7,231.7 345.1,231.1 345.5,230.6 346.0,230.1 346.5,229.6 347.0,229.1 347.5,228.6 348.1,228.1 348.5,227.6 349.0,227.1 349.5,226.6 350.1,226.1 350.6,225.7 351.3,225.4 351.9,225.2 352.5,225.3 353.1,225.5 353.7,225.9 354.2,226.3 354.7,226.8 355.2,227.3 355.7,227.9 356.1,228.3 356.7,228.8 357.2,229.3 357.7,229.8 358.2,230.3 358.7,230.9 359.1,231.4 359.5,231.9 359.8,232.5 360.1,233.0 360.4,233.7 360.7,234.3 360.9,234.9 361.1,235.5 361.3,236.1 361.5,236.7 361.6,237.3 361.8,237.9 361.9,238.5 362.0,239.1 362.1,239.7 362.2,240.3 362.3,240.9 362.4,241.5 362.4,242.1 362.5,242.7 362.6,243.3 362.6,243.9 362.6,244.5 362.7,245.1 362.7,245.7 362.7,246.3 362.8,246.9 362.8,247.5 362.8,248.1 362.8,248.7 362.8,249.3 362.8,249.9 362.8,250.5 362.8,251.1 362.8,251.7 362.8,252.3 362.8,252.9 362.8,253.5 362.8,254.1 362.8,254.7 362.8,255.3 362.8,255.9 362.8,256.5 362.8,257.1 362.7,257.7 362.7,258.3 362.7,258.9 362.6,259.5 362.6,260.1" fill="none" stroke="rgb(81,81,81)" stroke-width="0.45"/>
<path d="M342.1,260.5 342.1,259.9 342.0,259.3 342.0,258.7 342.0,258.1 341.9,257.5 341.9,256.9 341.9,256.3 341.9,255.7 341.9,255.1 341.8,254.5 341.8,253.9 341.8,253.3 341.8,252.7 341.8,252.1 341.8,251.5 341.8,250.9 341.8,250.3 341.8,249.7 341.9,249.1 341.9,248.5 341.9,247.9 341.9,247.3 341.9,246.7 341.9,246.1 342.0,245.5 342.0,244.9 342.1,244.3 342.1,243.7 342.2,243.1 342.2,242.5 342.3,241.9 342.4,241.3 342.5,240.7 342.6,240.1 342.7,239.5 342.8,238.9 342.9,238.3 343.1,237.7 343.3,237.1 343.5,236.5 343.7,235.9 343.9,235.3 344.2,234.7 344.4,234.1 344.8,233.5 345.1,233.0 345.5,232.4 345.9,231.9 346.3,231.4 346.8,230.9 347.3,230.3 347.9,229.7 348.3,229.2 348.7,228.7 349.1,228.2 349.5,227.8 350.0,227.3 350.4,226.9 351.1,226.5 351.7,226.3 352.3,226.3 352.9,226.5 353.5,226.8 354.0,227.3 354.5,227.8 354.9,228.2 355.3,228.7 355.7,229.2 356.1,229.7 356.5,230.1 357.1,230.7 357.5,231.2 357.9,231.6 358.3,232.1 358.7,232.7 359.1,233.3 359.5,233.9 359.8,234.5 360.0,235.1 360.3,235.7 360.5,236.3 360.7,236.9 360.8,237.5 361.0,238.1 361.1,238.7 361.3,239.3 361.4,239.9 361.5,240.5 361.6,241.1 361.7,241.7 361.8,242.3 361.8,242.9 361.9,243.5 361.9,244.1 362.0,244.7 362.0,245.3 362.0,245.9 362.1,246.5 362.1,247.1 362.1,247.7 362.1,248.3 362.1,248.9 362.2,249.5 362.2,250.1 362.2,250.7 362.2,251.3 362.2,251.9 362.2,252.5 362.2,253.1 362.2,253.7 362.2,254.3 362.1,254.9 362.1,255.5 362.1,256.1 362.1,256.7 362.1,257.3 362.1,257.9 362.0,258.5 362.0,259.1 361.9,259.7 361.9,260.3" fill="none" stroke="rgb(77,77,77)" stroke-width="0.45"/>
<path d="M342.9,260.5 342.8,259.9 342.8,259.3 342.7,258.7 342.7,258.1 342.7,257.5 342.7,256.9 342.6,256.3 342.6,255.7 342.6,255.1 342.6,254.5 342.6,253.9 342.6,253.3 342.6,252.7 342.6,252.1 342.6,251.5 342.6,250.9 342.6,250.3 342.6,249.7 342.6,249.1 342.6,248.5 342.6,247.9 342.6,247.3 342.7,246.7 342.7,246.1 342.7,245.5 342.8,244.9 342.8,244.3 342.9,243.7 343.0,243.1 343.0,242.5 343.1,241.9 343.2,241.3 343.3,240.7 343.4,240.1 343.6,239.5 343.7,238.9 343.9,238.3 344.1,237.7 344.3,237.1 344.5,236.5 344.7,235.9 345.0,235.3 345.4,234.7 345.7,234.2 346.1,233.6 346.5,233.0 346.9,232.5 347.3,232.0 347.7,231.5 348.1,230.9 348.5,230.4 348.9,229.8 349.3,229.3 349.7,228.8 350.2,228.3 350.6,227.9 351.3,227.5 351.9,227.4 352.5,227.4 353.1,227.7 353.6,228.1 354.1,228.6 354.5,229.1 354.9,229.6 355.3,230.1 355.7,230.7 356.1,231.2 356.5,231.7 356.9,232.2 357.3,232.8 357.7,233.3 358.1,233.8 358.5,234.5 358.9,235.1 359.2,235.7 359.4,236.3 359.7,236.9 359.9,237.5 360.1,238.1 360.2,238.7 360.4,239.3 360.5,239.9 360.7,240.5 360.8,241.1 360.9,241.7 360.9,242.3 361.0,242.9 361.1,243.5 361.2,244.1 361.2,244.7 361.3,245.3 361.3,245.9 361.3,246.5 361.3,247.1 361.4,247.7 361.4,248.3 361.4,248.9 361.4,249.5 361.4,250.1 361.4,250.7 361.4,251.3 361.4,251.9 361.4,252.5 361.4,253.1 361.4,253.7 361.4,254.3 361.4,254.9 361.4,255.5 361.4,256.1 361.4,256.7 361.3,257.3 361.3,257.9 361.3,258.5 361.2,259.1 361.2,259.7 361.1,260.3" fill="none" stroke="rgb(74,74,74)" stroke-width="0.45"/>
<path d="M343.8,260.5 343.8,259.9 343.7,259.3 343.6,258.7 343.6,258.1 343.6,257.5 343.5,256.9 343.5,256.3 343.5,255.7 343.5,255.1 343.5,254.5 343.4,253.9 343.4,253.3 343.4,252.7 343.4,252.1 343.4,251.5 343.4,250.9 343.4,250.3 343.4,249.7 343.5,249.1 343.5,248.5 343.5,247.9 343.5,247.3 343.5,246.7 343.6,246.1 343.6,245.5 343.7,244.9 343.7,244.3 343.8,243.7 343.9,243.1 344.0,242.5 344.1,241.9 344.2,241.3 344.3,240.7 344.5,240.1 344.6,239.5 344.8,238.9 345.0,238.3 345.2,237.7 345.5,237.1 345.8,236.5 346.1,235.9 346.5,235.3 346.8,234.7 347.2,234.1 347.6,233.5 347.9,233.0 348.3,232.3 348.7,231.7 349.0,231.1 349.5,230.5 349.9,229.9 350.3,229.4 350.9,228.9 351.5,228.6 352.1,228.5 352.7,228.7 353.3,229.1 353.8,229.5 354.3,230.1 354.7,230.7 355.1,231.3 355.5,231.9 355.8,232.5 356.2,233.1 356.5,233.6 356.9,234.3 357.3,234.9 357.7,235.5 358.0,236.1 358.3,236.7 358.6,237.3 358.8,237.9 359.1,238.5 359.3,239.1 359.4,239.7 359.6,240.3 359.7,240.9 359.9,241.5 360.0,242.1 360.1,242.7 360.2,243.3 360.2,243.9 360.3,244.5 360.3,245.1 360.4,245.7 360.4,246.3 360.5,246.9 360.5,247.5 360.5,248.1 360.5,248.7 360.5,249.3 360.6,249.9 360.6,250.5 360.6,251.1 360.6,251.7 360.6,252.3 360.6,252.9 360.6,253.5 360.6,254.1 360.5,254.7 360.5,255.3 360.5,255.9 360.5,256.5 360.5,257.1 360.4,257.7 360.4,258.3 360.3,258.9 360.3,259.5 360.2,260.1" fill="none" stroke="rgb(70,70,70)" stroke-width="0.45"/>
<path d="M345.0,260.5 344.9,259.9 344.8,259.3 344.7,258.7 344.7,258.1 344.6,257.5 344.6,256.9 344.5,256.3 344.5,255.7 344.5,255.1 344.5,254.5 344.5,253.9 344.5,253.3 344.5,252.7 344.5,252.1 344.5,251.5 344.5,250.9 344.5,250.3 344.5,249.7 344.5,249.1 344.5,248.5 344.5,247.9 344.6,247.3 344.6,246.7 344.6,246.1 344.7,245.5 344.8,244.9 344.8,244.3 344.9,243.7 345.0,243.1 345.1,242.5 345.3,241.9 345.4,241.3 345.6,240.7 345.7,240.1 345.9,239.5 346.2,238.9 346.4,238.3 346.7,237.7 346.9,237.1 347.2,236.5 347.5,235.9 347.8,235.3 348.1,234.7 348.4,234.1 348.7,233.5 349.0,232.9 349.3,232.3 349.7,231.7 350.1,231.1 350.5,230.6 351.1,230.1 351.7,229.8 352.5,229.9 353.1,230.2 353.6,230.7 354.1,231.3 354.5,231.9 354.8,232.5 355.1,233.1 355.4,233.7 355.7,234.3 356.0,234.9 356.3,235.5 356.6,236.1 356.9,236.7 357.2,237.3 357.4,237.9 357.7,238.5 357.9,239.1 358.1,239.7 358.3,240.3 358.5,240.9 358.7,241.5 358.8,242.1 358.9,242.7 359.0,243.3 359.1,243.9 359.2,244.5 359.3,245.1 359.3,245.7 359.4,246.3 359.4,246.9 359.4,247.5 359.5,248.1 359.5,248.7 359.5,249.3 359.5,249.9 359.5,250.5 359.5,251.1 359.5,251.7 359.5,252.3 359.5,252.9 359.5,253.5 359.5,254.1 359.5,254.7 359.5,255.3 359.5,255.9 359.4,256.5 359.4,257.1 359.4,257.7 359.3,258.3 359.3,258.9 359.2,259.5 359.1,260.1" fill="none" stroke="rgb(67,67,67)" stroke-width="0.45"/>
<path d="M346.5,260.5 346.4,259.9 346.2,259.3 346.1,258.7 346.1,258.1 346.0,257.5 345.9,256.9 345.9,256.3 345.9,255.7 345.8,255.1 345.8,254.5 345.8,253.9 345.8,253.3 345.8,252.7 345.8,252.1 345.8,251.5 345.8,250.9 345.8,250.3 345.8,249.7 345.8,249.1 345.8,248.5 345.8,247.9 345.9,247.3 345.9,246.7 346.0,246.1 346.0,245.5 346.1,244.9 346.2,244.3 346.3,243.7 346.4,243.1 346.5,242.5 346.6,241.9 346.8,241.3 347.0,240.7 347.1,240.1 347.3,239.5 347.5,238.9 347.7,238.3 347.9,237.7 348.1,237.1 348.3,236.5 348.5,235.9 348.8,235.3 349.0,234.7 349.3,234.1 349.6,233.5 349.9,232.9 350.3,232.3 350.7,231.8 351.3,231.3 351.9,231.2 352.5,231.3 353.1,231.6 353.5,232.1 353.9,232.6 354.3,233.3 354.6,233.9 354.9,234.5 355.2,235.1 355.4,235.7 355.6,236.3 355.8,236.9 356.1,237.5 356.3,238.1 356.5,238.7 356.6,239.3 356.8,239.9 357.0,240.5 357.2,241.1 357.3,241.7 357.4,242.3 357.6,242.9 357.7,243.5 357.8,244.1 357.9,244.7 358.0,245.3 358.0,245.9 358.1,246.5 358.1,247.1 358.2,247.7 358.2,248.3 358.2,248.9 358.2,249.5 358.2,250.1 358.2,250.7 358.2,251.3 358.2,251.9 358.2,252.5 358.2,253.1 358.2,253.7 358.2,254.3 358.2,254.9 358.1,255.5 358.1,256.1 358.1,256.7 358.0,257.3 358.0,257.9 357.9,258.5 357.8,259.1 357.7,259.7 357.6,260.3" fill="none" stroke="rgb(63,63,63)" stroke-width="0.45"/>
<path d="M348.5,260.5 348.3,259.9 348.1,259.3 348.0,258.7 347.8,258.1 347.7,257.5 347.6,256.9 347.6,256.3 347.5,255.7 347.4,255.1 347.4,254.5 347.3,253.9 347.3,253.3 347.3,252.7 347.3,252.1 347.2,251.5 347.2,250.9 347.2,250.3 347.2,249.7 347.2,249.1 347.2,248.5 347.2,247.9 347.2,247.3 347.3,246.7 347.3,246.1 347.3,245.5 347.4,244.9 347.5,244.3 347.5,243.7 347.6,243.1 347.7,242.5 347.8,241.9 347.9,241.3 348.0,240.7 348.2,240.1 348.3,239.5 348.5,238.9 348.6,238.3 348.8,237.7 349.0,237.1 349.2,236.5 349.4,235.9 349.6,235.3 349.9,234.8 350.3,234.1 350.7,233.5 351.1,233.0 351.7,232.7 352.3,232.7 352.9,233.0 353.3,233.5 353.7,234.0 354.1,234.7 354.4,235.3 354.6,235.9 354.8,236.5 355.0,237.1 355.2,237.7 355.4,238.3 355.5,238.9 355.7,239.5 355.8,240.1 356.0,240.7 356.1,241.3 356.2,241.9 356.3,242.5 356.4,243.1 356.5,243.7 356.5,244.3 356.6,244.9 356.7,245.5 356.7,246.1 356.7,246.7 356.8,247.3 356.8,247.9 356.8,248.5 356.8,249.1 356.8,249.7 356.8,250.3 356.8,250.9 356.8,251.5 356.7,252.1 356.7,252.7 356.7,253.3 356.7,253.9 356.6,254.5 356.6,255.1 356.5,255.7 356.4,256.3 356.4,256.9 356.3,257.5 356.2,258.1 356.0,258.7 355.9,259.3 355.7,259.9 355.5,260.5" fill="none" stroke="rgb(60,60,60)" stroke-width="0.45"/>
<path d="M350.0,260.5 349.7,259.9 349.4,259.3 349.2,258.7 349.0,258.1 348.9,257.5 348.8,256.9 348.6,256.3 348.6,255.7 348.5,255.1 348.4,254.5 348.3,253.9 348.3,253.3 348.2,252.7 348.2,252.1 348.1,251.5 348.1,250.9 348.1,250.3 348.1,249.7 348.0,249.1 348.0,248.5 348.0,247.9 348.0,247.3 348.1,246.7 348.1,246.1 348.1,245.5 348.2,244.9 348.2,244.3 348.3,243.7 348.3,243.1 348.4,242.5 348.5,241.9 348.6,241.3 348.7,240.7 348.8,240.1 348.9,239.5 349.1,238.9 349.2,238.3 349.4,237.7 349.6,237.1 349.8,236.5 350.1,235.9 350.4,235.3 350.8,234.7 351.3,234.2 351.9,233.9 352.5,234.0 353.1,234.5 353.5,235.1 353.8,235.7 354.1,236.3 354.3,236.9 354.5,237.5 354.7,238.1 354.9,238.7 355.0,239.3 355.1,239.9 355.3,240.5 355.4,241.1 355.5,241.7 355.6,242.3 355.6,242.9 355.7,243.5 355.8,244.1 355.8,244.7 355.9,245.3 355.9,245.9 355.9,246.5 356.0,247.1 356.0,247.7 356.0,248.3 356.0,248.9 356.0,249.5 355.9,250.1 355.9,250.7 355.9,251.3 355.8,251.9 355.8,252.5 355.7,253.1 355.7,253.7 355.6,254.3 355.6,254.9 355.5,255.5 355.4,256.1 355.3,256.7 355.2,257.3 355.0,257.9 354.8,258.5 354.6,259.1 354.4,259.7 354.1,260.3" fill="none" stroke="rgb(56,56,56)" stroke-width="0.45"/>
<path d="M351.2,260.5 350.7,260.0 350.3,259.3 350.0,258.7 349.8,258.1 349.6,257.5 349.4,256.9 349.3,256.3 349.1,255.7 349.0,255.1 348.9,254.5 348.9,253.9 348.8,253.3 348.7,252.7 348.7,252.1 348.6,251.5 348.6,250.9 348.5,250.3 348.5,249.7 348.5,249.1 348.5,248.5 348.5,247.9 348.5,247.3 348.5,246.7 348.5,246.1 348.5,245.5 348.6,244.9 348.6,244.3 348.7,243.7 348.7,243.1 348.8,242.5 348.9,241.9 349.0,241.3 349.1,240.7 349.2,240.1 349.3,239.5 349.5,238.9 349.7,238.3 349.8,237.7 350.1,237.1 350.3,236.5 350.6,235.9 351.1,235.3 351.6,234.9 352.3,234.8 352.9,235.3 353.3,235.8 353.7,236.5 353.9,237.1 354.2,237.7 354.3,238.3 354.5,238.9 354.7,239.5 354.8,240.1 354.9,240.7 355.0,241.3 355.1,241.9 355.2,242.5 355.3,243.1 355.3,243.7 355.4,244.3 355.4,244.9 355.5,245.5 355.5,246.1 355.5,246.7 355.5,247.3 355.5,247.9 355.5,248.5 355.5,249.1 355.5,249.7 355.5,250.3 355.4,250.9 355.4,251.5 355.3,252.1 355.3,252.7 355.2,253.3 355.1,253.9 355.1,254.5 355.0,255.1 354.9,255.7 354.7,256.3 354.6,256.9 354.4,257.5 354.2,258.1 354.0,258.7 353.7,259.3 353.3,259.9 352.9,260.4" fill="none" stroke="rgb(53,53,53)" stroke-width="0.45"/>
<path d="M352.5,259.3 351.9,259.5 351.3,259.2 350.8,258.7 350.5,258.1 350.2,257.5 350.0,256.9 349.8,256.3 349.7,255.7 349.5,255.1 349.4,254.5 349.3,253.9 349.2,253.3 349.1,252.7 349.1,252.1 349.0,251.5 349.0,250.9 348.9,250.3 348.9,249.7 348.9,249.1 348.8,248.5 348.8,247.9 348.8,247.3 348.8,246.7 348.8,246.1 348.9,245.5 348.9,244.9 348.9,244.3 349.0,243.7 349.1,243.1 349.1,242.5 349.2,241.9 349.3,241.3 349.4,240.7 349.5,240.1 349.7,239.5 349.8,238.9 350.0,238.3 350.2,237.7 350.5,237.1 350.8,236.5 351.3,235.9 351.9,235.6 352.5,235.8 353.0,236.3 353.4,236.9 353.7,237.5 353.9,238.1 354.1,238.7 354.3,239.3 354.4,239.9 354.5,240.5 354.7,241.1 354.8,241.7 354.8,242.3 354.9,242.9 355.0,243.5 355.0,244.1 355.1,244.7 355.1,245.3 355.1,245.9 355.2,246.5 355.2,247.1 355.2,247.7 355.2,248.3 355.1,248.9 355.1,249.5 355.1,250.1 355.0,250.7 355.0,251.3 354.9,251.9 354.9,252.5 354.8,253.1 354.7,253.7 354.6,254.3 354.5,254.9 354.4,255.5 354.2,256.1 354.1,256.7 353.9,257.3 353.6,257.9 353.3,258.5 352.9,259.0 Z" fill="none" stroke="rgb(49,49,49)" stroke-width="0.45"/>
<path d="M352.5,258.1 351.9,258.3 351.3,258.0 350.9,257.5 350.6,256.9 350.3,256.3 350.1,255.7 350.0,255.1 349.8,254.5 349.7,253.9 349.6,253.3 349.5,252.7 349.4,252.1 349.4,251.5 349.3,250.9 349.3,250.3 349.2,249.7 349.2,249.1 349.2,248.5 349.1,247.9 349.1,247.3 349.1,246.7 349.1,246.1 349.2,245.5 349.2,244.9 349.2,244.3 349.3,243.7 349.4,243.1 349.4,242.5 349.5,241.9 349.6,241.3 349.7,240.7 349.9,240.1 350.0,239.5 350.2,238.9 350.4,238.3 350.7,237.7 351.0,237.1 351.5,236.6 352.1,236.4 352.7,236.8 353.1,237.3 353.4,237.9 353.7,238.5 353.9,239.1 354.0,239.7 354.2,240.3 354.3,240.9 354.4,241.5 354.5,242.1 354.6,242.7 354.7,243.3 354.7,243.9 354.8,244.5 354.8,245.1 354.8,245.7 354.9,246.3 354.9,246.9 354.9,247.5 354.9,248.1 354.8,248.7 354.8,249.3 354.8,249.9 354.7,250.5 354.7,251.1 354.6,251.7 354.5,252.3 354.5,252.9 354.4,253.5 354.3,254.1 354.1,254.7 354.0,255.3 353.8,255.9 353.6,256.5 353.3,257.1 353.0,257.7 352.5,258.1 Z" fill="none" stroke="rgb(46,46,46)" stroke-width="0.45"/>
<path d="M352.3,257.1 351.6,257.1 351.2,256.7 350.8,256.1 350.6,255.5 350.4,254.9 350.2,254.3 350.0,253.7 349.9,253.1 349.8,252.5 349.7,251.9 349.7,251.3 349.6,250.7 349.5,250.1 349.5,249.5 349.5,248.9 349.4,248.3 349.4,247.7 349.4,247.1 349.4,246.5 349.4,245.9 349.4,245.3 349.5,244.7 349.5,244.1 349.6,243.5 349.7,242.9 349.7,242.3 349.8,241.7 349.9,241.1 350.1,240.5 350.2,239.9 350.4,239.3 350.6,238.7 350.9,238.2 351.3,237.6 351.9,237.2 352.5,237.4 352.9,237.9 353.3,238.5 353.5,239.1 353.7,239.7 353.9,240.3 354.0,240.9 354.1,241.5 354.2,242.1 354.3,242.7 354.4,243.3 354.5,243.9 354.5,244.5 354.5,245.1 354.6,245.7 354.6,246.3 354.6,246.9 354.6,247.5 354.6,248.1 354.6,248.7 354.5,249.3 354.5,249.9 354.4,250.5 354.4,251.1 354.3,251.7 354.2,252.3 354.1,252.9 354.0,253.5 353.9,254.1 353.7,254.7 353.5,255.3 353.3,255.9 353.0,256.5 352.5,257.0 Z" fill="none" stroke="rgb(42,42,42)" stroke-width="0.45"/>
<path d="M352.1,256.2 351.5,255.9 351.1,255.5 350.8,254.9 350.6,254.3 350.4,253.7 350.3,253.1 350.1,252.5 350.0,251.9 349.9,251.3 349.9,250.7 349.8,250.1 349.8,249.5 349.7,248.9 349.7,248.3 349.7,247.7 349.7,247.1 349.7,246.5 349.7,245.9 349.7,245.3 349.7,244.7 349.8,244.1 349.8,243.5 349.9,242.9 350.0,242.3 350.1,241.7 350.2,241.1 350.4,240.5 350.6,239.9 350.8,239.3 351.1,238.7 351.5,238.2 352.1,238.0 352.6,238.3 353.0,238.9 353.3,239.5 353.5,240.1 353.7,240.7 353.8,241.3 353.9,241.9 354.0,242.5 354.1,243.1 354.2,243.7 354.2,244.3 354.3,244.9 354.3,245.5 354.3,246.1 354.3,246.7 354.3,247.3 354.3,247.9 354.3,248.5 354.3,249.1 354.2,249.7 354.2,250.3 354.1,250.9 354.0,251.5 353.9,252.1 353.8,252.7 353.7,253.3 353.5,253.9 353.3,254.5 353.1,255.1 352.7,255.7 352.3,256.1 Z" fill="none" stroke="rgb(39,39,39)" stroke-width="0.45"/>
<path d="M352.1,255.1 351.5,254.9 351.1,254.3 350.8,253.7 350.6,253.1 350.5,252.5 350.3,251.9 350.2,251.3 350.2,250.7 350.1,250.1 350.0,249.5 350.0,248.9 349.9,248.3 349.9,247.7 349.9,247.1 349.9,246.5 349.9,245.9 349.9,245.3 350.0,244.7 350.0,244.1 350.1,243.5 350.2,242.9 350.3,242.3 350.4,241.7 350.5,241.1 350.7,240.5 350.9,239.9 351.2,239.3 351.7,238.8 352.4,238.9 352.9,239.5 353.2,240.1 353.4,240.7 353.5,241.3 353.7,241.9 353.8,242.5 353.9,243.1 353.9,243.7 354.0,244.3 354.0,244.9 354.1,245.5 354.1,246.1 354.1,246.7 354.1,247.3 354.1,247.9 354.1,248.5 354.0,249.1 354.0,249.7 353.9,250.3 353.8,250.9 353.7,251.5 353.6,252.1 353.5,252.7 353.3,253.3 353.1,253.9 352.8,254.5 352.3,255.1 Z" fill="none" stroke="rgb(35,35,35)" stroke-width="0.45"/>
<path d="M352.1,254.1 351.5,253.9 351.1,253.3 350.9,252.7 350.7,252.1 350.6,251.5 350.5,250.9 350.4,250.3 350.3,249.7 350.2,249.1 350.2,248.5 350.2,247.9 350.1,247.3 350.1,246.7 350.1,246.1 350.2,245.5 350.2,244.9 350.2,244.3 350.3,243.7 350.4,243.1 350.5,242.5 350.6,241.9 350.8,241.3 351.0,240.7 351.3,240.1 351.7,239.6 352.4,239.7 352.8,240.3 353.1,240.9 353.3,241.5 353.4,242.1 353.5,242.7 353.6,243.3 353.7,243.9 353.8,244.5 353.8,245.1 353.8,245.7 353.9,246.3 353.9,246.9 353.9,247.5 353.8,248.1 353.8,248.7 353.7,249.3 353.7,249.9 353.6,250.5 353.5,251.1 353.4,251.7 353.2,252.3 353.0,252.9 352.7,253.5 352.3,254.0 Z" fill="none" stroke="rgb(32,32,32)" stroke-width="0.45"/>
<path d="M352.1,253.1 351.5,252.8 351.1,252.1 350.9,251.5 350.8,250.9 350.7,250.3 350.6,249.7 350.5,249.1 350.4,248.5 350.4,247.9 350.4,247.3 350.4,246.7 350.4,246.1 350.4,245.5 350.4,244.9 350.5,244.3 350.6,243.7 350.7,243.1 350.8,242.5 350.9,241.9 351.2,241.3 351.5,240.7 352.1,240.4 352.6,240.9 352.9,241.5 353.1,242.1 353.3,242.7 353.4,243.3 353.5,243.9 353.5,244.5 353.6,245.1 353.6,245.7 353.6,246.3 353.6,246.9 353.6,247.5 353.6,248.1 353.5,248.7 353.5,249.3 353.4,249.9 353.3,250.5 353.2,251.1 353.0,251.7 352.8,252.3 352.4,252.9 Z" fill="none" stroke="rgb(28,28,28)" stroke-width="0.45"/>
<path d="M352.3,251.9 351.7,251.9 351.3,251.3 351.1,250.7 351.0,250.1 350.8,249.5 350.8,248.9 350.7,248.3 350.7,247.7 350.6,247.1 350.6,246.5 350.6,245.9 350.7,245.3 350.7,244.7 350.8,244.1 350.9,243.5 351.0,242.9 351.2,242.3 351.5,241.7 351.9,241.3 352.5,241.6 352.8,242.3 353.0,242.9 353.1,243.5 353.2,244.1 353.3,244.7 353.3,245.3 353.4,245.9 353.4,246.5 353.4,247.1 353.3,247.7 353.3,248.3 353.2,248.9 353.2,249.5 353.0,250.1 352.9,250.7 352.7,251.3 352.3,251.9 Z" fill="none" stroke="rgb(25,25,25)" stroke-width="0.45"/>
<path d="M349.00,257.60 A3.00,1.80 0 0 1 355.00,257.60 Z" fill="#fff" stroke="#000" stroke-width="1.2"/>
</g>
<line x1="334.20" y1="166.90" x2="334.20" y2="257.70" stroke="#888" stroke-width="1.0"/>
<line x1="298.90" y1="224.80" x2="389.80" y2="224.80" stroke="#888" stroke-width="1.0"/>
<rect x="298.9" y="166.9" width="90.90000000000003" height="90.79999999999998" fill="none" stroke="#111" stroke-width="1.1"/>
<line x1="298.90" y1="166.90" x2="298.90" y2="258.30" stroke="#000" stroke-width="1.35"/>
<line x1="298.30" y1="257.70" x2="389.80" y2="257.70" stroke="#000" stroke-width="1.35"/>
<line x1="296.10" y1="167.20" x2="298.90" y2="167.20" stroke="#000" stroke-width="1.0"/>
<text x="283.40" y="170.30" font-size="8.6" font-weight="normal" text-anchor="start" fill="#111" textLength="7.60" lengthAdjust="spacingAndGlyphs" stroke="#111" stroke-width="0.22">10</text>
<text x="291.30" y="167.40" font-size="5.6" font-weight="normal" text-anchor="start" fill="#111" textLength="3.10" lengthAdjust="spacingAndGlyphs" stroke="#111" stroke-width="0.22">3</text>
<line x1="296.90" y1="188.03" x2="298.90" y2="188.03" stroke="#000" stroke-width="0.8"/>
<line x1="296.90" y1="182.78" x2="298.90" y2="182.78" stroke="#000" stroke-width="0.8"/>
<line x1="296.90" y1="179.06" x2="298.90" y2="179.06" stroke="#000" stroke-width="0.8"/>
<line x1="296.90" y1="176.17" x2="298.90" y2="176.17" stroke="#000" stroke-width="0.8"/>
<line x1="296.90" y1="173.81" x2="298.90" y2="173.81" stroke="#000" stroke-width="0.8"/>
<line x1="296.90" y1="171.82" x2="298.90" y2="171.82" stroke="#000" stroke-width="0.8"/>
<line x1="296.90" y1="170.09" x2="298.90" y2="170.09" stroke="#000" stroke-width="0.8"/>
<line x1="296.90" y1="168.56" x2="298.90" y2="168.56" stroke="#000" stroke-width="0.8"/>
<line x1="296.10" y1="197.00" x2="298.90" y2="197.00" stroke="#000" stroke-width="1.0"/>
<text x="283.40" y="200.30" font-size="8.6" font-weight="normal" text-anchor="start" fill="#111" textLength="7.60" lengthAdjust="spacingAndGlyphs" stroke="#111" stroke-width="0.22">10</text>
<text x="291.30" y="197.40" font-size="5.6" font-weight="normal" text-anchor="start" fill="#111" textLength="3.10" lengthAdjust="spacingAndGlyphs" stroke="#111" stroke-width="0.22">2</text>
<line x1="296.90" y1="218.04" x2="298.90" y2="218.04" stroke="#000" stroke-width="0.8"/>
<line x1="296.90" y1="212.74" x2="298.90" y2="212.74" stroke="#000" stroke-width="0.8"/>
<line x1="296.90" y1="208.98" x2="298.90" y2="208.98" stroke="#000" stroke-width="0.8"/>
<line x1="296.90" y1="206.06" x2="298.90" y2="206.06" stroke="#000" stroke-width="0.8"/>
<line x1="296.90" y1="203.68" x2="298.90" y2="203.68" stroke="#000" stroke-width="0.8"/>
<line x1="296.90" y1="201.66" x2="298.90" y2="201.66" stroke="#000" stroke-width="0.8"/>
<line x1="296.90" y1="199.92" x2="298.90" y2="199.92" stroke="#000" stroke-width="0.8"/>
<line x1="296.90" y1="198.38" x2="298.90" y2="198.38" stroke="#000" stroke-width="0.8"/>
<line x1="296.10" y1="227.10" x2="298.90" y2="227.10" stroke="#000" stroke-width="1.0"/>
<text x="283.40" y="231.40" font-size="8.6" font-weight="normal" text-anchor="start" fill="#111" textLength="7.60" lengthAdjust="spacingAndGlyphs" stroke="#111" stroke-width="0.22">10</text>
<text x="291.30" y="228.50" font-size="5.6" font-weight="normal" text-anchor="start" fill="#111" textLength="3.10" lengthAdjust="spacingAndGlyphs" stroke="#111" stroke-width="0.22">1</text>
<line x1="296.90" y1="248.28" x2="298.90" y2="248.28" stroke="#000" stroke-width="0.8"/>
<line x1="296.90" y1="242.94" x2="298.90" y2="242.94" stroke="#000" stroke-width="0.8"/>
<line x1="296.90" y1="239.16" x2="298.90" y2="239.16" stroke="#000" stroke-width="0.8"/>
<line x1="296.90" y1="236.22" x2="298.90" y2="236.22" stroke="#000" stroke-width="0.8"/>
<line x1="296.90" y1="233.82" x2="298.90" y2="233.82" stroke="#000" stroke-width="0.8"/>
<line x1="296.90" y1="231.79" x2="298.90" y2="231.79" stroke="#000" stroke-width="0.8"/>
<line x1="296.90" y1="230.04" x2="298.90" y2="230.04" stroke="#000" stroke-width="0.8"/>
<line x1="296.90" y1="228.49" x2="298.90" y2="228.49" stroke="#000" stroke-width="0.8"/>
<line x1="296.10" y1="257.40" x2="298.90" y2="257.40" stroke="#000" stroke-width="1.0"/>
<text x="283.40" y="261.10" font-size="8.6" font-weight="normal" text-anchor="start" fill="#111" textLength="7.60" lengthAdjust="spacingAndGlyphs" stroke="#111" stroke-width="0.22">10</text>
<text x="291.30" y="258.20" font-size="5.6" font-weight="normal" text-anchor="start" fill="#111" textLength="3.10" lengthAdjust="spacingAndGlyphs" stroke="#111" stroke-width="0.22">0</text>
<line x1="298.90" y1="257.70" x2="298.90" y2="260.50" stroke="#000" stroke-width="1.0"/>
<text x="293.90" y="270.50" font-size="8.6" font-weight="normal" text-anchor="start" fill="#111" textLength="7.60" lengthAdjust="spacingAndGlyphs" stroke="#111" stroke-width="0.22">10</text>
<text x="301.80" y="267.60" font-size="5.6" font-weight="normal" text-anchor="start" fill="#111" textLength="3.10" lengthAdjust="spacingAndGlyphs" stroke="#111" stroke-width="0.22">0</text>
<line x1="305.76" y1="257.70" x2="305.76" y2="259.70" stroke="#000" stroke-width="0.8"/>
<line x1="309.78" y1="257.70" x2="309.78" y2="259.70" stroke="#000" stroke-width="0.8"/>
<line x1="312.63" y1="257.70" x2="312.63" y2="259.70" stroke="#000" stroke-width="0.8"/>
<line x1="314.84" y1="257.70" x2="314.84" y2="259.70" stroke="#000" stroke-width="0.8"/>
<line x1="316.64" y1="257.70" x2="316.64" y2="259.70" stroke="#000" stroke-width="0.8"/>
<line x1="318.17" y1="257.70" x2="318.17" y2="259.70" stroke="#000" stroke-width="0.8"/>
<line x1="319.49" y1="257.70" x2="319.49" y2="259.70" stroke="#000" stroke-width="0.8"/>
<line x1="320.66" y1="257.70" x2="320.66" y2="259.70" stroke="#000" stroke-width="0.8"/>
<line x1="321.70" y1="257.70" x2="321.70" y2="260.50" stroke="#000" stroke-width="1.0"/>
<text x="316.10" y="270.50" font-size="8.6" font-weight="normal" text-anchor="start" fill="#111" textLength="7.60" lengthAdjust="spacingAndGlyphs" stroke="#111" stroke-width="0.22">10</text>
<text x="324.00" y="267.60" font-size="5.6" font-weight="normal" text-anchor="start" fill="#111" textLength="3.10" lengthAdjust="spacingAndGlyphs" stroke="#111" stroke-width="0.22">1</text>
<line x1="328.56" y1="257.70" x2="328.56" y2="259.70" stroke="#000" stroke-width="0.8"/>
<line x1="332.58" y1="257.70" x2="332.58" y2="259.70" stroke="#000" stroke-width="0.8"/>
<line x1="335.43" y1="257.70" x2="335.43" y2="259.70" stroke="#000" stroke-width="0.8"/>
<line x1="337.64" y1="257.70" x2="337.64" y2="259.70" stroke="#000" stroke-width="0.8"/>
<line x1="339.44" y1="257.70" x2="339.44" y2="259.70" stroke="#000" stroke-width="0.8"/>
<line x1="340.97" y1="257.70" x2="340.97" y2="259.70" stroke="#000" stroke-width="0.8"/>
<line x1="342.29" y1="257.70" x2="342.29" y2="259.70" stroke="#000" stroke-width="0.8"/>
<line x1="343.46" y1="257.70" x2="343.46" y2="259.70" stroke="#000" stroke-width="0.8"/>
<line x1="344.50" y1="257.70" x2="344.50" y2="260.50" stroke="#000" stroke-width="1.0"/>
<text x="339.80" y="270.50" font-size="8.6" font-weight="normal" text-anchor="start" fill="#111" textLength="7.60" lengthAdjust="spacingAndGlyphs" stroke="#111" stroke-width="0.22">10</text>
<text x="347.70" y="267.60" font-size="5.6" font-weight="normal" text-anchor="start" fill="#111" textLength="3.10" lengthAdjust="spacingAndGlyphs" stroke="#111" stroke-width="0.22">2</text>
<line x1="351.27" y1="257.70" x2="351.27" y2="259.70" stroke="#000" stroke-width="0.8"/>
<line x1="355.24" y1="257.70" x2="355.24" y2="259.70" stroke="#000" stroke-width="0.8"/>
<line x1="358.05" y1="257.70" x2="358.05" y2="259.70" stroke="#000" stroke-width="0.8"/>
<line x1="360.23" y1="257.70" x2="360.23" y2="259.70" stroke="#000" stroke-width="0.8"/>
<line x1="362.01" y1="257.70" x2="362.01" y2="259.70" stroke="#000" stroke-width="0.8"/>
<line x1="363.51" y1="257.70" x2="363.51" y2="259.70" stroke="#000" stroke-width="0.8"/>
<line x1="364.82" y1="257.70" x2="364.82" y2="259.70" stroke="#000" stroke-width="0.8"/>
<line x1="365.97" y1="257.70" x2="365.97" y2="259.70" stroke="#000" stroke-width="0.8"/>
<line x1="367.00" y1="257.70" x2="367.00" y2="260.50" stroke="#000" stroke-width="1.0"/>
<text x="361.60" y="270.50" font-size="8.6" font-weight="normal" text-anchor="start" fill="#111" textLength="7.60" lengthAdjust="spacingAndGlyphs" stroke="#111" stroke-width="0.22">10</text>
<text x="369.50" y="267.60" font-size="5.6" font-weight="normal" text-anchor="start" fill="#111" textLength="3.10" lengthAdjust="spacingAndGlyphs" stroke="#111" stroke-width="0.22">3</text>
<line x1="373.68" y1="257.70" x2="373.68" y2="259.70" stroke="#000" stroke-width="0.8"/>
<line x1="377.59" y1="257.70" x2="377.59" y2="259.70" stroke="#000" stroke-width="0.8"/>
<line x1="380.37" y1="257.70" x2="380.37" y2="259.70" stroke="#000" stroke-width="0.8"/>
<line x1="382.52" y1="257.70" x2="382.52" y2="259.70" stroke="#000" stroke-width="0.8"/>
<line x1="384.27" y1="257.70" x2="384.27" y2="259.70" stroke="#000" stroke-width="0.8"/>
<line x1="385.76" y1="257.70" x2="385.76" y2="259.70" stroke="#000" stroke-width="0.8"/>
<line x1="387.05" y1="257.70" x2="387.05" y2="259.70" stroke="#000" stroke-width="0.8"/>
<line x1="388.18" y1="257.70" x2="388.18" y2="259.70" stroke="#000" stroke-width="0.8"/>
<line x1="389.20" y1="257.70" x2="389.20" y2="260.50" stroke="#000" stroke-width="1.0"/>
<text x="383.40" y="270.50" font-size="8.6" font-weight="normal" text-anchor="start" fill="#111" textLength="7.60" lengthAdjust="spacingAndGlyphs" stroke="#111" stroke-width="0.22">10</text>
<text x="391.30" y="267.60" font-size="5.6" font-weight="normal" text-anchor="start" fill="#111" textLength="3.10" lengthAdjust="spacingAndGlyphs" stroke="#111" stroke-width="0.22">4</text>
<text x="301.10" y="179.40" font-size="7.9" font-weight="bold" text-anchor="start" fill="#111" textLength="27.90" lengthAdjust="spacingAndGlyphs" stroke="#111" stroke-width="0.12">39.30%</text>
<rect x="351.80" y="220.00" width="28.40" height="6.60" fill="#fff"/>
<text x="352.10" y="225.90" font-size="7.9" font-weight="bold" text-anchor="start" fill="#111" textLength="27.80" lengthAdjust="spacingAndGlyphs" stroke="#111" stroke-width="0.12">54.10%</text>
<text x="332.60" y="164.00" font-size="9.8" font-weight="bold" text-anchor="start" fill="#111" textLength="12.50" lengthAdjust="spacingAndGlyphs" stroke="#111" stroke-width="0.3">A2</text>
<text x="345.30" y="160.10" font-size="6.4" font-weight="bold" text-anchor="start" fill="#222" textLength="11.00" lengthAdjust="spacingAndGlyphs">fl/fl</text>
<clipPath id="clip3"><rect x="415.4" y="166.9" width="91.10000000000002" height="90.79999999999998"/></clipPath>
<g clip-path="url(#clip3)">
<path d="M412.4,198.4 412.7,197.7 413.1,197.1 413.4,196.6 413.8,196.0 414.2,195.5 414.6,195.1 415.2,194.6 415.8,194.2 416.4,193.8 417.0,193.5 417.6,193.3 418.2,193.2 418.8,193.1 419.4,193.1 420.0,193.1 420.6,193.1 421.2,193.1 421.8,193.1 422.4,193.1 423.0,193.1 423.6,193.1 424.2,193.0 424.8,193.0 425.4,192.9 426.0,192.8 426.6,192.8 427.2,192.7 427.8,192.7 428.4,192.6 429.0,192.6 429.6,192.6 430.2,192.6 430.8,192.6 431.4,192.6 432.0,192.7 432.6,192.7 433.2,192.8 433.8,192.9 434.4,193.1 435.0,193.2 435.6,193.4 436.2,193.6 436.8,193.9 437.4,194.2 438.0,194.5 438.6,194.9 439.2,195.3 439.7,195.7 440.2,196.1 440.7,196.5 441.2,197.0 441.6,197.5 442.2,198.1 442.6,198.7 443.0,199.2 443.3,199.7 443.7,200.3 444.0,200.8 444.3,201.5 444.5,202.1 444.7,202.7 444.8,203.3 444.9,203.9 445.0,204.5 445.0,205.1 444.9,205.7 444.9,206.3 444.8,206.9 444.7,207.5 444.6,208.1 444.5,208.7 444.4,209.3 444.3,209.9 444.2,210.5 444.0,211.1 443.9,211.7 443.7,212.3 443.5,212.9 443.2,213.5 442.9,214.1 442.6,214.7 442.3,215.3 441.9,215.9 441.4,216.5 441.0,217.0 440.5,217.5 440.0,218.0 439.4,218.5 438.9,218.9 438.3,219.3 437.6,219.7 437.0,220.0 436.4,220.3 435.8,220.5 435.2,220.7 434.6,220.9 434.0,221.0 433.4,221.1 432.8,221.2 432.2,221.3 431.6,221.4 431.0,221.4 430.4,221.4 429.8,221.4 429.2,221.4 428.6,221.4 428.0,221.3 427.4,221.3 426.8,221.2 426.2,221.1 425.6,221.0 425.0,220.9 424.4,220.8 423.8,220.6 423.2,220.5 422.6,220.4 422.0,220.3 421.4,220.1 420.8,220.0 420.2,219.9 419.6,219.8 419.0,219.7 418.4,219.5 417.8,219.3 417.2,219.1 416.6,218.8 416.0,218.4 415.4,217.9 414.9,217.5 414.4,217.0 414.0,216.5 413.6,216.0 413.3,215.5 412.9,214.9 412.6,214.3" fill="none" stroke="rgb(90,90,90)" stroke-width="0.42"/>
<path d="M412.4,200.7 412.6,200.1 412.8,199.5 413.1,198.9 413.4,198.4 413.8,197.7 414.2,197.1 414.6,196.6 415.1,196.1 415.6,195.7 416.1,195.3 416.8,194.9 417.4,194.7 418.0,194.5 418.6,194.4 419.2,194.3 419.8,194.3 420.4,194.3 421.0,194.3 421.6,194.4 422.2,194.4 422.8,194.4 423.4,194.4 424.0,194.3 424.6,194.3 425.2,194.2 425.8,194.1 426.4,194.1 427.0,194.0 427.6,193.9 428.2,193.9 428.8,193.8 429.4,193.8 430.0,193.8 430.6,193.8 431.2,193.9 431.8,193.9 432.4,194.0 433.0,194.1 433.6,194.2 434.2,194.3 434.8,194.5 435.4,194.7 436.0,194.9 436.6,195.2 437.2,195.5 437.8,195.8 438.4,196.2 439.0,196.6 439.6,197.1 440.1,197.5 440.6,198.0 441.1,198.5 441.6,199.1 442.0,199.5 442.4,200.1 442.8,200.7 443.2,201.3 443.4,201.9 443.7,202.5 443.8,203.1 443.9,203.7 444.0,204.3 444.0,204.9 444.0,205.5 443.9,206.1 443.8,206.7 443.7,207.3 443.5,207.9 443.4,208.5 443.2,209.1 443.1,209.7 443.0,210.3 442.8,210.9 442.6,211.5 442.4,212.1 442.2,212.7 441.9,213.3 441.6,213.9 441.3,214.5 440.9,215.1 440.4,215.7 440.0,216.2 439.5,216.7 439.0,217.2 438.4,217.7 437.8,218.1 437.2,218.4 436.6,218.8 436.0,219.0 435.4,219.3 434.8,219.5 434.2,219.7 433.6,219.8 433.0,219.9 432.4,220.0 431.8,220.1 431.2,220.1 430.6,220.2 430.0,220.2 429.4,220.2 428.8,220.1 428.2,220.1 427.6,220.0 427.0,220.0 426.4,219.9 425.8,219.8 425.2,219.6 424.6,219.5 424.0,219.4 423.4,219.2 422.8,219.1 422.2,219.0 421.6,218.9 421.0,218.8 420.4,218.7 419.8,218.6 419.2,218.4 418.6,218.3 418.0,218.1 417.4,217.8 416.8,217.5 416.2,217.2 415.6,216.7 415.0,216.1 414.5,215.5 414.0,214.9 413.6,214.3 413.3,213.7 413.0,213.1 412.8,212.5 412.5,211.9" fill="none" stroke="rgb(85,85,85)" stroke-width="0.42"/>
<path d="M431.4,218.7 430.8,218.7 430.2,218.8 429.6,218.8 429.0,218.7 428.4,218.7 427.8,218.6 427.2,218.6 426.6,218.5 426.0,218.4 425.4,218.2 424.8,218.1 424.2,217.9 423.6,217.8 423.0,217.7 422.4,217.5 421.8,217.4 421.2,217.3 420.6,217.2 420.0,217.1 419.4,217.0 418.8,216.9 418.2,216.7 417.6,216.4 417.0,216.1 416.4,215.7 415.9,215.3 415.4,214.9 415.0,214.4 414.6,213.9 414.2,213.3 413.9,212.7 413.6,212.1 413.4,211.5 413.2,210.9 413.0,210.3 412.9,209.7 412.7,209.1 412.6,208.5 412.6,207.9 412.5,207.3 412.5,206.7 412.5,206.1 412.5,205.5 412.5,204.9 412.6,204.3 412.6,203.7 412.7,203.1 412.9,202.5 413.0,201.9 413.2,201.3 413.4,200.7 413.6,200.1 413.9,199.5 414.3,198.9 414.7,198.3 415.2,197.7 415.6,197.3 416.2,196.8 416.8,196.4 417.4,196.1 418.0,195.9 418.6,195.8 419.2,195.7 419.8,195.7 420.4,195.7 421.0,195.8 421.6,195.8 422.2,195.8 422.8,195.8 423.4,195.8 424.0,195.8 424.6,195.7 425.2,195.6 425.8,195.5 426.4,195.5 427.0,195.4 427.6,195.3 428.2,195.2 428.8,195.2 429.4,195.2 430.0,195.2 430.6,195.2 431.2,195.2 431.8,195.3 432.4,195.3 433.0,195.4 433.6,195.5 434.2,195.7 434.8,195.9 435.4,196.1 436.0,196.3 436.6,196.6 437.1,196.9 437.8,197.3 438.4,197.7 439.0,198.1 439.5,198.5 440.0,198.9 440.6,199.5 441.2,200.1 441.6,200.6 442.0,201.2 442.4,201.9 442.6,202.5 442.8,203.1 442.9,203.7 443.0,204.3 443.0,204.9 442.9,205.5 442.8,206.1 442.6,206.7 442.5,207.3 442.3,207.9 442.1,208.5 441.9,209.1 441.7,209.7 441.5,210.3 441.3,210.9 441.1,211.5 440.9,212.1 440.6,212.7 440.3,213.3 439.9,213.9 439.5,214.5 439.0,215.1 438.6,215.6 438.0,216.1 437.5,216.5 437.0,216.9 436.4,217.2 435.8,217.6 435.2,217.8 434.6,218.1 434.0,218.2 433.4,218.4 432.8,218.5 432.2,218.6 431.6,218.7 Z" fill="none" stroke="rgb(80,80,80)" stroke-width="0.42"/>
<path d="M430.6,217.1 430.0,217.1 429.4,217.1 428.8,217.1 428.2,217.0 427.6,217.0 427.0,216.9 426.4,216.7 425.8,216.6 425.2,216.4 424.6,216.3 424.0,216.1 423.4,216.0 422.8,215.8 422.2,215.7 421.6,215.6 421.0,215.6 420.4,215.5 419.8,215.4 419.2,215.3 418.6,215.1 418.0,214.9 417.4,214.6 416.8,214.2 416.2,213.7 415.6,213.1 415.2,212.5 414.8,211.9 414.5,211.3 414.3,210.7 414.1,210.1 413.9,209.5 413.8,208.9 413.7,208.3 413.6,207.7 413.5,207.1 413.5,206.5 413.5,205.9 413.5,205.3 413.5,204.7 413.6,204.1 413.7,203.5 413.8,202.9 414.0,202.3 414.2,201.7 414.4,201.1 414.7,200.5 415.1,199.9 415.5,199.3 416.0,198.8 416.6,198.3 417.2,197.9 417.8,197.6 418.4,197.5 419.0,197.4 419.6,197.3 420.2,197.3 420.8,197.4 421.4,197.4 422.0,197.4 422.6,197.5 423.2,197.4 423.8,197.4 424.4,197.3 425.0,197.2 425.6,197.1 426.2,197.0 426.8,196.9 427.4,196.8 428.0,196.7 428.6,196.6 429.2,196.6 429.8,196.6 430.4,196.6 431.0,196.6 431.6,196.6 432.2,196.7 432.8,196.8 433.4,196.9 434.0,197.0 434.6,197.2 435.2,197.4 435.8,197.6 436.4,197.9 437.0,198.2 437.6,198.5 438.2,198.9 438.8,199.3 439.3,199.7 439.8,200.1 440.2,200.5 440.6,201.0 441.0,201.5 441.3,202.1 441.6,202.7 441.8,203.3 441.9,203.9 441.9,204.5 441.8,205.1 441.7,205.7 441.6,206.3 441.4,206.9 441.1,207.5 440.9,208.1 440.6,208.7 440.3,209.3 440.1,209.9 439.8,210.5 439.6,211.1 439.3,211.7 438.9,212.3 438.6,212.9 438.2,213.4 437.8,213.9 437.3,214.5 436.8,214.9 436.3,215.3 435.7,215.7 435.0,216.1 434.4,216.3 433.8,216.6 433.2,216.7 432.6,216.9 432.0,217.0 431.4,217.1 430.8,217.1 Z" fill="none" stroke="rgb(75,75,75)" stroke-width="0.42"/>
<path d="M431.8,214.9 431.2,215.0 430.6,215.0 430.0,215.1 429.4,215.1 428.8,215.0 428.2,215.0 427.6,214.9 427.0,214.7 426.4,214.6 425.8,214.4 425.2,214.2 424.6,214.0 424.0,213.8 423.4,213.7 422.8,213.6 422.2,213.5 421.6,213.4 421.0,213.4 420.4,213.4 419.8,213.3 419.2,213.2 418.6,213.0 418.0,212.8 417.4,212.4 416.8,211.9 416.3,211.3 415.9,210.7 415.6,210.2 415.3,209.5 415.1,208.9 415.0,208.3 414.9,207.7 414.8,207.1 414.7,206.5 414.7,205.9 414.8,205.3 414.8,204.7 414.9,204.1 415.1,203.5 415.2,202.9 415.5,202.3 415.8,201.7 416.2,201.1 416.6,200.6 417.1,200.1 417.8,199.7 418.4,199.5 419.0,199.3 419.6,199.3 420.2,199.3 420.8,199.3 421.4,199.3 422.0,199.3 422.6,199.2 423.2,199.1 423.8,199.0 424.4,198.9 425.0,198.7 425.6,198.6 426.2,198.4 426.8,198.3 427.4,198.2 428.0,198.1 428.6,198.0 429.2,197.9 429.8,197.9 430.4,197.9 431.0,197.9 431.6,197.9 432.2,198.0 432.8,198.0 433.4,198.1 434.0,198.3 434.6,198.4 435.2,198.6 435.8,198.8 436.4,199.1 437.0,199.4 437.5,199.7 438.1,200.1 438.7,200.5 439.2,201.0 439.7,201.5 440.1,202.1 440.4,202.7 440.6,203.3 440.7,203.9 440.7,204.5 440.7,205.1 440.5,205.7 440.3,206.3 440.0,206.9 439.7,207.5 439.3,208.1 438.9,208.7 438.5,209.3 438.1,209.9 437.8,210.4 437.4,211.0 437.0,211.6 436.6,212.1 436.2,212.6 435.7,213.1 435.2,213.5 434.6,213.9 434.0,214.2 433.4,214.5 432.8,214.7 432.2,214.8 Z" fill="none" stroke="rgb(70,70,70)" stroke-width="0.42"/>
<path d="M430.6,212.1 430.0,212.1 429.4,212.1 428.8,212.1 428.2,212.0 427.6,211.8 427.0,211.6 426.4,211.4 425.8,211.1 425.2,210.8 424.6,210.5 424.0,210.3 423.4,210.1 422.8,210.0 422.2,210.0 421.6,210.0 421.0,210.1 420.4,210.1 419.8,210.2 419.2,210.1 418.6,209.9 418.1,209.5 417.6,209.0 417.3,208.5 417.0,207.9 416.8,207.3 416.7,206.7 416.7,206.1 416.7,205.5 416.8,204.9 416.9,204.3 417.2,203.7 417.6,203.1 418.0,202.6 418.5,202.3 419.2,202.0 419.8,201.9 420.4,201.8 421.0,201.7 421.6,201.5 422.2,201.4 422.8,201.1 423.4,200.9 424.0,200.6 424.6,200.4 425.2,200.1 425.8,199.9 426.4,199.7 427.0,199.5 427.6,199.4 428.2,199.3 428.8,199.2 429.4,199.1 430.0,199.0 430.6,199.0 431.2,199.0 431.8,199.0 432.4,199.1 433.0,199.2 433.6,199.3 434.2,199.4 434.8,199.6 435.4,199.8 436.0,200.1 436.6,200.4 437.2,200.7 437.7,201.1 438.2,201.5 438.6,202.0 438.9,202.5 439.2,203.1 439.4,203.7 439.4,204.3 439.4,204.9 439.2,205.5 439.0,206.1 438.6,206.7 438.2,207.2 437.8,207.7 437.2,208.3 436.6,208.9 436.1,209.3 435.7,209.7 435.2,210.1 434.6,210.5 434.1,210.9 433.4,211.3 432.8,211.6 432.2,211.8 431.6,212.0 431.0,212.1 Z" fill="none" stroke="rgb(65,65,65)" stroke-width="0.42"/>
<path d="M431.8,210.1 431.2,210.2 430.6,210.3 430.0,210.3 429.4,210.2 428.8,210.1 428.2,210.0 427.6,209.8 427.0,209.6 426.4,209.3 425.8,209.0 425.2,208.7 424.6,208.4 424.0,208.0 423.5,207.7 422.8,207.3 422.2,207.0 421.6,206.8 421.0,206.6 420.4,206.5 419.8,206.1 419.6,205.5 419.9,204.9 420.4,204.5 421.0,204.0 421.6,203.5 422.1,203.1 422.6,202.7 423.1,202.3 423.6,201.9 424.2,201.5 424.8,201.2 425.3,200.9 426.0,200.6 426.6,200.3 427.2,200.1 427.8,200.0 428.4,199.8 429.0,199.7 429.6,199.7 430.2,199.6 430.8,199.6 431.4,199.6 432.0,199.6 432.6,199.7 433.2,199.8 433.8,199.9 434.4,200.1 435.0,200.3 435.6,200.5 436.2,200.8 436.8,201.2 437.4,201.7 437.8,202.1 438.2,202.6 438.5,203.3 438.7,203.9 438.7,204.5 438.6,205.1 438.3,205.7 438.0,206.3 437.6,206.8 437.1,207.3 436.6,207.8 436.0,208.2 435.4,208.6 434.8,209.0 434.2,209.3 433.6,209.6 433.0,209.8 432.4,210.0 431.8,210.1 Z" fill="none" stroke="rgb(60,60,60)" stroke-width="0.42"/>
<path d="M431.0,208.9 430.4,208.9 429.8,208.9 429.2,208.8 428.6,208.7 428.0,208.5 427.4,208.3 426.8,208.0 426.2,207.7 425.6,207.3 425.0,206.9 424.4,206.3 424.0,205.8 423.7,205.1 423.6,204.5 423.7,203.9 424.0,203.3 424.4,202.7 425.0,202.1 425.6,201.7 426.2,201.3 426.8,201.0 427.4,200.8 428.0,200.6 428.6,200.5 429.2,200.3 429.8,200.3 430.4,200.2 431.0,200.2 431.6,200.2 432.2,200.2 432.8,200.3 433.4,200.4 434.0,200.6 434.6,200.8 435.2,201.0 435.8,201.3 436.4,201.7 436.8,202.1 437.3,202.7 437.7,203.3 437.8,203.9 437.8,204.5 437.7,205.1 437.4,205.7 437.0,206.2 436.6,206.7 436.1,207.1 435.6,207.5 435.0,207.8 434.4,208.1 433.8,208.4 433.2,208.6 432.6,208.7 432.0,208.8 431.4,208.9 Z" fill="none" stroke="rgb(55,55,55)" stroke-width="0.42"/>
<path d="M432.6,207.9 432.0,208.0 431.4,208.1 430.8,208.1 430.2,208.0 429.6,208.0 429.0,207.9 428.4,207.7 427.8,207.5 427.2,207.2 426.6,206.9 426.1,206.5 425.6,206.0 425.2,205.5 424.9,204.9 424.9,204.3 425.0,203.7 425.3,203.1 425.8,202.5 426.3,202.1 426.8,201.8 427.4,201.4 428.0,201.2 428.6,201.0 429.2,200.9 429.8,200.8 430.4,200.7 431.0,200.7 431.6,200.7 432.2,200.7 432.8,200.8 433.4,200.9 434.0,201.1 434.6,201.3 435.2,201.6 435.8,202.0 436.3,202.5 436.8,203.1 437.0,203.7 437.0,204.3 436.9,204.9 436.7,205.5 436.2,206.1 435.7,206.5 435.2,206.9 434.6,207.2 434.0,207.5 433.4,207.7 432.8,207.9 Z" fill="none" stroke="rgb(50,50,50)" stroke-width="0.42"/>
<path d="M432.4,207.3 431.8,207.4 431.2,207.4 430.6,207.4 430.0,207.4 429.4,207.3 428.8,207.1 428.2,206.9 427.6,206.6 427.0,206.2 426.4,205.7 426.0,205.1 425.9,204.5 425.9,203.9 426.1,203.3 426.6,202.7 427.1,202.3 427.8,201.9 428.4,201.6 429.0,201.4 429.6,201.3 430.2,201.2 430.8,201.2 431.4,201.2 432.0,201.2 432.6,201.3 433.2,201.4 433.8,201.6 434.4,201.8 435.0,202.1 435.6,202.6 436.0,203.1 436.2,203.7 436.3,204.3 436.2,204.9 435.8,205.5 435.4,206.0 434.8,206.4 434.2,206.7 433.6,207.0 433.0,207.2 432.4,207.3 Z" fill="none" stroke="rgb(45,45,45)" stroke-width="0.42"/>
<path d="M432.6,206.7 432.0,206.8 431.4,206.9 430.8,206.9 430.2,206.8 429.6,206.7 429.0,206.5 428.4,206.3 427.8,205.9 427.3,205.5 426.9,204.9 426.7,204.3 426.8,203.7 427.2,203.1 427.8,202.6 428.4,202.2 429.0,202.0 429.6,201.8 430.2,201.7 430.8,201.6 431.4,201.6 432.0,201.7 432.6,201.7 433.2,201.9 433.8,202.1 434.4,202.4 435.0,202.9 435.4,203.4 435.6,204.1 435.5,204.7 435.2,205.2 434.8,205.7 434.2,206.1 433.6,206.4 433.0,206.6 Z" fill="none" stroke="rgb(40,40,40)" stroke-width="0.42"/>
<path d="M431.6,206.3 431.0,206.3 430.4,206.3 429.8,206.1 429.2,206.0 428.6,205.7 428.0,205.2 427.6,204.5 427.6,203.9 428.0,203.3 428.4,202.9 429.0,202.5 429.6,202.3 430.2,202.2 430.8,202.1 431.4,202.1 432.0,202.1 432.6,202.2 433.2,202.4 433.8,202.7 434.3,203.1 434.7,203.7 434.8,204.3 434.6,204.9 434.2,205.3 433.7,205.7 433.0,206.0 432.4,206.2 431.8,206.3 Z" fill="none" stroke="rgb(35,35,35)" stroke-width="0.42"/>
<path d="M431.8,205.7 431.2,205.7 430.6,205.7 430.0,205.6 429.4,205.3 428.9,204.9 428.6,204.3 428.7,203.7 429.2,203.2 429.8,202.9 430.4,202.7 431.0,202.6 431.6,202.6 432.2,202.7 432.8,202.9 433.4,203.2 433.8,203.7 433.9,204.3 433.6,204.9 433.1,205.3 432.4,205.6 431.8,205.7 Z" fill="none" stroke="rgb(30,30,30)" stroke-width="0.42"/>
<path d="M432.0,204.9 431.4,205.0 430.8,205.0 430.2,204.7 429.8,204.1 430.2,203.6 430.8,203.3 431.4,203.3 432.0,203.4 432.6,203.7 432.7,204.3 432.2,204.8 Z" fill="none" stroke="rgb(25,25,25)" stroke-width="0.42"/>
<path d="M415.40,198.50 A2.60,7.00 0 0 1 415.40,212.50 Z" fill="#fff" stroke="#000" stroke-width="2.2"/>
<path d="M470.8,215.9 470.2,216.0 469.6,216.1 469.0,216.0 468.4,215.9 467.8,215.7 467.2,215.5 466.6,215.2 466.0,214.8 465.5,214.3 465.0,213.8 464.6,213.3 464.2,212.7 463.9,212.1 463.6,211.5 463.3,210.9 463.1,210.3 463.0,209.7 462.9,209.1 462.8,208.5 462.7,207.9 462.7,207.3 462.7,206.7 462.8,206.1 462.8,205.5 462.9,204.9 463.1,204.3 463.3,203.7 463.5,203.1 463.8,202.5 464.1,201.9 464.4,201.4 464.8,200.8 465.2,200.4 465.7,199.9 466.2,199.5 466.8,199.1 467.4,198.8 468.0,198.6 468.6,198.4 469.2,198.4 469.8,198.3 470.4,198.4 471.0,198.5 471.6,198.7 472.2,199.0 472.8,199.4 473.4,199.8 473.9,200.3 474.4,200.8 474.8,201.4 475.1,201.9 475.4,202.5 475.7,203.1 475.9,203.7 476.1,204.3 476.3,204.9 476.4,205.5 476.4,206.1 476.5,206.7 476.5,207.3 476.5,207.9 476.4,208.5 476.3,209.1 476.2,209.7 476.1,210.3 475.9,210.9 475.6,211.5 475.3,212.1 475.0,212.7 474.6,213.3 474.2,213.8 473.7,214.3 473.3,214.7 472.7,215.1 472.0,215.5 471.4,215.7 470.8,215.9 Z" fill="none" stroke="rgb(95,95,95)" stroke-width="0.45"/>
<path d="M470.0,214.1 469.4,214.1 468.8,214.1 468.2,213.9 467.6,213.6 467.0,213.3 466.5,212.9 466.0,212.4 465.6,211.9 465.2,211.3 464.9,210.7 464.7,210.1 464.5,209.5 464.4,208.9 464.3,208.3 464.2,207.7 464.2,207.1 464.2,206.5 464.3,205.9 464.4,205.3 464.6,204.7 464.8,204.1 465.0,203.5 465.4,202.9 465.8,202.3 466.2,201.8 466.8,201.3 467.3,200.9 468.0,200.6 468.6,200.4 469.2,200.3 469.8,200.3 470.4,200.3 471.0,200.5 471.6,200.8 472.2,201.1 472.7,201.5 473.2,202.0 473.6,202.5 474.0,203.1 474.3,203.7 474.5,204.3 474.7,204.9 474.8,205.5 474.9,206.1 475.0,206.7 475.0,207.3 475.0,207.9 474.9,208.5 474.8,209.1 474.6,209.7 474.4,210.3 474.2,210.9 473.8,211.5 473.4,212.1 473.0,212.6 472.4,213.1 471.9,213.5 471.2,213.8 470.6,214.0 470.0,214.1 Z" fill="none" stroke="rgb(90,90,90)" stroke-width="0.45"/>
<path d="M470.4,212.7 469.8,212.8 469.2,212.8 468.6,212.7 468.0,212.4 467.4,212.1 467.0,211.7 466.4,211.1 466.0,210.5 465.7,209.9 465.5,209.3 465.4,208.7 465.3,208.1 465.2,207.5 465.2,206.7 465.3,206.1 465.4,205.5 465.6,204.9 465.8,204.3 466.2,203.7 466.6,203.1 467.2,202.5 467.7,202.1 468.4,201.8 469.0,201.6 469.6,201.6 470.2,201.6 470.8,201.8 471.4,202.1 472.0,202.5 472.4,202.9 472.9,203.5 473.3,204.1 473.5,204.7 473.7,205.3 473.9,205.9 474.0,206.5 474.0,207.1 474.0,207.7 473.9,208.3 473.8,208.9 473.6,209.5 473.4,210.1 473.0,210.7 472.6,211.3 472.0,211.9 471.5,212.3 470.8,212.6 Z" fill="none" stroke="rgb(85,85,85)" stroke-width="0.45"/>
<path d="M469.8,211.7 469.2,211.7 468.6,211.5 468.0,211.2 467.4,210.7 467.0,210.2 466.7,209.7 466.4,209.1 466.2,208.5 466.1,207.9 466.1,207.3 466.1,206.7 466.2,206.1 466.3,205.5 466.6,204.9 466.9,204.3 467.4,203.7 467.8,203.3 468.4,203.0 469.0,202.7 469.6,202.7 470.2,202.7 470.8,203.0 471.4,203.3 471.8,203.7 472.3,204.3 472.6,204.8 472.9,205.5 473.0,206.1 473.1,206.7 473.1,207.3 473.1,207.9 473.0,208.5 472.8,209.1 472.5,209.7 472.2,210.2 471.8,210.7 471.2,211.2 470.6,211.5 470.0,211.7 Z" fill="none" stroke="rgb(80,80,80)" stroke-width="0.45"/>
<path d="M470.2,210.5 469.6,210.6 469.0,210.5 468.4,210.3 467.8,209.7 467.4,209.1 467.1,208.5 467.0,207.9 466.9,207.3 467.0,206.7 467.1,206.1 467.3,205.5 467.6,204.9 468.0,204.5 468.6,204.0 469.2,203.8 469.8,203.8 470.4,203.9 471.0,204.3 471.6,204.9 471.9,205.5 472.1,206.1 472.2,206.7 472.3,207.3 472.2,207.9 472.1,208.5 471.8,209.1 471.4,209.7 470.8,210.3 470.2,210.5 Z" fill="none" stroke="rgb(75,75,75)" stroke-width="0.45"/>
<path d="M470.0,209.3 469.4,209.4 468.8,209.1 468.2,208.5 468.0,207.9 467.9,207.3 468.0,206.7 468.1,206.1 468.5,205.5 469.2,205.1 469.8,205.0 470.4,205.3 471.0,205.9 471.2,206.5 471.3,207.1 471.2,207.7 471.1,208.3 470.7,208.9 470.0,209.3 Z" fill="none" stroke="rgb(70,70,70)" stroke-width="0.45"/>
<path d="M460.0,260.5 460.0,259.9 459.9,259.3 459.9,258.7 459.9,258.1 459.9,257.5 459.8,256.9 459.8,256.3 459.8,255.7 459.8,255.1 459.8,254.5 459.8,253.9 459.8,253.3 459.8,252.7 459.8,252.1 459.8,251.5 459.8,250.9 459.8,250.3 459.8,249.7 459.8,249.1 459.8,248.5 459.8,247.9 459.8,247.3 459.8,246.7 459.8,246.1 459.8,245.5 459.9,244.9 459.9,244.3 459.9,243.7 459.9,243.1 460.0,242.5 460.0,241.9 460.0,241.3 460.1,240.7 460.1,240.1 460.2,239.5 460.3,238.9 460.3,238.3 460.4,237.7 460.5,237.1 460.6,236.5 460.7,235.9 460.8,235.3 460.9,234.7 461.0,234.1 461.2,233.5 461.3,232.9 461.5,232.3 461.7,231.7 461.9,231.1 462.1,230.5 462.3,229.9 462.6,229.3 462.9,228.7 463.3,228.1 463.7,227.5 464.2,226.9 464.6,226.4 465.1,225.9 465.6,225.4 466.2,224.9 466.6,224.5 467.1,224.1 467.8,223.7 468.4,223.4 469.0,223.3 469.8,223.3 470.4,223.5 471.0,223.8 471.6,224.2 472.2,224.7 472.7,225.1 473.2,225.6 473.7,226.1 474.2,226.6 474.6,227.1 475.0,227.6 475.4,228.2 475.8,228.9 476.1,229.5 476.3,230.1 476.6,230.7 476.8,231.3 477.0,231.9 477.2,232.5 477.3,233.1 477.5,233.7 477.6,234.3 477.7,234.9 477.9,235.5 478.0,236.1 478.1,236.7 478.2,237.3 478.2,237.9 478.3,238.5 478.4,239.1 478.4,239.7 478.5,240.3 478.5,240.9 478.6,241.5 478.6,242.1 478.7,242.7 478.7,243.3 478.7,243.9 478.7,244.5 478.8,245.1 478.8,245.7 478.8,246.3 478.8,246.9 478.8,247.5 478.8,248.1 478.8,248.7 478.8,249.3 478.8,249.9 478.8,250.5 478.8,251.1 478.8,251.7 478.8,252.3 478.8,252.9 478.8,253.5 478.8,254.1 478.8,254.7 478.8,255.3 478.8,255.9 478.8,256.5 478.7,257.1 478.7,257.7 478.7,258.3 478.7,258.9 478.6,259.5 478.6,260.1" fill="none" stroke="rgb(85,85,85)" stroke-width="0.45"/>
<path d="M460.5,260.5 460.5,259.9 460.5,259.3 460.4,258.7 460.4,258.1 460.4,257.5 460.4,256.9 460.3,256.3 460.3,255.7 460.3,255.1 460.3,254.5 460.3,253.9 460.3,253.3 460.3,252.7 460.3,252.1 460.3,251.5 460.3,250.9 460.3,250.3 460.3,249.7 460.3,249.1 460.3,248.5 460.3,247.9 460.3,247.3 460.3,246.7 460.3,246.1 460.3,245.5 460.4,244.9 460.4,244.3 460.4,243.7 460.4,243.1 460.5,242.5 460.5,241.9 460.6,241.3 460.6,240.7 460.7,240.1 460.7,239.5 460.8,238.9 460.9,238.3 461.0,237.7 461.1,237.1 461.2,236.5 461.3,235.9 461.4,235.3 461.5,234.7 461.7,234.1 461.8,233.5 462.0,232.9 462.2,232.3 462.4,231.7 462.7,231.1 462.9,230.5 463.2,229.9 463.6,229.3 464.0,228.7 464.4,228.1 464.8,227.6 465.2,227.2 465.6,226.7 466.2,226.1 466.6,225.7 467.1,225.3 467.6,224.9 468.2,224.6 468.8,224.4 469.4,224.3 470.0,224.4 470.6,224.7 471.2,225.1 471.7,225.5 472.2,225.9 472.8,226.5 473.2,226.9 473.7,227.5 474.2,228.1 474.6,228.7 475.0,229.3 475.4,229.9 475.7,230.5 475.9,231.1 476.2,231.7 476.4,232.3 476.6,232.9 476.8,233.5 476.9,234.1 477.1,234.7 477.2,235.3 477.3,235.9 477.4,236.5 477.5,237.1 477.6,237.7 477.7,238.3 477.8,238.9 477.9,239.5 477.9,240.1 478.0,240.7 478.0,241.3 478.1,241.9 478.1,242.5 478.2,243.1 478.2,243.7 478.2,244.3 478.2,244.9 478.3,245.5 478.3,246.1 478.3,246.7 478.3,247.3 478.3,247.9 478.3,248.5 478.3,249.1 478.3,249.7 478.3,250.3 478.3,250.9 478.3,251.5 478.3,252.1 478.3,252.7 478.3,253.3 478.3,253.9 478.3,254.5 478.3,255.1 478.3,255.7 478.3,256.3 478.2,256.9 478.2,257.5 478.2,258.1 478.2,258.7 478.1,259.3 478.1,259.9 478.1,260.5" fill="none" stroke="rgb(81,81,81)" stroke-width="0.45"/>
<path d="M461.1,260.5 461.1,259.9 461.0,259.3 461.0,258.7 461.0,258.1 460.9,257.5 460.9,256.9 460.9,256.3 460.9,255.7 460.9,255.1 460.9,254.5 460.8,253.9 460.8,253.3 460.8,252.7 460.8,252.1 460.8,251.5 460.8,250.9 460.8,250.3 460.8,249.7 460.8,249.1 460.8,248.5 460.8,247.9 460.9,247.3 460.9,246.7 460.9,246.1 460.9,245.5 460.9,244.9 460.9,244.3 461.0,243.7 461.0,243.1 461.0,242.5 461.1,241.9 461.1,241.3 461.2,240.7 461.3,240.1 461.3,239.5 461.4,238.9 461.5,238.3 461.6,237.7 461.7,237.1 461.8,236.5 461.9,235.9 462.1,235.3 462.2,234.7 462.4,234.1 462.6,233.5 462.8,232.9 463.1,232.3 463.3,231.7 463.6,231.1 464.0,230.5 464.3,229.9 464.7,229.3 465.2,228.7 465.6,228.2 466.0,227.7 466.4,227.2 466.9,226.7 467.4,226.3 468.0,225.8 468.6,225.5 469.2,225.4 469.8,225.5 470.4,225.7 471.0,226.1 471.5,226.5 472.0,227.0 472.4,227.5 472.9,228.1 473.4,228.7 473.8,229.2 474.2,229.8 474.6,230.4 475.0,231.1 475.3,231.7 475.5,232.3 475.8,232.9 476.0,233.5 476.2,234.1 476.4,234.7 476.5,235.3 476.7,235.9 476.8,236.5 476.9,237.1 477.0,237.7 477.1,238.3 477.2,238.9 477.3,239.5 477.3,240.1 477.4,240.7 477.5,241.3 477.5,241.9 477.6,242.5 477.6,243.1 477.6,243.7 477.7,244.3 477.7,244.9 477.7,245.5 477.7,246.1 477.7,246.7 477.7,247.3 477.8,247.9 477.8,248.5 477.8,249.1 477.8,249.7 477.8,250.3 477.8,250.9 477.8,251.5 477.8,252.1 477.8,252.7 477.8,253.3 477.8,253.9 477.7,254.5 477.7,255.1 477.7,255.7 477.7,256.3 477.7,256.9 477.7,257.5 477.6,258.1 477.6,258.7 477.6,259.3 477.5,259.9 477.5,260.5" fill="none" stroke="rgb(77,77,77)" stroke-width="0.45"/>
<path d="M461.8,260.5 461.7,259.9 461.7,259.3 461.6,258.7 461.6,258.1 461.6,257.5 461.5,256.9 461.5,256.3 461.5,255.7 461.5,255.1 461.5,254.5 461.5,253.9 461.5,253.3 461.5,252.7 461.5,252.1 461.4,251.5 461.4,250.9 461.4,250.3 461.5,249.7 461.5,249.1 461.5,248.5 461.5,247.9 461.5,247.3 461.5,246.7 461.5,246.1 461.5,245.5 461.5,244.9 461.6,244.3 461.6,243.7 461.6,243.1 461.7,242.5 461.7,241.9 461.8,241.3 461.9,240.7 461.9,240.1 462.0,239.5 462.1,238.9 462.2,238.3 462.3,237.7 462.5,237.1 462.6,236.5 462.7,235.9 462.9,235.3 463.1,234.7 463.3,234.1 463.6,233.5 463.8,232.9 464.1,232.3 464.4,231.7 464.8,231.1 465.1,230.5 465.5,229.9 466.0,229.3 466.4,228.7 466.8,228.2 467.2,227.7 467.7,227.3 468.2,226.9 468.8,226.6 469.4,226.6 470.0,226.7 470.6,227.0 471.2,227.5 471.6,228.0 472.0,228.4 472.4,229.0 472.8,229.5 473.2,230.1 473.6,230.7 474.0,231.3 474.3,231.9 474.6,232.5 474.9,233.1 475.1,233.7 475.4,234.3 475.6,234.9 475.7,235.5 475.9,236.1 476.1,236.7 476.2,237.3 476.3,237.9 476.4,238.5 476.5,239.1 476.6,239.7 476.7,240.3 476.8,240.9 476.8,241.5 476.9,242.1 476.9,242.7 477.0,243.3 477.0,243.9 477.0,244.5 477.1,245.1 477.1,245.7 477.1,246.3 477.1,246.9 477.1,247.5 477.1,248.1 477.1,248.7 477.1,249.3 477.1,249.9 477.2,250.5 477.2,251.1 477.2,251.7 477.1,252.3 477.1,252.9 477.1,253.5 477.1,254.1 477.1,254.7 477.1,255.3 477.1,255.9 477.1,256.5 477.1,257.1 477.0,257.7 477.0,258.3 476.9,258.9 476.9,259.5 476.9,260.1" fill="none" stroke="rgb(74,74,74)" stroke-width="0.45"/>
<path d="M462.6,260.5 462.5,259.9 462.4,259.3 462.4,258.7 462.3,258.1 462.3,257.5 462.3,256.9 462.2,256.3 462.2,255.7 462.2,255.1 462.2,254.5 462.2,253.9 462.2,253.3 462.2,252.7 462.2,252.1 462.2,251.5 462.2,250.9 462.2,250.3 462.2,249.7 462.2,249.1 462.2,248.5 462.2,247.9 462.2,247.3 462.2,246.7 462.2,246.1 462.2,245.5 462.3,244.9 462.3,244.3 462.3,243.7 462.4,243.1 462.4,242.5 462.5,241.9 462.6,241.3 462.7,240.7 462.7,240.1 462.8,239.5 462.9,238.9 463.1,238.3 463.2,237.7 463.4,237.1 463.5,236.5 463.7,235.9 463.9,235.3 464.1,234.7 464.4,234.1 464.7,233.5 464.9,232.9 465.2,232.3 465.6,231.7 465.9,231.1 466.3,230.5 466.6,230.0 467.0,229.4 467.4,228.9 468.0,228.3 468.6,228.0 469.2,227.8 469.8,227.9 470.4,228.2 471.0,228.7 471.4,229.1 471.8,229.7 472.2,230.3 472.6,230.9 472.9,231.5 473.3,232.1 473.6,232.7 473.9,233.3 474.1,233.9 474.4,234.5 474.6,235.1 474.8,235.7 475.0,236.3 475.2,236.9 475.3,237.5 475.5,238.1 475.6,238.7 475.7,239.3 475.8,239.9 475.9,240.5 476.0,241.1 476.1,241.7 476.1,242.3 476.2,242.9 476.2,243.5 476.3,244.1 476.3,244.7 476.3,245.3 476.4,245.9 476.4,246.5 476.4,247.1 476.4,247.7 476.4,248.3 476.4,248.9 476.4,249.5 476.4,250.1 476.4,250.7 476.4,251.3 476.4,251.9 476.4,252.5 476.4,253.1 476.4,253.7 476.4,254.3 476.4,254.9 476.4,255.5 476.4,256.1 476.3,256.7 476.3,257.3 476.3,257.9 476.2,258.5 476.2,259.1 476.1,259.7 476.1,260.3" fill="none" stroke="rgb(70,70,70)" stroke-width="0.45"/>
<path d="M463.5,260.5 463.4,259.9 463.4,259.3 463.3,258.7 463.2,258.1 463.2,257.5 463.1,256.9 463.1,256.3 463.1,255.7 463.1,255.1 463.0,254.5 463.0,253.9 463.0,253.3 463.0,252.7 463.0,252.1 463.0,251.5 463.0,250.9 463.0,250.3 463.0,249.7 463.0,249.1 463.0,248.5 463.0,247.9 463.0,247.3 463.1,246.7 463.1,246.1 463.1,245.5 463.1,244.9 463.2,244.3 463.2,243.7 463.3,243.1 463.3,242.5 463.4,241.9 463.5,241.3 463.6,240.7 463.7,240.1 463.8,239.5 463.9,238.9 464.1,238.3 464.2,237.7 464.4,237.1 464.6,236.5 464.8,235.9 465.0,235.3 465.2,234.7 465.5,234.1 465.7,233.5 466.0,232.9 466.3,232.3 466.6,231.7 466.9,231.1 467.3,230.5 467.8,229.9 468.3,229.5 469.0,229.2 469.8,229.2 470.4,229.6 471.0,230.1 471.4,230.7 471.8,231.3 472.1,231.9 472.4,232.5 472.7,233.1 473.0,233.7 473.2,234.3 473.5,234.9 473.7,235.5 473.9,236.1 474.1,236.7 474.3,237.3 474.4,237.9 474.6,238.5 474.7,239.1 474.8,239.7 474.9,240.3 475.0,240.9 475.1,241.5 475.2,242.1 475.3,242.7 475.3,243.3 475.4,243.9 475.4,244.5 475.5,245.1 475.5,245.7 475.5,246.3 475.6,246.9 475.6,247.5 475.6,248.1 475.6,248.7 475.6,249.3 475.6,249.9 475.6,250.5 475.6,251.1 475.6,251.7 475.6,252.3 475.6,252.9 475.6,253.5 475.6,254.1 475.6,254.7 475.5,255.3 475.5,255.9 475.5,256.5 475.4,257.1 475.4,257.7 475.3,258.3 475.3,258.9 475.2,259.5 475.1,260.1" fill="none" stroke="rgb(67,67,67)" stroke-width="0.45"/>
<path d="M464.8,260.5 464.6,259.9 464.5,259.3 464.4,258.7 464.4,258.1 464.3,257.5 464.2,256.9 464.2,256.3 464.1,255.7 464.1,255.1 464.1,254.5 464.1,253.9 464.0,253.3 464.0,252.7 464.0,252.1 464.0,251.5 464.0,250.9 464.0,250.3 464.0,249.7 464.0,249.1 464.0,248.5 464.0,247.9 464.0,247.3 464.0,246.7 464.1,246.1 464.1,245.5 464.1,244.9 464.2,244.3 464.2,243.7 464.3,243.1 464.3,242.5 464.4,241.9 464.5,241.3 464.6,240.7 464.7,240.1 464.8,239.5 464.9,238.9 465.1,238.3 465.2,237.7 465.4,237.1 465.6,236.5 465.8,235.9 466.0,235.3 466.2,234.7 466.4,234.1 466.7,233.5 466.9,232.9 467.3,232.3 467.6,231.8 468.0,231.3 468.6,230.8 469.2,230.6 469.8,230.7 470.4,231.1 471.0,231.7 471.3,232.3 471.7,232.9 471.9,233.5 472.2,234.1 472.4,234.7 472.6,235.3 472.8,235.9 473.0,236.5 473.2,237.1 473.4,237.7 473.5,238.3 473.7,238.9 473.8,239.5 473.9,240.1 474.0,240.7 474.1,241.3 474.2,241.9 474.3,242.5 474.3,243.1 474.4,243.7 474.4,244.3 474.5,244.9 474.5,245.5 474.5,246.1 474.6,246.7 474.6,247.3 474.6,247.9 474.6,248.5 474.6,249.1 474.6,249.7 474.6,250.3 474.6,250.9 474.6,251.5 474.6,252.1 474.6,252.7 474.6,253.3 474.5,253.9 474.5,254.5 474.5,255.1 474.5,255.7 474.4,256.3 474.4,256.9 474.3,257.5 474.2,258.1 474.2,258.7 474.1,259.3 474.0,259.9 473.8,260.5" fill="none" stroke="rgb(63,63,63)" stroke-width="0.45"/>
<path d="M466.3,260.5 466.1,259.9 465.9,259.3 465.8,258.7 465.7,258.1 465.6,257.5 465.5,256.9 465.4,256.3 465.3,255.7 465.3,255.1 465.2,254.5 465.2,253.9 465.1,253.3 465.1,252.7 465.1,252.1 465.1,251.5 465.0,250.9 465.0,250.3 465.0,249.7 465.0,249.1 465.0,248.5 465.0,247.9 465.0,247.3 465.0,246.7 465.0,246.1 465.0,245.5 465.1,244.9 465.1,244.3 465.2,243.7 465.2,243.1 465.3,242.5 465.3,241.9 465.4,241.3 465.5,240.7 465.6,240.1 465.7,239.5 465.8,238.9 466.0,238.3 466.1,237.7 466.3,237.1 466.4,236.5 466.6,235.9 466.8,235.3 467.1,234.7 467.3,234.1 467.6,233.5 468.0,233.0 468.4,232.5 469.0,232.2 469.8,232.2 470.4,232.7 470.8,233.2 471.2,233.9 471.5,234.5 471.7,235.1 471.9,235.7 472.1,236.3 472.3,236.9 472.4,237.5 472.6,238.1 472.7,238.7 472.8,239.3 473.0,239.9 473.1,240.5 473.2,241.1 473.2,241.7 473.3,242.3 473.4,242.9 473.4,243.5 473.5,244.1 473.5,244.7 473.5,245.3 473.6,245.9 473.6,246.5 473.6,247.1 473.6,247.7 473.6,248.3 473.6,248.9 473.6,249.5 473.6,250.1 473.6,250.7 473.6,251.3 473.5,251.9 473.5,252.5 473.5,253.1 473.4,253.7 473.4,254.3 473.3,254.9 473.3,255.5 473.2,256.1 473.2,256.7 473.1,257.3 473.0,257.9 472.8,258.5 472.7,259.1 472.6,259.7 472.4,260.3" fill="none" stroke="rgb(60,60,60)" stroke-width="0.45"/>
<path d="M467.5,260.5 467.2,259.9 467.0,259.3 466.8,258.7 466.6,258.1 466.5,257.5 466.4,256.9 466.3,256.3 466.2,255.7 466.1,255.1 466.0,254.5 465.9,253.9 465.9,253.3 465.8,252.7 465.8,252.1 465.8,251.5 465.7,250.9 465.7,250.3 465.7,249.7 465.7,249.1 465.6,248.5 465.6,247.9 465.6,247.3 465.6,246.7 465.6,246.1 465.7,245.5 465.7,244.9 465.7,244.3 465.8,243.7 465.8,243.1 465.9,242.5 465.9,241.9 466.0,241.3 466.1,240.7 466.2,240.1 466.3,239.5 466.4,238.9 466.6,238.3 466.7,237.7 466.9,237.1 467.1,236.5 467.3,235.9 467.5,235.3 467.8,234.7 468.2,234.1 468.8,233.6 469.4,233.4 470.0,233.7 470.5,234.3 470.9,234.9 471.2,235.5 471.4,236.1 471.6,236.7 471.8,237.3 471.9,237.9 472.1,238.5 472.2,239.1 472.3,239.7 472.4,240.3 472.5,240.9 472.6,241.5 472.7,242.1 472.7,242.7 472.8,243.3 472.8,243.9 472.9,244.5 472.9,245.1 472.9,245.7 473.0,246.3 473.0,246.9 473.0,247.5 473.0,248.1 473.0,248.7 472.9,249.3 472.9,249.9 472.9,250.5 472.9,251.1 472.8,251.7 472.8,252.3 472.7,252.9 472.7,253.5 472.6,254.1 472.6,254.7 472.5,255.3 472.4,255.9 472.3,256.5 472.2,257.1 472.1,257.7 471.9,258.3 471.7,258.9 471.5,259.5 471.3,260.1" fill="none" stroke="rgb(56,56,56)" stroke-width="0.45"/>
<path d="M468.9,260.5 468.4,260.1 468.0,259.6 467.7,259.1 467.4,258.5 467.2,257.9 467.0,257.3 466.9,256.7 466.8,256.1 466.6,255.5 466.5,254.9 466.5,254.3 466.4,253.7 466.3,253.1 466.3,252.5 466.2,251.9 466.2,251.3 466.1,250.7 466.1,250.1 466.1,249.5 466.0,248.9 466.0,248.3 466.0,247.7 466.0,247.1 466.0,246.5 466.0,245.9 466.0,245.3 466.1,244.7 466.1,244.1 466.1,243.5 466.2,242.9 466.3,242.3 466.3,241.7 466.4,241.1 466.5,240.5 466.6,239.9 466.7,239.3 466.8,238.7 467.0,238.1 467.2,237.5 467.4,236.9 467.6,236.3 467.9,235.7 468.2,235.1 468.6,234.6 469.2,234.4 469.8,234.5 470.4,235.1 470.7,235.7 471.0,236.2 471.2,236.9 471.4,237.5 471.6,238.1 471.8,238.7 471.9,239.3 472.0,239.9 472.1,240.5 472.2,241.1 472.3,241.7 472.3,242.3 472.4,242.9 472.5,243.5 472.5,244.1 472.5,244.7 472.6,245.3 472.6,245.9 472.6,246.5 472.6,247.1 472.6,247.7 472.6,248.3 472.6,248.9 472.5,249.5 472.5,250.1 472.5,250.7 472.4,251.3 472.4,251.9 472.3,252.5 472.3,253.1 472.2,253.7 472.1,254.3 472.1,254.9 472.0,255.5 471.8,256.1 471.7,256.7 471.6,257.3 471.4,257.9 471.2,258.5 470.9,259.1 470.6,259.6 470.2,260.1 469.7,260.5" fill="none" stroke="rgb(53,53,53)" stroke-width="0.45"/>
<path d="M469.4,259.3 468.8,259.2 468.3,258.7 467.9,258.1 467.7,257.5 467.5,256.9 467.3,256.3 467.1,255.7 467.0,255.1 466.9,254.5 466.8,253.9 466.7,253.3 466.6,252.7 466.6,252.1 466.5,251.5 466.5,250.9 466.4,250.3 466.4,249.7 466.4,249.1 466.3,248.5 466.3,247.9 466.3,247.3 466.3,246.7 466.3,246.1 466.3,245.5 466.4,244.9 466.4,244.3 466.4,243.7 466.5,243.1 466.5,242.5 466.6,241.9 466.7,241.3 466.8,240.7 466.9,240.1 467.0,239.5 467.1,238.9 467.3,238.3 467.5,237.7 467.7,237.1 468.0,236.5 468.3,235.9 468.8,235.4 469.4,235.2 470.0,235.5 470.4,236.1 470.7,236.7 471.0,237.3 471.2,237.9 471.4,238.5 471.5,239.1 471.6,239.7 471.7,240.3 471.8,240.9 471.9,241.5 472.0,242.1 472.1,242.7 472.1,243.3 472.2,243.9 472.2,244.5 472.2,245.1 472.3,245.7 472.3,246.3 472.3,246.9 472.3,247.5 472.3,248.1 472.3,248.7 472.2,249.3 472.2,249.9 472.2,250.5 472.1,251.1 472.1,251.7 472.0,252.3 471.9,252.9 471.9,253.5 471.8,254.1 471.7,254.7 471.6,255.3 471.4,255.9 471.3,256.5 471.1,257.1 470.8,257.7 470.6,258.3 470.2,258.8 469.6,259.3 Z" fill="none" stroke="rgb(49,49,49)" stroke-width="0.45"/>
<path d="M469.6,258.1 469.0,258.1 468.5,257.7 468.1,257.1 467.8,256.5 467.6,255.9 467.5,255.3 467.3,254.7 467.2,254.1 467.1,253.5 467.0,252.9 466.9,252.3 466.9,251.7 466.8,251.1 466.7,250.5 466.7,249.9 466.7,249.3 466.6,248.7 466.6,248.1 466.6,247.5 466.6,246.9 466.6,246.3 466.6,245.7 466.6,245.1 466.7,244.5 466.7,243.9 466.7,243.3 466.8,242.7 466.9,242.1 466.9,241.5 467.0,240.9 467.1,240.3 467.3,239.7 467.4,239.1 467.6,238.5 467.8,237.9 468.0,237.3 468.4,236.7 468.8,236.2 469.4,236.0 470.0,236.4 470.4,236.9 470.7,237.5 470.9,238.1 471.1,238.7 471.2,239.3 471.4,239.9 471.5,240.5 471.6,241.1 471.7,241.7 471.8,242.3 471.8,242.9 471.9,243.5 471.9,244.1 472.0,244.7 472.0,245.3 472.0,245.9 472.0,246.5 472.0,247.1 472.0,247.7 472.0,248.3 472.0,248.9 471.9,249.5 471.9,250.1 471.8,250.7 471.8,251.3 471.7,251.9 471.7,252.5 471.6,253.1 471.5,253.7 471.4,254.3 471.2,254.9 471.1,255.5 470.9,256.1 470.7,256.7 470.4,257.3 470.0,257.8 Z" fill="none" stroke="rgb(46,46,46)" stroke-width="0.45"/>
<path d="M469.4,257.1 468.8,256.9 468.4,256.4 468.1,255.9 467.9,255.3 467.7,254.7 467.6,254.1 467.4,253.5 467.3,252.9 467.2,252.3 467.1,251.7 467.1,251.1 467.0,250.5 467.0,249.9 466.9,249.3 466.9,248.7 466.9,248.1 466.9,247.5 466.8,246.9 466.8,246.3 466.9,245.7 466.9,245.1 466.9,244.5 466.9,243.9 467.0,243.3 467.1,242.7 467.1,242.1 467.2,241.5 467.3,240.9 467.4,240.3 467.6,239.7 467.7,239.1 467.9,238.5 468.2,237.9 468.6,237.3 469.2,236.8 469.8,237.0 470.2,237.5 470.5,238.1 470.7,238.7 470.9,239.3 471.1,239.9 471.2,240.5 471.3,241.1 471.4,241.7 471.5,242.3 471.6,242.9 471.6,243.5 471.7,244.1 471.7,244.7 471.7,245.3 471.7,245.9 471.8,246.5 471.8,247.1 471.7,247.7 471.7,248.3 471.7,248.9 471.7,249.5 471.6,250.1 471.6,250.7 471.5,251.3 471.4,251.9 471.3,252.5 471.2,253.1 471.1,253.7 471.0,254.3 470.8,254.9 470.6,255.5 470.4,256.1 470.0,256.7 469.4,257.1 Z" fill="none" stroke="rgb(42,42,42)" stroke-width="0.45"/>
<path d="M469.6,256.0 468.8,255.9 468.4,255.3 468.1,254.7 467.9,254.1 467.8,253.5 467.6,252.9 467.5,252.3 467.4,251.7 467.3,251.1 467.3,250.5 467.2,249.9 467.2,249.3 467.1,248.7 467.1,248.1 467.1,247.5 467.1,246.9 467.1,246.3 467.1,245.7 467.1,245.1 467.1,244.5 467.2,243.9 467.2,243.3 467.3,242.7 467.4,242.1 467.5,241.5 467.6,240.9 467.7,240.3 467.9,239.7 468.1,239.1 468.3,238.5 468.8,237.9 469.4,237.6 470.0,238.1 470.4,238.7 470.6,239.3 470.8,239.9 470.9,240.5 471.1,241.1 471.2,241.7 471.3,242.3 471.3,242.9 471.4,243.5 471.4,244.1 471.5,244.7 471.5,245.3 471.5,245.9 471.5,246.5 471.5,247.1 471.5,247.7 471.5,248.3 471.5,248.9 471.4,249.5 471.4,250.1 471.3,250.7 471.2,251.3 471.1,251.9 471.0,252.5 470.9,253.1 470.8,253.7 470.6,254.3 470.4,254.9 470.1,255.5 469.6,256.0 Z" fill="none" stroke="rgb(39,39,39)" stroke-width="0.45"/>
<path d="M469.6,255.0 468.9,254.9 468.5,254.3 468.2,253.7 468.0,253.1 467.9,252.5 467.7,251.9 467.6,251.3 467.6,250.7 467.5,250.1 467.4,249.5 467.4,248.9 467.3,248.3 467.3,247.7 467.3,247.1 467.3,246.5 467.3,245.9 467.3,245.3 467.4,244.7 467.4,244.1 467.4,243.5 467.5,242.9 467.6,242.3 467.7,241.7 467.8,241.1 468.0,240.5 468.1,239.9 468.4,239.3 468.8,238.7 469.4,238.4 470.0,238.9 470.3,239.5 470.5,240.1 470.7,240.7 470.8,241.3 470.9,241.9 471.0,242.5 471.1,243.1 471.2,243.7 471.2,244.3 471.3,244.9 471.3,245.5 471.3,246.1 471.3,246.7 471.3,247.3 471.3,247.9 471.2,248.5 471.2,249.1 471.2,249.7 471.1,250.3 471.0,250.9 470.9,251.5 470.8,252.1 470.7,252.7 470.5,253.3 470.3,253.9 470.0,254.5 469.6,255.0 Z" fill="none" stroke="rgb(35,35,35)" stroke-width="0.45"/>
<path d="M469.4,254.1 468.8,253.8 468.4,253.1 468.2,252.5 468.1,251.9 467.9,251.3 467.8,250.7 467.7,250.1 467.7,249.5 467.6,248.9 467.6,248.3 467.5,247.7 467.5,247.1 467.5,246.5 467.5,245.9 467.5,245.3 467.6,244.7 467.6,244.1 467.7,243.5 467.8,242.9 467.8,242.3 468.0,241.7 468.1,241.1 468.3,240.5 468.5,239.9 469.0,239.3 469.8,239.5 470.1,240.1 470.4,240.7 470.5,241.3 470.7,241.9 470.8,242.5 470.9,243.1 470.9,243.7 471.0,244.3 471.0,244.9 471.1,245.5 471.1,246.1 471.1,246.7 471.1,247.3 471.0,247.9 471.0,248.5 471.0,249.1 470.9,249.7 470.8,250.3 470.7,250.9 470.6,251.5 470.5,252.1 470.3,252.7 470.1,253.3 469.7,253.9 Z" fill="none" stroke="rgb(32,32,32)" stroke-width="0.45"/>
<path d="M469.4,253.1 468.8,252.8 468.5,252.1 468.3,251.5 468.2,250.9 468.0,250.3 467.9,249.7 467.9,249.1 467.8,248.5 467.8,247.9 467.8,247.3 467.7,246.7 467.8,246.1 467.8,245.5 467.8,244.9 467.8,244.3 467.9,243.7 468.0,243.1 468.1,242.5 468.2,241.9 468.4,241.3 468.6,240.7 469.0,240.2 469.7,240.3 470.1,240.9 470.3,241.5 470.4,242.1 470.6,242.7 470.7,243.3 470.7,243.9 470.8,244.5 470.8,245.1 470.8,245.7 470.9,246.3 470.8,246.9 470.8,247.5 470.8,248.1 470.8,248.7 470.7,249.3 470.6,249.9 470.5,250.5 470.4,251.1 470.3,251.7 470.0,252.3 469.7,252.9 Z" fill="none" stroke="rgb(28,28,28)" stroke-width="0.45"/>
<path d="M469.6,251.9 469.0,251.9 468.6,251.3 468.4,250.7 468.3,250.1 468.2,249.5 468.1,248.9 468.1,248.3 468.0,247.7 468.0,247.1 468.0,246.5 468.0,245.9 468.0,245.3 468.1,244.7 468.1,244.1 468.2,243.5 468.3,242.9 468.4,242.3 468.6,241.7 469.0,241.1 469.8,241.3 470.0,241.9 470.2,242.5 470.3,243.1 470.4,243.7 470.5,244.3 470.6,244.9 470.6,245.5 470.6,246.1 470.6,246.7 470.6,247.3 470.6,247.9 470.5,248.5 470.5,249.1 470.4,249.7 470.3,250.3 470.1,250.9 469.9,251.5 Z" fill="none" stroke="rgb(25,25,25)" stroke-width="0.45"/>
<path d="M464.30,257.60 A5.00,2.60 0 0 1 474.30,257.60 Z" fill="#fff" stroke="#000" stroke-width="1.4"/>
</g>
<line x1="450.70" y1="166.90" x2="450.70" y2="257.70" stroke="#555" stroke-width="1.0"/>
<line x1="415.40" y1="224.30" x2="506.50" y2="224.30" stroke="#555" stroke-width="1.0"/>
<rect x="415.4" y="166.9" width="91.10000000000002" height="90.79999999999998" fill="none" stroke="#111" stroke-width="1.1"/>
<line x1="415.40" y1="166.90" x2="415.40" y2="258.30" stroke="#000" stroke-width="1.35"/>
<line x1="414.80" y1="257.70" x2="506.50" y2="257.70" stroke="#000" stroke-width="1.35"/>
<line x1="412.60" y1="167.20" x2="415.40" y2="167.20" stroke="#000" stroke-width="1.0"/>
<text x="400.00" y="170.30" font-size="8.6" font-weight="normal" text-anchor="start" fill="#111" textLength="7.60" lengthAdjust="spacingAndGlyphs" stroke="#111" stroke-width="0.22">10</text>
<text x="407.90" y="167.40" font-size="5.6" font-weight="normal" text-anchor="start" fill="#111" textLength="3.10" lengthAdjust="spacingAndGlyphs" stroke="#111" stroke-width="0.22">3</text>
<line x1="413.40" y1="188.03" x2="415.40" y2="188.03" stroke="#000" stroke-width="0.8"/>
<line x1="413.40" y1="182.78" x2="415.40" y2="182.78" stroke="#000" stroke-width="0.8"/>
<line x1="413.40" y1="179.06" x2="415.40" y2="179.06" stroke="#000" stroke-width="0.8"/>
<line x1="413.40" y1="176.17" x2="415.40" y2="176.17" stroke="#000" stroke-width="0.8"/>
<line x1="413.40" y1="173.81" x2="415.40" y2="173.81" stroke="#000" stroke-width="0.8"/>
<line x1="413.40" y1="171.82" x2="415.40" y2="171.82" stroke="#000" stroke-width="0.8"/>
<line x1="413.40" y1="170.09" x2="415.40" y2="170.09" stroke="#000" stroke-width="0.8"/>
<line x1="413.40" y1="168.56" x2="415.40" y2="168.56" stroke="#000" stroke-width="0.8"/>
<line x1="412.60" y1="197.00" x2="415.40" y2="197.00" stroke="#000" stroke-width="1.0"/>
<text x="400.00" y="200.30" font-size="8.6" font-weight="normal" text-anchor="start" fill="#111" textLength="7.60" lengthAdjust="spacingAndGlyphs" stroke="#111" stroke-width="0.22">10</text>
<text x="407.90" y="197.40" font-size="5.6" font-weight="normal" text-anchor="start" fill="#111" textLength="3.10" lengthAdjust="spacingAndGlyphs" stroke="#111" stroke-width="0.22">2</text>
<line x1="413.40" y1="218.04" x2="415.40" y2="218.04" stroke="#000" stroke-width="0.8"/>
<line x1="413.40" y1="212.74" x2="415.40" y2="212.74" stroke="#000" stroke-width="0.8"/>
<line x1="413.40" y1="208.98" x2="415.40" y2="208.98" stroke="#000" stroke-width="0.8"/>
<line x1="413.40" y1="206.06" x2="415.40" y2="206.06" stroke="#000" stroke-width="0.8"/>
<line x1="413.40" y1="203.68" x2="415.40" y2="203.68" stroke="#000" stroke-width="0.8"/>
<line x1="413.40" y1="201.66" x2="415.40" y2="201.66" stroke="#000" stroke-width="0.8"/>
<line x1="413.40" y1="199.92" x2="415.40" y2="199.92" stroke="#000" stroke-width="0.8"/>
<line x1="413.40" y1="198.38" x2="415.40" y2="198.38" stroke="#000" stroke-width="0.8"/>
<line x1="412.60" y1="227.10" x2="415.40" y2="227.10" stroke="#000" stroke-width="1.0"/>
<text x="400.00" y="231.40" font-size="8.6" font-weight="normal" text-anchor="start" fill="#111" textLength="7.60" lengthAdjust="spacingAndGlyphs" stroke="#111" stroke-width="0.22">10</text>
<text x="407.90" y="228.50" font-size="5.6" font-weight="normal" text-anchor="start" fill="#111" textLength="3.10" lengthAdjust="spacingAndGlyphs" stroke="#111" stroke-width="0.22">1</text>
<line x1="413.40" y1="248.28" x2="415.40" y2="248.28" stroke="#000" stroke-width="0.8"/>
<line x1="413.40" y1="242.94" x2="415.40" y2="242.94" stroke="#000" stroke-width="0.8"/>
<line x1="413.40" y1="239.16" x2="415.40" y2="239.16" stroke="#000" stroke-width="0.8"/>
<line x1="413.40" y1="236.22" x2="415.40" y2="236.22" stroke="#000" stroke-width="0.8"/>
<line x1="413.40" y1="233.82" x2="415.40" y2="233.82" stroke="#000" stroke-width="0.8"/>
<line x1="413.40" y1="231.79" x2="415.40" y2="231.79" stroke="#000" stroke-width="0.8"/>
<line x1="413.40" y1="230.04" x2="415.40" y2="230.04" stroke="#000" stroke-width="0.8"/>
<line x1="413.40" y1="228.49" x2="415.40" y2="228.49" stroke="#000" stroke-width="0.8"/>
<line x1="412.60" y1="257.40" x2="415.40" y2="257.40" stroke="#000" stroke-width="1.0"/>
<text x="400.00" y="261.10" font-size="8.6" font-weight="normal" text-anchor="start" fill="#111" textLength="7.60" lengthAdjust="spacingAndGlyphs" stroke="#111" stroke-width="0.22">10</text>
<text x="407.90" y="258.20" font-size="5.6" font-weight="normal" text-anchor="start" fill="#111" textLength="3.10" lengthAdjust="spacingAndGlyphs" stroke="#111" stroke-width="0.22">0</text>
<line x1="415.50" y1="257.70" x2="415.50" y2="260.50" stroke="#000" stroke-width="1.0"/>
<text x="410.50" y="270.50" font-size="8.6" font-weight="normal" text-anchor="start" fill="#111" textLength="7.60" lengthAdjust="spacingAndGlyphs" stroke="#111" stroke-width="0.22">10</text>
<text x="418.40" y="267.60" font-size="5.6" font-weight="normal" text-anchor="start" fill="#111" textLength="3.10" lengthAdjust="spacingAndGlyphs" stroke="#111" stroke-width="0.22">0</text>
<line x1="422.36" y1="257.70" x2="422.36" y2="259.70" stroke="#000" stroke-width="0.8"/>
<line x1="426.38" y1="257.70" x2="426.38" y2="259.70" stroke="#000" stroke-width="0.8"/>
<line x1="429.23" y1="257.70" x2="429.23" y2="259.70" stroke="#000" stroke-width="0.8"/>
<line x1="431.44" y1="257.70" x2="431.44" y2="259.70" stroke="#000" stroke-width="0.8"/>
<line x1="433.24" y1="257.70" x2="433.24" y2="259.70" stroke="#000" stroke-width="0.8"/>
<line x1="434.77" y1="257.70" x2="434.77" y2="259.70" stroke="#000" stroke-width="0.8"/>
<line x1="436.09" y1="257.70" x2="436.09" y2="259.70" stroke="#000" stroke-width="0.8"/>
<line x1="437.26" y1="257.70" x2="437.26" y2="259.70" stroke="#000" stroke-width="0.8"/>
<line x1="438.30" y1="257.70" x2="438.30" y2="260.50" stroke="#000" stroke-width="1.0"/>
<text x="432.70" y="270.50" font-size="8.6" font-weight="normal" text-anchor="start" fill="#111" textLength="7.60" lengthAdjust="spacingAndGlyphs" stroke="#111" stroke-width="0.22">10</text>
<text x="440.60" y="267.60" font-size="5.6" font-weight="normal" text-anchor="start" fill="#111" textLength="3.10" lengthAdjust="spacingAndGlyphs" stroke="#111" stroke-width="0.22">1</text>
<line x1="445.16" y1="257.70" x2="445.16" y2="259.70" stroke="#000" stroke-width="0.8"/>
<line x1="449.18" y1="257.70" x2="449.18" y2="259.70" stroke="#000" stroke-width="0.8"/>
<line x1="452.03" y1="257.70" x2="452.03" y2="259.70" stroke="#000" stroke-width="0.8"/>
<line x1="454.24" y1="257.70" x2="454.24" y2="259.70" stroke="#000" stroke-width="0.8"/>
<line x1="456.04" y1="257.70" x2="456.04" y2="259.70" stroke="#000" stroke-width="0.8"/>
<line x1="457.57" y1="257.70" x2="457.57" y2="259.70" stroke="#000" stroke-width="0.8"/>
<line x1="458.89" y1="257.70" x2="458.89" y2="259.70" stroke="#000" stroke-width="0.8"/>
<line x1="460.06" y1="257.70" x2="460.06" y2="259.70" stroke="#000" stroke-width="0.8"/>
<line x1="461.10" y1="257.70" x2="461.10" y2="260.50" stroke="#000" stroke-width="1.0"/>
<text x="456.40" y="270.50" font-size="8.6" font-weight="normal" text-anchor="start" fill="#111" textLength="7.60" lengthAdjust="spacingAndGlyphs" stroke="#111" stroke-width="0.22">10</text>
<text x="464.30" y="267.60" font-size="5.6" font-weight="normal" text-anchor="start" fill="#111" textLength="3.10" lengthAdjust="spacingAndGlyphs" stroke="#111" stroke-width="0.22">2</text>
<line x1="467.87" y1="257.70" x2="467.87" y2="259.70" stroke="#000" stroke-width="0.8"/>
<line x1="471.84" y1="257.70" x2="471.84" y2="259.70" stroke="#000" stroke-width="0.8"/>
<line x1="474.65" y1="257.70" x2="474.65" y2="259.70" stroke="#000" stroke-width="0.8"/>
<line x1="476.83" y1="257.70" x2="476.83" y2="259.70" stroke="#000" stroke-width="0.8"/>
<line x1="478.61" y1="257.70" x2="478.61" y2="259.70" stroke="#000" stroke-width="0.8"/>
<line x1="480.11" y1="257.70" x2="480.11" y2="259.70" stroke="#000" stroke-width="0.8"/>
<line x1="481.42" y1="257.70" x2="481.42" y2="259.70" stroke="#000" stroke-width="0.8"/>
<line x1="482.57" y1="257.70" x2="482.57" y2="259.70" stroke="#000" stroke-width="0.8"/>
<line x1="483.60" y1="257.70" x2="483.60" y2="260.50" stroke="#000" stroke-width="1.0"/>
<text x="478.20" y="270.50" font-size="8.6" font-weight="normal" text-anchor="start" fill="#111" textLength="7.60" lengthAdjust="spacingAndGlyphs" stroke="#111" stroke-width="0.22">10</text>
<text x="486.10" y="267.60" font-size="5.6" font-weight="normal" text-anchor="start" fill="#111" textLength="3.10" lengthAdjust="spacingAndGlyphs" stroke="#111" stroke-width="0.22">3</text>
<line x1="490.28" y1="257.70" x2="490.28" y2="259.70" stroke="#000" stroke-width="0.8"/>
<line x1="494.19" y1="257.70" x2="494.19" y2="259.70" stroke="#000" stroke-width="0.8"/>
<line x1="496.97" y1="257.70" x2="496.97" y2="259.70" stroke="#000" stroke-width="0.8"/>
<line x1="499.12" y1="257.70" x2="499.12" y2="259.70" stroke="#000" stroke-width="0.8"/>
<line x1="500.87" y1="257.70" x2="500.87" y2="259.70" stroke="#000" stroke-width="0.8"/>
<line x1="502.36" y1="257.70" x2="502.36" y2="259.70" stroke="#000" stroke-width="0.8"/>
<line x1="503.65" y1="257.70" x2="503.65" y2="259.70" stroke="#000" stroke-width="0.8"/>
<line x1="504.78" y1="257.70" x2="504.78" y2="259.70" stroke="#000" stroke-width="0.8"/>
<line x1="505.80" y1="257.70" x2="505.80" y2="260.50" stroke="#000" stroke-width="1.0"/>
<text x="500.00" y="270.50" font-size="8.6" font-weight="normal" text-anchor="start" fill="#111" textLength="7.60" lengthAdjust="spacingAndGlyphs" stroke="#111" stroke-width="0.22">10</text>
<text x="507.90" y="267.60" font-size="5.6" font-weight="normal" text-anchor="start" fill="#111" textLength="3.10" lengthAdjust="spacingAndGlyphs" stroke="#111" stroke-width="0.22">4</text>
<text x="417.40" y="180.00" font-size="7.9" font-weight="bold" text-anchor="start" fill="#111" textLength="28.10" lengthAdjust="spacingAndGlyphs" stroke="#111" stroke-width="0.12">49.90%</text>
<rect x="472.30" y="219.80" width="28.50" height="6.60" fill="#fff"/>
<text x="472.60" y="225.70" font-size="7.9" font-weight="bold" text-anchor="start" fill="#111" textLength="27.90" lengthAdjust="spacingAndGlyphs" stroke="#111" stroke-width="0.12">40.70%</text>
<text x="428.80" y="162.70" font-size="9.8" font-weight="bold" text-anchor="start" fill="#111" textLength="50.80" lengthAdjust="spacingAndGlyphs" stroke="#111" stroke-width="0.3">Pf4-Cre; A2</text>
<text x="479.80" y="158.80" font-size="6.4" font-weight="bold" text-anchor="start" fill="#222" textLength="11.00" lengthAdjust="spacingAndGlyphs">fl/fl</text>
<line x1="277.80" y1="277.00" x2="277.80" y2="253.70" stroke="#000" stroke-width="1.2"/>
<line x1="277.20" y1="276.40" x2="319.50" y2="276.40" stroke="#000" stroke-width="1.2"/>
<path d="M275.40,255.40 L277.80,251.20 L280.20,255.40 Z" fill="#000"/>
<path d="M317.80,274.00 L322.00,276.40 L317.80,278.80 Z" fill="#000"/>
<text x="324.60" y="279.20" font-size="9.2" font-weight="bold" text-anchor="start" fill="#000" textLength="25.30" lengthAdjust="spacingAndGlyphs" stroke="#000" stroke-width="0.3">CD45.1</text>
<text x="279.60" y="234.00" font-size="10.0" font-weight="bold" text-anchor="middle" fill="#000" textLength="26.00" lengthAdjust="spacingAndGlyphs" transform="rotate(-90 279.60 234.00)" stroke="#000" stroke-width="0.3">CD45.2</text>
<line x1="298.50" y1="25.00" x2="298.50" y2="117.70" stroke="#111" stroke-width="1.1"/>
<line x1="298.00" y1="117.20" x2="479.60" y2="117.20" stroke="#111" stroke-width="1.1"/>
<line x1="295.30" y1="117.20" x2="298.50" y2="117.20" stroke="#111" stroke-width="1"/>
<text x="292.20" y="119.80" font-size="8.4" font-weight="normal" text-anchor="end" fill="#1a1a1a" textLength="4.40" lengthAdjust="spacingAndGlyphs" stroke="#1a1a1a" stroke-width="0.12">0</text>
<line x1="295.30" y1="88.30" x2="298.50" y2="88.30" stroke="#111" stroke-width="1"/>
<text x="292.20" y="90.90" font-size="8.4" font-weight="normal" text-anchor="end" fill="#1a1a1a" textLength="8.80" lengthAdjust="spacingAndGlyphs" stroke="#1a1a1a" stroke-width="0.12">20</text>
<line x1="295.30" y1="59.30" x2="298.50" y2="59.30" stroke="#111" stroke-width="1"/>
<text x="292.20" y="61.90" font-size="8.4" font-weight="normal" text-anchor="end" fill="#1a1a1a" textLength="8.80" lengthAdjust="spacingAndGlyphs" stroke="#1a1a1a" stroke-width="0.12">40</text>
<line x1="295.30" y1="30.20" x2="298.50" y2="30.20" stroke="#111" stroke-width="1"/>
<text x="292.20" y="32.80" font-size="8.4" font-weight="normal" text-anchor="end" fill="#1a1a1a" textLength="8.80" lengthAdjust="spacingAndGlyphs" stroke="#1a1a1a" stroke-width="0.12">60</text>
<rect x="307.50" y="74.30" width="11.30" height="42.90" fill="#C8102E"/>
<line x1="313.15" y1="71.00" x2="313.15" y2="74.80" stroke="#3a3a3a" stroke-width="1.1"/>
<line x1="310.15" y1="71.50" x2="316.15" y2="71.50" stroke="#3a3a3a" stroke-width="1.2"/>
<rect x="324.30" y="70.80" width="11.30" height="46.40" fill="#0F4F87"/>
<line x1="329.95" y1="68.70" x2="329.95" y2="71.30" stroke="#3a3a3a" stroke-width="1.1"/>
<line x1="326.95" y1="69.20" x2="332.95" y2="69.20" stroke="#3a3a3a" stroke-width="1.2"/>
<rect x="352.40" y="58.20" width="11.30" height="59.00" fill="#C8102E"/>
<line x1="358.05" y1="53.30" x2="358.05" y2="58.70" stroke="#3a3a3a" stroke-width="1.1"/>
<line x1="355.05" y1="53.80" x2="361.05" y2="53.80" stroke="#3a3a3a" stroke-width="1.2"/>
<rect x="369.20" y="54.00" width="11.30" height="63.20" fill="#0F4F87"/>
<line x1="374.85" y1="51.20" x2="374.85" y2="54.50" stroke="#3a3a3a" stroke-width="1.1"/>
<line x1="371.85" y1="51.70" x2="377.85" y2="51.70" stroke="#3a3a3a" stroke-width="1.2"/>
<rect x="397.20" y="56.40" width="11.30" height="60.80" fill="#C8102E"/>
<line x1="402.85" y1="50.00" x2="402.85" y2="56.90" stroke="#3a3a3a" stroke-width="1.1"/>
<line x1="399.85" y1="50.50" x2="405.85" y2="50.50" stroke="#3a3a3a" stroke-width="1.2"/>
<rect x="414.00" y="47.70" width="11.30" height="69.50" fill="#0F4F87"/>
<line x1="419.65" y1="45.10" x2="419.65" y2="48.20" stroke="#3a3a3a" stroke-width="1.1"/>
<line x1="416.65" y1="45.60" x2="422.65" y2="45.60" stroke="#3a3a3a" stroke-width="1.2"/>
<rect x="442.20" y="56.40" width="11.30" height="60.80" fill="#C8102E"/>
<line x1="447.85" y1="49.30" x2="447.85" y2="56.90" stroke="#3a3a3a" stroke-width="1.1"/>
<line x1="444.85" y1="49.80" x2="450.85" y2="49.80" stroke="#3a3a3a" stroke-width="1.2"/>
<rect x="459.00" y="58.00" width="11.30" height="59.20" fill="#0F4F87"/>
<line x1="464.65" y1="53.30" x2="464.65" y2="58.50" stroke="#3a3a3a" stroke-width="1.1"/>
<line x1="461.65" y1="53.80" x2="467.65" y2="53.80" stroke="#3a3a3a" stroke-width="1.2"/>
<line x1="321.55" y1="117.20" x2="321.55" y2="120.20" stroke="#111" stroke-width="1"/>
<text x="321.55" y="129.10" font-size="8.5" font-weight="normal" text-anchor="middle" fill="#1a1a1a" textLength="28.70" lengthAdjust="spacingAndGlyphs" stroke="#1a1a1a" stroke-width="0.12">4 weeks</text>
<line x1="366.45" y1="117.20" x2="366.45" y2="120.20" stroke="#111" stroke-width="1"/>
<text x="366.45" y="129.10" font-size="8.5" font-weight="normal" text-anchor="middle" fill="#1a1a1a" textLength="28.70" lengthAdjust="spacingAndGlyphs" stroke="#1a1a1a" stroke-width="0.12">8 weeks</text>
<line x1="411.25" y1="117.20" x2="411.25" y2="120.20" stroke="#111" stroke-width="1"/>
<text x="411.25" y="129.10" font-size="8.5" font-weight="normal" text-anchor="middle" fill="#1a1a1a" textLength="32.50" lengthAdjust="spacingAndGlyphs" stroke="#1a1a1a" stroke-width="0.12">12 weeks</text>
<line x1="456.25" y1="117.20" x2="456.25" y2="120.20" stroke="#111" stroke-width="1"/>
<text x="456.25" y="129.10" font-size="8.5" font-weight="normal" text-anchor="middle" fill="#1a1a1a" textLength="32.50" lengthAdjust="spacingAndGlyphs" stroke="#1a1a1a" stroke-width="0.12">16 weeks</text>
<rect x="304.90" y="20.80" width="4.80" height="4.80" fill="#C8102E"/>
<rect x="304.90" y="29.50" width="4.80" height="4.80" fill="#0F4F87"/>
<text x="313.00" y="25.40" font-size="7.0" font-weight="normal" text-anchor="start" fill="#1a1a1a" textLength="8.60" lengthAdjust="spacingAndGlyphs" stroke="#1a1a1a" stroke-width="0.12">A2</text>
<text x="321.80" y="22.40" font-size="5.0" font-weight="normal" text-anchor="start" fill="#555" textLength="7.40" lengthAdjust="spacingAndGlyphs">fl/fl</text>
<text x="313.00" y="34.10" font-size="7.0" font-weight="normal" text-anchor="start" fill="#1a1a1a" textLength="41.50" lengthAdjust="spacingAndGlyphs" stroke="#1a1a1a" stroke-width="0.12">Prx1-Cre; A2</text>
<text x="354.80" y="31.10" font-size="5.0" font-weight="normal" text-anchor="start" fill="#555" textLength="7.40" lengthAdjust="spacingAndGlyphs">fl/fl</text>
<text x="277.30" y="70.95" font-size="9.0" font-weight="normal" text-anchor="middle" fill="#262626" textLength="91.30" lengthAdjust="spacingAndGlyphs" transform="rotate(-90 277.30 70.95)" stroke="#262626" stroke-width="0.1">CD45.2<tspan font-size="6" dy="-3.2">+</tspan><tspan dy="3.2"> cells in the PB (%)</tspan></text>
<line x1="35.20" y1="178.50" x2="35.20" y2="270.30" stroke="#111" stroke-width="1.1"/>
<line x1="34.70" y1="269.80" x2="165.60" y2="269.80" stroke="#111" stroke-width="1.1"/>
<line x1="32.00" y1="269.80" x2="35.20" y2="269.80" stroke="#111" stroke-width="1"/>
<text x="28.90" y="272.40" font-size="8.4" font-weight="normal" text-anchor="end" fill="#1a1a1a" textLength="4.40" lengthAdjust="spacingAndGlyphs" stroke="#1a1a1a" stroke-width="0.12">0</text>
<line x1="32.00" y1="248.10" x2="35.20" y2="248.10" stroke="#111" stroke-width="1"/>
<text x="28.90" y="250.70" font-size="8.4" font-weight="normal" text-anchor="end" fill="#1a1a1a" textLength="8.80" lengthAdjust="spacingAndGlyphs" stroke="#1a1a1a" stroke-width="0.12">20</text>
<line x1="32.00" y1="226.40" x2="35.20" y2="226.40" stroke="#111" stroke-width="1"/>
<text x="28.90" y="229.00" font-size="8.4" font-weight="normal" text-anchor="end" fill="#1a1a1a" textLength="8.80" lengthAdjust="spacingAndGlyphs" stroke="#1a1a1a" stroke-width="0.12">40</text>
<line x1="32.00" y1="204.70" x2="35.20" y2="204.70" stroke="#111" stroke-width="1"/>
<text x="28.90" y="207.30" font-size="8.4" font-weight="normal" text-anchor="end" fill="#1a1a1a" textLength="8.80" lengthAdjust="spacingAndGlyphs" stroke="#1a1a1a" stroke-width="0.12">60</text>
<line x1="32.00" y1="183.00" x2="35.20" y2="183.00" stroke="#111" stroke-width="1"/>
<text x="28.90" y="185.60" font-size="8.4" font-weight="normal" text-anchor="end" fill="#1a1a1a" textLength="8.80" lengthAdjust="spacingAndGlyphs" stroke="#1a1a1a" stroke-width="0.12">80</text>
<rect x="43.70" y="264.50" width="11.40" height="5.30" fill="#C8102E"/>
<line x1="49.40" y1="261.30" x2="49.40" y2="265.00" stroke="#3a3a3a" stroke-width="1.1"/>
<line x1="46.40" y1="261.80" x2="52.40" y2="261.80" stroke="#3a3a3a" stroke-width="1.2"/>
<rect x="60.40" y="264.50" width="11.40" height="5.30" fill="#0F4F87"/>
<line x1="66.10" y1="261.30" x2="66.10" y2="265.00" stroke="#3a3a3a" stroke-width="1.1"/>
<line x1="63.10" y1="261.80" x2="69.10" y2="261.80" stroke="#3a3a3a" stroke-width="1.2"/>
<rect x="87.00" y="194.70" width="11.40" height="75.10" fill="#C8102E"/>
<line x1="92.70" y1="188.10" x2="92.70" y2="195.20" stroke="#3a3a3a" stroke-width="1.1"/>
<line x1="89.70" y1="188.60" x2="95.70" y2="188.60" stroke="#3a3a3a" stroke-width="1.2"/>
<rect x="103.70" y="201.90" width="11.40" height="67.90" fill="#0F4F87"/>
<line x1="109.40" y1="195.40" x2="109.40" y2="202.40" stroke="#3a3a3a" stroke-width="1.1"/>
<line x1="106.40" y1="195.90" x2="112.40" y2="195.90" stroke="#3a3a3a" stroke-width="1.2"/>
<rect x="130.40" y="243.80" width="11.40" height="26.00" fill="#C8102E"/>
<line x1="136.10" y1="236.60" x2="136.10" y2="244.30" stroke="#3a3a3a" stroke-width="1.1"/>
<line x1="133.10" y1="237.10" x2="139.10" y2="237.10" stroke="#3a3a3a" stroke-width="1.2"/>
<rect x="147.10" y="235.00" width="11.40" height="34.80" fill="#0F4F87"/>
<line x1="152.80" y1="227.30" x2="152.80" y2="235.50" stroke="#3a3a3a" stroke-width="1.1"/>
<line x1="149.80" y1="227.80" x2="155.80" y2="227.80" stroke="#3a3a3a" stroke-width="1.2"/>
<line x1="58.00" y1="269.80" x2="58.00" y2="272.80" stroke="#111" stroke-width="1"/>
<text x="58.00" y="282.00" font-size="8.5" font-weight="normal" text-anchor="middle" fill="#1a1a1a" textLength="40.40" lengthAdjust="spacingAndGlyphs" stroke="#1a1a1a" stroke-width="0.12">Gr-1/Mac-1</text>
<line x1="101.00" y1="269.80" x2="101.00" y2="272.80" stroke="#111" stroke-width="1"/>
<text x="101.00" y="282.00" font-size="8.5" font-weight="normal" text-anchor="middle" fill="#1a1a1a" textLength="19.40" lengthAdjust="spacingAndGlyphs" stroke="#1a1a1a" stroke-width="0.12">B220</text>
<line x1="144.30" y1="269.80" x2="144.30" y2="272.80" stroke="#111" stroke-width="1"/>
<text x="144.30" y="282.00" font-size="8.5" font-weight="normal" text-anchor="middle" fill="#1a1a1a" textLength="20.70" lengthAdjust="spacingAndGlyphs" stroke="#1a1a1a" stroke-width="0.12">CD3e</text>
<rect x="41.50" y="166.80" width="4.80" height="4.80" fill="#C8102E"/>
<rect x="41.50" y="175.30" width="4.80" height="4.80" fill="#0F4F87"/>
<text x="49.50" y="171.40" font-size="7.0" font-weight="normal" text-anchor="start" fill="#1a1a1a" textLength="8.60" lengthAdjust="spacingAndGlyphs" stroke="#1a1a1a" stroke-width="0.12">A2</text>
<text x="58.30" y="168.40" font-size="5.0" font-weight="normal" text-anchor="start" fill="#555" textLength="7.40" lengthAdjust="spacingAndGlyphs">fl/fl</text>
<text x="49.50" y="179.90" font-size="7.0" font-weight="normal" text-anchor="start" fill="#1a1a1a" textLength="41.90" lengthAdjust="spacingAndGlyphs" stroke="#1a1a1a" stroke-width="0.12">Prx1-Cre; A2</text>
<text x="91.70" y="176.90" font-size="5.0" font-weight="normal" text-anchor="start" fill="#555" textLength="7.40" lengthAdjust="spacingAndGlyphs">fl/fl</text>
<text x="14.70" y="223.30" font-size="9.0" font-weight="normal" text-anchor="middle" fill="#262626" textLength="42.80" lengthAdjust="spacingAndGlyphs" transform="rotate(-90 14.70 223.30)" stroke="#262626" stroke-width="0.1">% of lineages</text>
<line x1="36.00" y1="317.00" x2="36.00" y2="409.30" stroke="#111" stroke-width="1.1"/>
<line x1="35.50" y1="408.80" x2="216.60" y2="408.80" stroke="#111" stroke-width="1.1"/>
<line x1="32.80" y1="408.80" x2="36.00" y2="408.80" stroke="#111" stroke-width="1"/>
<text x="29.70" y="411.40" font-size="8.4" font-weight="normal" text-anchor="end" fill="#1a1a1a" textLength="4.40" lengthAdjust="spacingAndGlyphs" stroke="#1a1a1a" stroke-width="0.12">0</text>
<line x1="32.80" y1="379.80" x2="36.00" y2="379.80" stroke="#111" stroke-width="1"/>
<text x="29.70" y="382.40" font-size="8.4" font-weight="normal" text-anchor="end" fill="#1a1a1a" textLength="8.80" lengthAdjust="spacingAndGlyphs" stroke="#1a1a1a" stroke-width="0.12">20</text>
<line x1="32.80" y1="350.80" x2="36.00" y2="350.80" stroke="#111" stroke-width="1"/>
<text x="29.70" y="353.40" font-size="8.4" font-weight="normal" text-anchor="end" fill="#1a1a1a" textLength="8.80" lengthAdjust="spacingAndGlyphs" stroke="#1a1a1a" stroke-width="0.12">40</text>
<line x1="32.80" y1="321.70" x2="36.00" y2="321.70" stroke="#111" stroke-width="1"/>
<text x="29.70" y="324.30" font-size="8.4" font-weight="normal" text-anchor="end" fill="#1a1a1a" textLength="8.80" lengthAdjust="spacingAndGlyphs" stroke="#1a1a1a" stroke-width="0.12">60</text>
<rect x="44.50" y="370.20" width="11.40" height="38.60" fill="#C8102E"/>
<line x1="50.20" y1="368.40" x2="50.20" y2="370.70" stroke="#3a3a3a" stroke-width="1.1"/>
<line x1="47.20" y1="368.90" x2="53.20" y2="368.90" stroke="#3a3a3a" stroke-width="1.2"/>
<rect x="61.40" y="367.20" width="11.40" height="41.60" fill="#0F4F87"/>
<line x1="67.10" y1="359.30" x2="67.10" y2="367.70" stroke="#3a3a3a" stroke-width="1.1"/>
<line x1="64.10" y1="359.80" x2="70.10" y2="359.80" stroke="#3a3a3a" stroke-width="1.2"/>
<rect x="89.60" y="352.00" width="11.40" height="56.80" fill="#C8102E"/>
<line x1="95.30" y1="338.20" x2="95.30" y2="352.50" stroke="#3a3a3a" stroke-width="1.1"/>
<line x1="92.30" y1="338.70" x2="98.30" y2="338.70" stroke="#3a3a3a" stroke-width="1.2"/>
<rect x="106.50" y="335.90" width="11.40" height="72.90" fill="#0F4F87"/>
<line x1="112.20" y1="324.20" x2="112.20" y2="336.40" stroke="#3a3a3a" stroke-width="1.1"/>
<line x1="109.20" y1="324.70" x2="115.20" y2="324.70" stroke="#3a3a3a" stroke-width="1.2"/>
<rect x="134.30" y="351.50" width="11.40" height="57.30" fill="#C8102E"/>
<line x1="140.00" y1="344.50" x2="140.00" y2="352.00" stroke="#3a3a3a" stroke-width="1.1"/>
<line x1="137.00" y1="345.00" x2="143.00" y2="345.00" stroke="#3a3a3a" stroke-width="1.2"/>
<rect x="151.20" y="349.70" width="11.40" height="59.10" fill="#0F4F87"/>
<line x1="156.90" y1="332.90" x2="156.90" y2="350.20" stroke="#3a3a3a" stroke-width="1.1"/>
<line x1="153.90" y1="333.40" x2="159.90" y2="333.40" stroke="#3a3a3a" stroke-width="1.2"/>
<rect x="179.90" y="346.40" width="11.40" height="62.40" fill="#C8102E"/>
<line x1="185.60" y1="340.30" x2="185.60" y2="346.90" stroke="#3a3a3a" stroke-width="1.1"/>
<line x1="182.60" y1="340.80" x2="188.60" y2="340.80" stroke="#3a3a3a" stroke-width="1.2"/>
<rect x="196.80" y="335.70" width="11.40" height="73.10" fill="#0F4F87"/>
<line x1="202.50" y1="331.00" x2="202.50" y2="336.20" stroke="#3a3a3a" stroke-width="1.1"/>
<line x1="199.50" y1="331.50" x2="205.50" y2="331.50" stroke="#3a3a3a" stroke-width="1.2"/>
<line x1="58.65" y1="408.80" x2="58.65" y2="411.80" stroke="#111" stroke-width="1"/>
<text x="58.65" y="421.00" font-size="8.5" font-weight="normal" text-anchor="middle" fill="#1a1a1a" textLength="28.70" lengthAdjust="spacingAndGlyphs" stroke="#1a1a1a" stroke-width="0.12">4 weeks</text>
<line x1="103.75" y1="408.80" x2="103.75" y2="411.80" stroke="#111" stroke-width="1"/>
<text x="103.75" y="421.00" font-size="8.5" font-weight="normal" text-anchor="middle" fill="#1a1a1a" textLength="28.70" lengthAdjust="spacingAndGlyphs" stroke="#1a1a1a" stroke-width="0.12">8 weeks</text>
<line x1="148.45" y1="408.80" x2="148.45" y2="411.80" stroke="#111" stroke-width="1"/>
<text x="148.45" y="421.00" font-size="8.5" font-weight="normal" text-anchor="middle" fill="#1a1a1a" textLength="32.50" lengthAdjust="spacingAndGlyphs" stroke="#1a1a1a" stroke-width="0.12">12 weeks</text>
<line x1="194.05" y1="408.80" x2="194.05" y2="411.80" stroke="#111" stroke-width="1"/>
<text x="194.05" y="421.00" font-size="8.5" font-weight="normal" text-anchor="middle" fill="#1a1a1a" textLength="32.50" lengthAdjust="spacingAndGlyphs" stroke="#1a1a1a" stroke-width="0.12">16 weeks</text>
<rect x="42.00" y="304.90" width="4.80" height="4.80" fill="#C8102E"/>
<rect x="42.00" y="313.60" width="4.80" height="4.80" fill="#0F4F87"/>
<text x="49.50" y="309.50" font-size="7.0" font-weight="normal" text-anchor="start" fill="#1a1a1a" textLength="8.60" lengthAdjust="spacingAndGlyphs" stroke="#1a1a1a" stroke-width="0.12">A2</text>
<text x="58.30" y="306.50" font-size="5.0" font-weight="normal" text-anchor="start" fill="#555" textLength="7.40" lengthAdjust="spacingAndGlyphs">fl/fl</text>
<text x="49.50" y="318.20" font-size="7.0" font-weight="normal" text-anchor="start" fill="#1a1a1a" textLength="37.40" lengthAdjust="spacingAndGlyphs" stroke="#1a1a1a" stroke-width="0.12">Pf4-Cre; A2</text>
<text x="87.20" y="315.20" font-size="5.0" font-weight="normal" text-anchor="start" fill="#555" textLength="7.40" lengthAdjust="spacingAndGlyphs">fl/fl</text>
<text x="14.40" y="364.00" font-size="9.0" font-weight="normal" text-anchor="middle" fill="#262626" textLength="92.60" lengthAdjust="spacingAndGlyphs" transform="rotate(-90 14.40 364.00)" stroke="#262626" stroke-width="0.1">CD45.2<tspan font-size="6" dy="-3.2">+</tspan><tspan dy="3.2"> cells in the PB (%)</tspan></text>
<line x1="298.10" y1="316.50" x2="298.10" y2="408.70" stroke="#111" stroke-width="1.1"/>
<line x1="297.60" y1="408.20" x2="427.70" y2="408.20" stroke="#111" stroke-width="1.1"/>
<line x1="294.90" y1="408.20" x2="298.10" y2="408.20" stroke="#111" stroke-width="1"/>
<text x="291.80" y="410.80" font-size="8.4" font-weight="normal" text-anchor="end" fill="#1a1a1a" textLength="4.40" lengthAdjust="spacingAndGlyphs" stroke="#1a1a1a" stroke-width="0.12">0</text>
<line x1="294.90" y1="386.50" x2="298.10" y2="386.50" stroke="#111" stroke-width="1"/>
<text x="291.80" y="389.10" font-size="8.4" font-weight="normal" text-anchor="end" fill="#1a1a1a" textLength="8.80" lengthAdjust="spacingAndGlyphs" stroke="#1a1a1a" stroke-width="0.12">20</text>
<line x1="294.90" y1="364.80" x2="298.10" y2="364.80" stroke="#111" stroke-width="1"/>
<text x="291.80" y="367.40" font-size="8.4" font-weight="normal" text-anchor="end" fill="#1a1a1a" textLength="8.80" lengthAdjust="spacingAndGlyphs" stroke="#1a1a1a" stroke-width="0.12">40</text>
<line x1="294.90" y1="343.10" x2="298.10" y2="343.10" stroke="#111" stroke-width="1"/>
<text x="291.80" y="345.70" font-size="8.4" font-weight="normal" text-anchor="end" fill="#1a1a1a" textLength="8.80" lengthAdjust="spacingAndGlyphs" stroke="#1a1a1a" stroke-width="0.12">60</text>
<line x1="294.90" y1="321.40" x2="298.10" y2="321.40" stroke="#111" stroke-width="1"/>
<text x="291.80" y="324.00" font-size="8.4" font-weight="normal" text-anchor="end" fill="#1a1a1a" textLength="8.80" lengthAdjust="spacingAndGlyphs" stroke="#1a1a1a" stroke-width="0.12">80</text>
<rect x="303.10" y="402.20" width="11.60" height="6.00" fill="#C8102E"/>
<line x1="308.90" y1="399.40" x2="308.90" y2="402.70" stroke="#3a3a3a" stroke-width="1.1"/>
<line x1="305.90" y1="399.90" x2="311.90" y2="399.90" stroke="#3a3a3a" stroke-width="1.2"/>
<rect x="319.80" y="399.00" width="11.50" height="9.20" fill="#0F4F87"/>
<line x1="325.55" y1="394.30" x2="325.55" y2="399.50" stroke="#3a3a3a" stroke-width="1.1"/>
<line x1="322.55" y1="394.80" x2="328.55" y2="394.80" stroke="#3a3a3a" stroke-width="1.2"/>
<rect x="350.20" y="335.20" width="11.00" height="73.00" fill="#C8102E"/>
<line x1="355.70" y1="329.80" x2="355.70" y2="335.70" stroke="#3a3a3a" stroke-width="1.1"/>
<line x1="352.70" y1="330.30" x2="358.70" y2="330.30" stroke="#3a3a3a" stroke-width="1.2"/>
<rect x="366.90" y="334.00" width="11.60" height="74.20" fill="#0F4F87"/>
<line x1="372.70" y1="331.20" x2="372.70" y2="334.50" stroke="#3a3a3a" stroke-width="1.1"/>
<line x1="369.70" y1="331.70" x2="375.70" y2="331.70" stroke="#3a3a3a" stroke-width="1.2"/>
<rect x="393.30" y="389.00" width="11.60" height="19.20" fill="#C8102E"/>
<line x1="399.10" y1="383.80" x2="399.10" y2="389.50" stroke="#3a3a3a" stroke-width="1.1"/>
<line x1="396.10" y1="384.30" x2="402.10" y2="384.30" stroke="#3a3a3a" stroke-width="1.2"/>
<rect x="410.00" y="390.00" width="11.50" height="18.20" fill="#0F4F87"/>
<line x1="415.75" y1="386.70" x2="415.75" y2="390.50" stroke="#3a3a3a" stroke-width="1.1"/>
<line x1="412.75" y1="387.20" x2="418.75" y2="387.20" stroke="#3a3a3a" stroke-width="1.2"/>
<line x1="320.60" y1="408.20" x2="320.60" y2="411.20" stroke="#111" stroke-width="1"/>
<text x="320.60" y="420.60" font-size="8.5" font-weight="normal" text-anchor="middle" fill="#1a1a1a" textLength="40.40" lengthAdjust="spacingAndGlyphs" stroke="#1a1a1a" stroke-width="0.12">Gr-1/Mac-1</text>
<line x1="363.90" y1="408.20" x2="363.90" y2="411.20" stroke="#111" stroke-width="1"/>
<text x="363.90" y="420.60" font-size="8.5" font-weight="normal" text-anchor="middle" fill="#1a1a1a" textLength="19.40" lengthAdjust="spacingAndGlyphs" stroke="#1a1a1a" stroke-width="0.12">B220</text>
<line x1="407.10" y1="408.20" x2="407.10" y2="411.20" stroke="#111" stroke-width="1"/>
<text x="407.10" y="420.60" font-size="8.5" font-weight="normal" text-anchor="middle" fill="#1a1a1a" textLength="20.70" lengthAdjust="spacingAndGlyphs" stroke="#1a1a1a" stroke-width="0.12">CD3e</text>
<rect x="305.50" y="305.40" width="4.80" height="4.80" fill="#C8102E"/>
<rect x="305.50" y="313.60" width="4.80" height="4.80" fill="#0F4F87"/>
<text x="313.70" y="310.00" font-size="7.0" font-weight="normal" text-anchor="start" fill="#1a1a1a" textLength="8.60" lengthAdjust="spacingAndGlyphs" stroke="#1a1a1a" stroke-width="0.12">A2</text>
<text x="322.50" y="307.00" font-size="5.0" font-weight="normal" text-anchor="start" fill="#555" textLength="7.40" lengthAdjust="spacingAndGlyphs">fl/fl</text>
<text x="313.70" y="318.20" font-size="7.0" font-weight="normal" text-anchor="start" fill="#1a1a1a" textLength="37.20" lengthAdjust="spacingAndGlyphs" stroke="#1a1a1a" stroke-width="0.12">Pf4-Cre; A2</text>
<text x="351.20" y="315.20" font-size="5.0" font-weight="normal" text-anchor="start" fill="#555" textLength="7.40" lengthAdjust="spacingAndGlyphs">fl/fl</text>
<text x="278.30" y="362.30" font-size="9.0" font-weight="normal" text-anchor="middle" fill="#262626" textLength="43.50" lengthAdjust="spacingAndGlyphs" transform="rotate(-90 278.30 362.30)" stroke="#262626" stroke-width="0.1">% of lineages</text>
</svg>
</body></html>
